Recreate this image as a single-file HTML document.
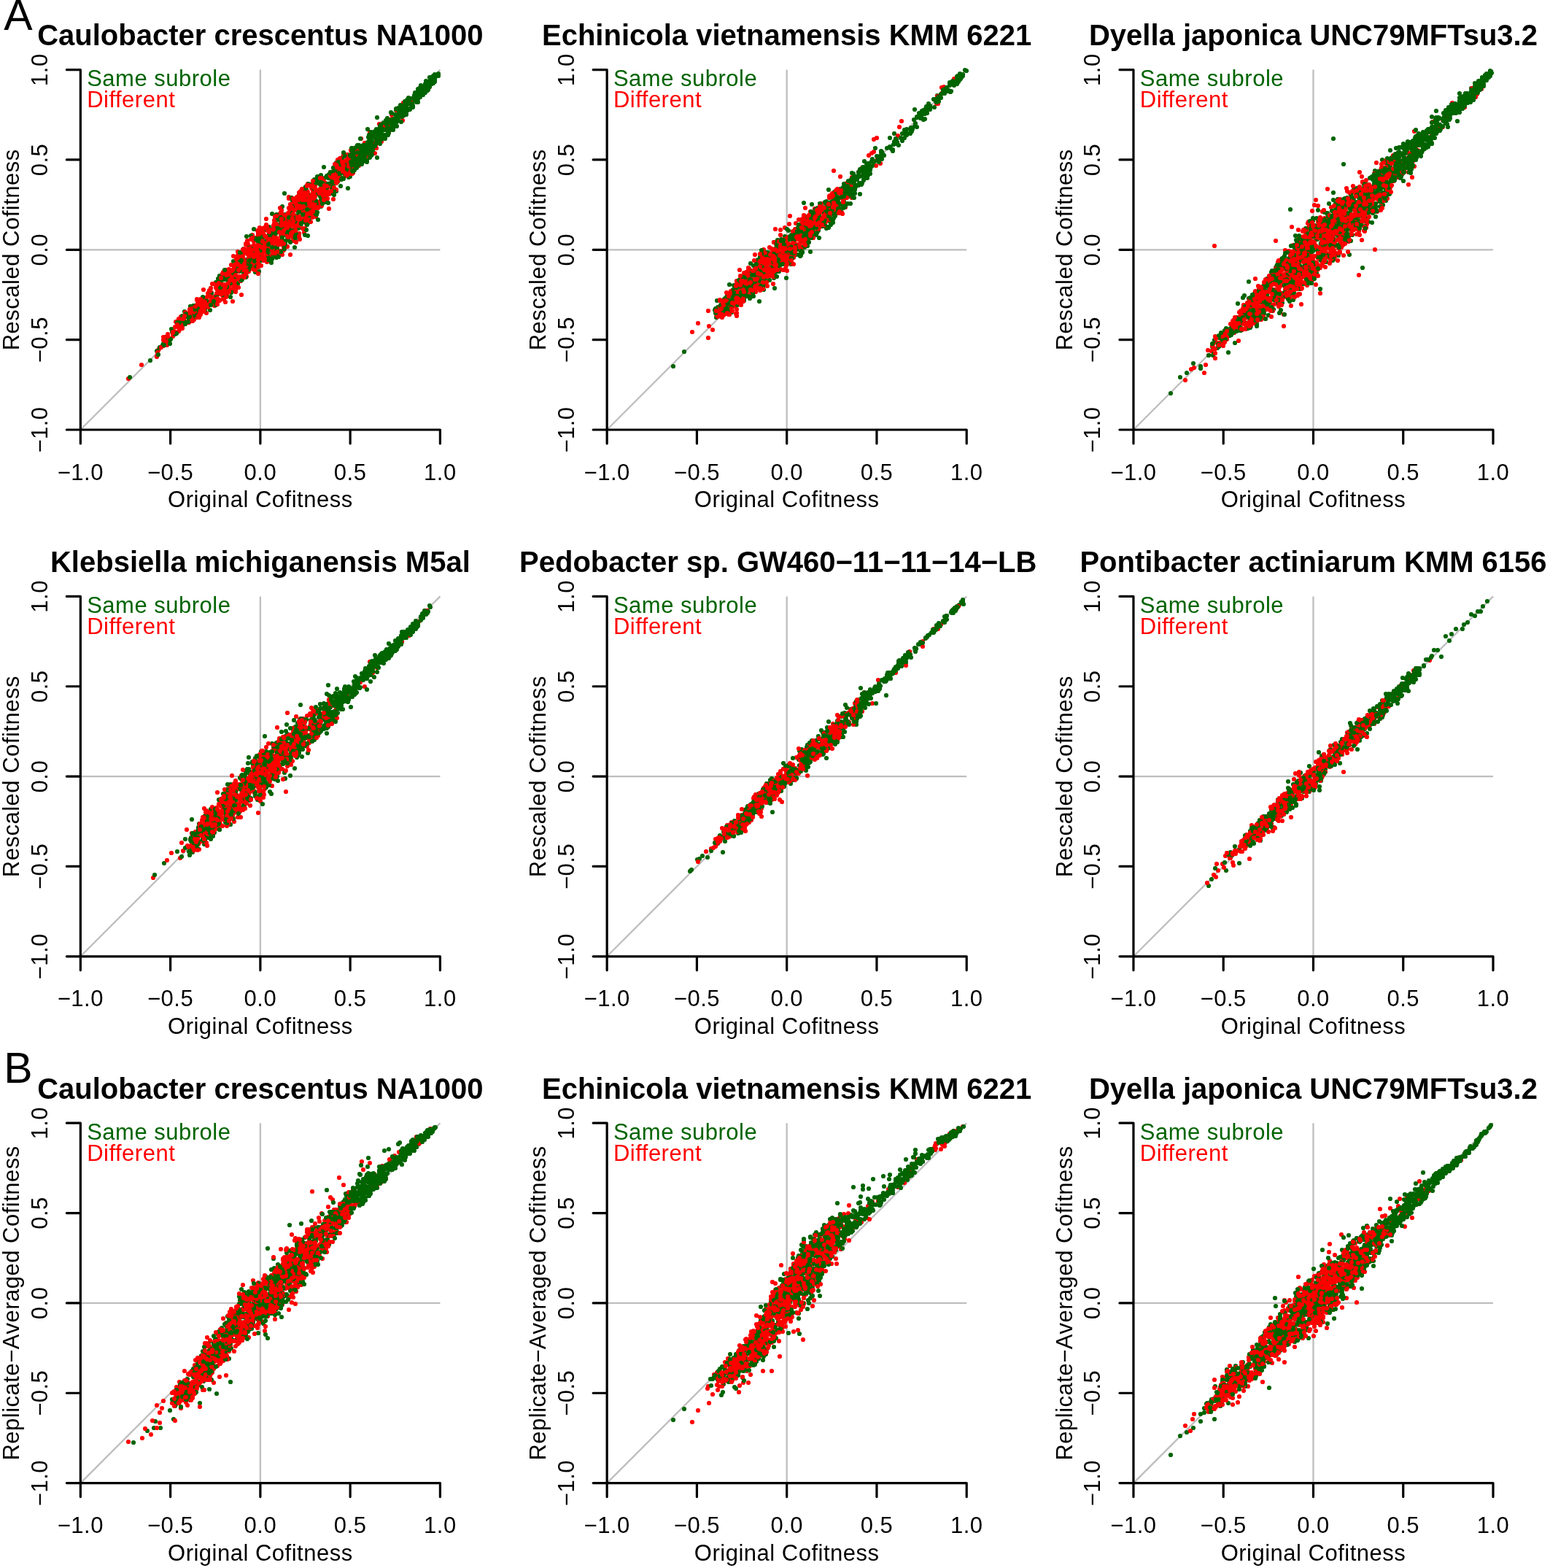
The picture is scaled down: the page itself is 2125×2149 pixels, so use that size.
<!DOCTYPE html><html><head><meta charset="utf-8"><style>html,body{margin:0;padding:0;background:#fff;}svg{display:block;}</style></head><body>
<svg xmlns="http://www.w3.org/2000/svg" width="2125" height="2149" viewBox="0 0 2125 2149" font-family="'Liberation Sans', Arial, Helvetica, sans-serif" font-size="31.0" letter-spacing="0.5">
<rect width="2125" height="2149" fill="#fff"/>
<path d="M356.88 589.00V95.60M110.35 342.30H603.41M110.35 589.00L603.41 95.60" stroke="#bebebe" stroke-width="2.3" fill="none"/>
<g stroke-width="6.2" stroke-linecap="round" fill="none">
<path d="M379 345h0m35 -62h0m-95 116h0m-55 33h0m177 -176h0m39 -39h0m-85 103h0m-73 70h0m-69 37h0m101 -63h0m57 -76h0m184 -182h0m-273 263h0m-18 12h0m-7 31h0m226 -232h0m-185 180h0m-29 40h0m57 -61h0m114 -121h0m-105 120h0m-82 78h0m118 -139h0m62 -46h0m-113 95h0m-47 59h0m92 -55h0m-108 57h0m130 -95h0m23 -48h0m-200 203h0m271 -253h0m-77 55h0m-107 110h0m-76 61h0m81 -53h0m111 -123h0m-14 33h0m-44 51h0m-72 53h0m142 -144h0m8 3h0m-54 25h0m168 -142h0m-235 228h0m-128 120h0m233 -211h0m-51 48h0m34 -34h0m-39 27h0m-113 114h0m177 -194h0m-200 198h0m86 -91h0m113 -86h0m-107 81h0m44 -48h0m47 -10h0m-66 32h0m58 -14h0m-114 83h0m50 -44h0m-4 28h0m18 -85h0m-35 75h0m0 32h0m64 -95h0m-77 68h0m68 -78h0m-31 73h0m197 -207h0m-311 302h0m-41 37h0m88 -73h0m112 -132h0m17 -10h0m37 -14h0m-81 70h0m49 -46h0m9 -2h0m-203 173h0m178 -183h0m-77 93h0m13 -19h0m-56 50h0m112 -108h0m-29 67h0m-91 45h0m156 -134h0m32 -42h0m-81 100h0m-64 49h0m67 -51h0m51 -56h0m-175 176h0m187 -200h0m65 -55h0m-24 15h0m-138 121h0m27 16h0m-69 50h0m130 -128h0m-62 42h0m36 -16h0m-84 49h0m-83 106h0m298 -285h0m-203 203h0m123 -125h0m73 -72h0m-236 201h0m94 -75h0m-52 70h0m57 -53h0m-125 108h0m127 -138h0m-103 130h0m25 -44h0m69 -85h0m-47 33h0m64 -42h0m-15 55h0m-30 -8h0m-58 43h0m-68 96h0m146 -166h0m-19 29h0m2 27h0m-16 24h0m-76 35h0m47 -13h0m216 -228h0m-281 274h0m146 -166h0m82 -68h0m-193 191h0m143 -139h0m-41 86h0m-149 107h0m114 -86h0m80 -109h0m-133 126h0m-7 -5h0m-2 12h0m-76 78h0m27 -32h0m185 -178h0m-72 86h0m90 -96h0m-73 86h0m-30 13h0m159 -147h0m-240 233h0" stroke="#006400"/>
<path d="M403 287h0m-100 112h0m197 -180h0m-32 5h0m-124 114h0m-14 24h0m45 -18h0m-103 83h0m141 -143h0m36 -22h0m-190 173h0m143 -156h0m15 -5h0m70 -71h0m36 -27h0m-141 157h0m-70 51h0m120 -122h0m-71 82h0m-18 6h0m-52 39h0m165 -151h0m-145 140h0m31 -28h0m121 -119h0m-213 214h0m156 -137h0m7 -31h0m-24 66h0m-47 19h0m65 -56h0m-21 23h0m62 -53h0m-26 27h0m-70 39h0m-32 9h0m26 -29h0m71 -40h0m87 -71h0m-221 218h0m84 -79h0m17 -5h0m60 -93h0m-19 16h0m-116 108h0m-18 37h0m49 -76h0m92 -82h0m-3 -2h0m-11 60h0m39 -72h0m-149 161h0m138 -140h0m-151 144h0m-16 -9h0m33 -7h0m84 -120h0m-47 87h0m7 -24h0m59 -47h0m19 -2h0m117 -135h0m-113 118h0m0 -25h0m-32 77h0m63 -99h0m-111 120h0m-5 1h0m-19 36h0m4 -34h0m61 -29h0m-94 91h0m37 -53h0m-2 -3h0m15 -2h0m21 -29h0m136 -122h0m-57 60h0m-194 171h0m61 -63h0m109 -98h0m-186 174h0m107 -103h0m33 -13h0m-142 121h0m132 -114h0m-131 117h0m-7 10h0m89 -108h0m33 -25h0m-141 153h0m50 -59h0m167 -137h0m-66 50h0m-55 37h0m275 -250h0m-160 133h0m-77 102h0m29 -5h0m59 -72h0m1 5h0m-36 3h0m-96 129h0m243 -255h0m-135 160h0m-93 39h0m24 -21h0m53 -40h0m-142 142h0m163 -187h0m-91 106h0m-114 122h0m126 -140h0m10 -24h0m-39 76h0m9 8h0m62 -103h0m-31 39h0m138 -133h0m-44 57h0m-73 62h0m-20 0h0m137 -95h0m-264 235h0m102 -95h0m87 -52h0m14 -28h0m-94 81h0m215 -203h0m-313 289h0m74 -71h0m-88 83h0m228 -213h0m-136 110h0m37 12h0m15 -24h0m96 -124h0m58 -33h0m-158 106h0m-91 111h0m87 -54h0m25 -56h0m55 -23h0m-20 2h0m-124 131h0m43 -67h0m-76 92h0m190 -185h0m-134 144h0m196 -200h0m-76 58h0m-130 127h0m102 -93h0m-22 53h0m46 -79h0m95 -89h0m45 -51h0m-321 313h0m6 -3h0m89 -105h0m-30 63h0m77 -66h0m7 -13h0m-54 51h0m34 -17h0m23 -33h0m-55 31h0m-18 3h0m71 -66h0m-42 77h0m167 -178h0m-108 116h0m-103 119h0m162 -207h0m-2 32h0m-28 18h0m-55 16h0m94 -66h0m-63 52h0m-175 181h0m104 -127h0m79 -46h0m-70 67h0m45 -69h0m43 -28h0m-47 96h0m-64 28h0m160 -163h0m-153 161h0m145 -145h0m-96 136h0m-70 15h0m3 -18h0m-102 127h0m125 -138h0m-124 131h0m144 -132h0m12 -46h0m-15 28h0m-34 45h0m245 -235h0m-337 328h0m40 -52h0m77 -64h0m213 -215h0m-186 216h0m31 -43h0m-143 118h0m49 -61h0m106 -99h0m35 -30h0m-178 183h0m-6 5h0m55 -33h0m134 -151h0m-169 172h0m-16 -2h0m184 -172h0m-43 72h0m-132 110h0m55 -43h0m-45 35h0m105 -72h0m-36 12h0m-93 80h0m84 -74h0m-29 -12h0m83 -27h0m-193 159h0m182 -197h0m107 -66h0m-244 213h0m137 -106h0m-45 31h0m2 -30h0m38 -38h0m143 -119h0m-135 130h0m17 -31h0m-85 97h0m121 -114h0m-124 127h0m53 -45h0m-11 -19h0" stroke="#ff0000"/>
<path d="M458 242h0m-108 100h0m-70 69h0m316 -303h0m-227 203h0m68 -63h0m37 -8h0m-200 192h0m-30 8h0m327 -307h0m-159 131h0m-76 111h0m128 -137h0m-141 129h0m82 -61h0m-73 62h0m-12 21h0m131 -150h0m-51 60h0m55 -51h0m-105 106h0m188 -190h0m-195 204h0m118 -145h0m-154 183h0m16 -26h0m154 -122h0m-140 122h0m78 -88h0m-126 103h0m25 -23h0m116 -111h0m-94 95h0m51 -73h0m-33 48h0m40 -6h0m123 -145h0m-164 183h0m36 -46h0m18 -42h0m31 6h0m-99 92h0m-97 84h0m225 -213h0m-88 109h0m53 -84h0m-144 137h0m115 -129h0m-6 24h0m3 -30h0m22 13h0m-114 111h0m154 -148h0m-1 15h0m-25 15h0m-27 36h0m37 -36h0m20 -55h0m-18 39h0m109 -116h0m-181 199h0m142 -152h0m-137 109h0m9 -4h0m-133 135h0m4 -12h0m149 -100h0m-44 28h0m-42 39h0m208 -204h0m-86 68h0m31 -24h0m-59 50h0m-28 64h0m52 -97h0m-6 22h0m41 -54h0m-11 30h0m-45 66h0m-114 100h0m144 -143h0m-87 66h0m-104 103h0m85 -69h0m96 -111h0m-40 36h0m38 -37h0m44 -30h0m-40 50h0m-74 70h0m103 -112h0m-193 178h0m162 -139h0m-12 23h0m22 -41h0m-128 129h0m236 -230h0m-225 221h0m-63 52h0m99 -102h0m83 -86h0m-45 53h0m-82 78h0m48 -53h0m-138 141h0m137 -114h0m110 -138h0m60 -52h0m-219 207h0m41 -44h0m199 -178h0m-123 144h0m-82 71h0m50 -41h0m53 -75h0m-195 190h0m169 -148h0m-137 105h0m35 -8h0m83 -84h0m59 -54h0m38 -55h0m-117 126h0m58 -47h0m-236 216h0m109 -104h0m12 -37h0m-19 38h0m114 -131h0m-33 83h0m-1 -42h0m68 -39h0m-140 115h0m25 -16h0m203 -196h0m-91 82h0m-37 31h0m38 -5h0m-19 -14h0m-132 166h0m-58 35h0m179 -161h0m-89 57h0m37 -18h0m63 -77h0m22 -6h0m-52 47h0m-54 31h0m-97 104h0m306 -294h0m-242 234h0m148 -130h0m-111 88h0m-53 67h0m61 -71h0m100 -93h0m-270 274h0m188 -189h0m-60 37h0m-2 41h0m99 -131h0m42 -39h0m-164 180h0m45 -46h0m14 6h0m-77 60h0m65 -65h0m47 -62h0m32 5h0m23 -46h0m-33 8h0m-111 123h0m78 -70h0m2 6h0m-116 95h0m130 -112h0m-64 28h0m240 -209h0m-107 104h0" stroke="#006400"/>
<path d="M413 277h0m-123 131h0m99 -88h0m143 -144h0m-129 151h0m1 -12h0m58 -86h0m-29 68h0m-187 145h0m269 -252h0m-110 119h0m-11 11h0m16 0h0m79 -111h0m-120 105h0m-99 117h0m89 -118h0m89 -51h0m-67 56h0m18 -28h0m145 -139h0m-138 171h0m-20 0h0m43 -61h0m-163 177h0m5 -22h0m126 -129h0m-25 53h0m41 -57h0m-19 55h0m-81 62h0m152 -154h0m-175 155h0m66 -58h0m-28 10h0m117 -103h0m-134 154h0m110 -120h0m38 -59h0m-11 41h0m-147 146h0m-71 46h0m198 -174h0m57 -78h0m-231 238h0m114 -106h0m-48 53h0m42 -56h0m-7 -15h0m-107 123h0m141 -140h0m-7 27h0m-56 15h0m77 -38h0m-88 89h0m53 -60h0m-114 105h0m104 -77h0m54 -100h0m-86 108h0m174 -176h0m-70 56h0m-131 147h0m120 -133h0m-21 26h0m0 0h0m97 -102h0m-171 182h0m147 -143h0m12 -16h0m-5 9h0m-21 26h0m-9 12h0m-133 116h0m86 -46h0m-133 94h0m27 -9h0m-16 12h0m121 -119h0m-128 116h0m183 -186h0m-120 109h0m-87 87h0m277 -265h0m-148 170h0m-16 18h0m59 -67h0m-33 59h0m-81 24h0m103 -66h0m-132 110h0m-7 14h0m119 -119h0m29 -22h0m-91 73h0m-73 65h0m111 -103h0m-12 21h0m184 -183h0m-217 211h0m181 -167h0m-64 70h0m-89 87h0m-42 46h0m55 -91h0m-65 75h0m123 -112h0m-145 141h0m104 -97h0m-101 99h0m95 -92h0m113 -125h0m-32 33h0m-46 82h0m-109 91h0m138 -129h0m-102 86h0m103 -109h0m-155 151h0m118 -129h0m151 -131h0m-266 268h0m62 -92h0m41 -23h0m-7 25h0m23 -43h0m47 -2h0m-88 59h0m32 -38h0m-16 0h0m-21 34h0m11 -14h0m-105 113h0m199 -203h0m-130 112h0m-10 49h0m18 -26h0m44 -81h0m79 -50h0m-189 190h0m245 -261h0m-136 115h0m-5 41h0m96 -114h0m-97 108h0m34 -44h0m183 -170h0m-205 195h0m67 -71h0m-58 93h0m-54 30h0m-6 -6h0m-38 56h0m160 -152h0m-108 114h0m83 -117h0m50 -36h0m-204 198h0m15 -14h0m162 -166h0m-56 56h0m24 -31h0m-6 21h0m-41 37h0m-64 64h0m124 -110h0m-28 -5h0m14 42h0m-10 -12h0m-86 93h0m3 -5h0m-32 9h0m34 -11h0m45 -41h0m-116 89h0m257 -245h0m-16 25h0m-139 126h0m29 -24h0m29 -28h0m-125 130h0m147 -147h0m-179 165h0m196 -209h0m-142 158h0m159 -141h0m-223 196h0m143 -111h0m114 -111h0m-169 144h0m-94 86h0m123 -113h0m-72 65h0m0 0h0m168 -159h0m-129 116h0m-111 122h0m314 -322h0m-307 312h0m98 -85h0m0 -6h0m-120 119h0m19 -25h0m36 -30h0m102 -117h0m51 -38h0m-105 107h0m-48 25h0m158 -114h0m-5 -29h0m-199 206h0m107 -70h0m18 -42h0m139 -139h0m47 -47h0m-168 140h0m-8 32h0m59 -46h0m70 -94h0m-44 64h0m-268 247h0m97 -84h0m112 -125h0m-28 25h0m121 -114h0m-124 124h0m58 -46h0m-64 37h0m95 -68h0m-49 55h0m-43 41h0m50 -44h0m-111 90h0m87 -78h0m-59 49h0m31 -32h0m-16 2h0m55 -15h0m6 -32h0m-124 106h0m124 -110h0m-179 188h0m214 -224h0" stroke="#ff0000"/>
<path d="M477 230h0m-11 3h0m102 -102h0m-133 116h0m11 24h0m-41 8h0m2 7h0m-3 18h0m50 -66h0m23 1h0m-107 75h0m10 26h0m-58 37h0m220 -213h0m-152 136h0m6 14h0m65 -76h0m-55 63h0m87 -76h0m36 -39h0m-96 64h0m-152 175h0m77 -107h0m24 34h0m24 -67h0m63 -69h0m-119 151h0m42 -37h0m-5 -1h0m149 -155h0m-282 270h0m86 -74h0m-39 8h0m90 -44h0m205 -224h0m-190 204h0m18 -24h0m-78 59h0m98 -120h0m-53 65h0m-13 26h0m-107 109h0m147 -153h0m21 -17h0m-43 59h0m-162 147h0m184 -206h0m33 7h0m103 -117h0m-144 135h0m175 -169h0m-182 202h0m26 -41h0m27 -33h0m-91 89h0m58 -31h0m-57 57h0m151 -163h0m-290 267h0m41 -28h0m139 -138h0m11 -38h0m-102 130h0m27 -25h0m-36 20h0m160 -159h0m37 -26h0m-89 115h0m-97 62h0m87 -49h0m-9 -1h0m25 -33h0m-4 -29h0m-109 140h0m90 -71h0m186 -217h0m-197 195h0m-37 17h0m1 27h0m83 -77h0m-81 67h0m19 16h0m-60 16h0m26 -20h0m-6 -1h0m72 -37h0m-45 7h0m-2 9h0m173 -163h0m-172 182h0m10 -8h0m73 -83h0m-130 131h0m250 -255h0m-231 210h0m-97 118h0m193 -197h0m-3 -17h0m-7 42h0m3 -38h0m-81 68h0m121 -89h0m-224 216h0m142 -139h0m47 -28h0m24 -27h0m-152 130h0m92 -85h0m-28 29h0m-40 27h0m-43 65h0m33 -19h0m77 -110h0m4 15h0m-58 63h0m69 -56h0m175 -199h0m-272 263h0m109 -103h0m123 -110h0m-287 266h0m255 -234h0m-58 54h0m-110 109h0m-6 22h0m23 -60h0m79 -33h0m-114 83h0m112 -115h0m-26 67h0m-73 33h0m-92 99h0m180 -176h0m60 -40h0m-265 239h0m130 -128h0m153 -144h0m-183 176h0m111 -111h0m-116 127h0m88 -85h0m8 8h0m52 -83h0m-145 130h0m118 -125h0m-125 145h0m87 -90h0m-75 84h0m122 -145h0m-42 76h0m-3 -19h0m48 -31h0m-220 207h0m347 -335h0m-289 270h0m83 -97h0m40 28h0m104 -125h0m-123 131h0m16 -42h0m-100 83h0m147 -119h0m15 -39h0" stroke="#006400"/>
<path d="M431 257h0m-7 26h0m-141 128h0m87 -95h0m-81 98h0m173 -190h0m-80 84h0m51 -24h0m-96 51h0m77 -66h0m4 30h0m26 -25h0m-46 16h0m6 6h0m-16 19h0m35 -34h0m-38 51h0m148 -150h0m-163 160h0m210 -221h0m-188 184h0m-26 5h0m43 -40h0m-149 154h0m83 -82h0m11 11h0m49 -76h0m-72 74h0m-87 89h0m97 -86h0m231 -221h0m-186 159h0m34 -7h0m12 -27h0m19 6h0m-77 77h0m16 -37h0m11 -11h0m-77 62h0m35 -25h0m-46 58h0m154 -156h0m-220 216h0m235 -237h0m14 2h0m-67 35h0m-75 74h0m53 -51h0m7 -12h0m4 39h0m-118 113h0m9 -19h0m178 -180h0m-137 158h0m149 -155h0m38 -58h0m-168 159h0m43 -45h0m-182 190h0m64 -42h0m208 -205h0m-286 269h0m99 -105h0m150 -147h0m-69 54h0m174 -156h0m-248 255h0m4 -2h0m12 -11h0m195 -196h0m-157 131h0m16 -10h0m29 -7h0m-133 129h0m293 -298h0m-259 271h0m210 -226h0m-150 129h0m87 -63h0m-228 210h0m206 -174h0m-207 181h0m253 -243h0m-222 214h0m3 -3h0m187 -175h0m132 -127h0m-240 228h0m41 -31h0m-4 -13h0m-27 25h0m-139 143h0m141 -132h0m127 -134h0m-204 213h0m217 -204h0m-184 171h0m55 -78h0m-41 56h0m-48 60h0m196 -180h0m-41 20h0m-85 88h0m83 -67h0m-12 -11h0m-86 76h0m75 -61h0m-7 26h0m-216 191h0m139 -130h0m85 -101h0m-154 170h0m82 -80h0m60 -82h0m-24 18h0m-12 20h0m93 -67h0m-180 169h0m129 -114h0m62 -62h0m-91 94h0m23 -48h0m22 3h0m-126 105h0m107 -86h0m23 -40h0m-29 33h0m-128 118h0m120 -121h0m29 -45h0m-120 149h0m44 -57h0m-48 45h0m166 -174h0m-161 182h0m102 -129h0m74 -48h0m-222 207h0m11 6h0m2 -8h0m89 -76h0m-1 -33h0m-144 165h0m75 -71h0m86 -101h0m-8 15h0m51 -59h0m-51 61h0m9 -17h0m-63 68h0m108 -88h0m66 -82h0m-179 161h0m112 -116h0m-56 79h0m31 -33h0m44 -22h0m-104 97h0m-36 26h0m183 -164h0m-81 72h0m36 -33h0m-18 -21h0m64 -45h0m-60 60h0m-64 43h0m-1 30h0m-60 46h0m34 -34h0m154 -142h0m-242 239h0m227 -215h0m-123 125h0m-129 114h0m56 -49h0m71 -75h0m-45 47h0m-28 26h0m46 -59h0m24 -22h0m53 -38h0m155 -164h0m-121 135h0m83 -77h0m-129 117h0m-38 14h0m26 -4h0m-98 89h0m-32 32h0m64 -51h0m192 -182h0m-49 39h0m-78 64h0m106 -80h0m-89 61h0m-25 52h0m-41 43h0m120 -149h0m-97 124h0m75 -106h0m36 -25h0m-144 137h0m-25 26h0m66 -48h0m86 -92h0m-27 31h0m-143 135h0m174 -164h0m33 -32h0m-215 192h0m-18 14h0m240 -215h0m-100 73h0m-126 147h0m43 -51h0m25 3h0m-98 76h0m137 -146h0m-35 41h0m66 -71h0m-18 3h0m36 -23h0m-8 11h0m-10 24h0m-8 -6h0m3 7h0m-15 -13h0m64 -16h0m66 -100h0m-180 171h0m86 -72h0m-57 67h0m-119 109h0m82 -86h0m-82 85h0m129 -96h0m105 -147h0m-244 259h0m122 -134h0m46 -45h0m-32 20h0m-56 80h0m154 -132h0m-30 21h0m-29 -9h0m-4 8h0m7 31h0m-45 32h0m119 -120h0m-164 149h0m63 -60h0m34 -44h0m-134 157h0" stroke="#ff0000"/>
<path d="M409 280h0m-18 38h0m80 -109h0m-53 54h0m-18 61h0m19 -44h0m2 7h0m-40 26h0m5 0h0m29 -35h0m-47 57h0m-151 151h0m66 -74h0m34 -11h0m273 -295h0m-134 130h0m-114 121h0m99 -83h0m-121 96h0m113 -95h0m-18 19h0m110 -123h0m-109 133h0m23 -35h0m-84 70h0m109 -117h0m-84 94h0m-110 116h0m147 -129h0m59 -72h0m-186 171h0m7 4h0m72 -86h0m41 -30h0m-95 92h0m168 -153h0m-155 140h0m127 -120h0m-99 109h0m83 -109h0m17 6h0m-139 127h0m-59 59h0m97 -114h0m-112 115h0m135 -123h0m-153 154h0m148 -118h0m33 -34h0m65 -76h0m-163 125h0m134 -119h0m-84 80h0m78 -30h0m92 -128h0m-157 158h0m-16 9h0m-66 78h0m4 -5h0m32 -42h0m133 -110h0m-109 97h0m31 -12h0m44 -51h0m91 -105h0m24 -26h0m-233 218h0m112 -60h0m-11 -22h0m101 -104h0m-160 118h0m99 -71h0m21 3h0m-137 111h0m142 -143h0m-54 65h0m-17 18h0m55 -67h0m144 -127h0m-54 52h0m-72 85h0m-204 183h0m40 -40h0m-38 44h0m128 -135h0m12 15h0m44 -52h0m-82 96h0m-108 73h0m-12 6h0m292 -272h0m-149 165h0m59 -64h0m11 -22h0m-26 42h0m-57 27h0m-6 -12h0m-50 76h0m49 -57h0m106 -104h0m-6 15h0m-176 170h0m27 -48h0m39 10h0m20 -56h0m54 -47h0m-57 45h0m-15 28h0m87 -71h0m-44 51h0m21 -12h0m-131 94h0m76 -49h0m3 -38h0m112 -98h0m-261 268h0m114 -128h0m118 -105h0m-207 197h0m-6 5h0m198 -162h0m-65 25h0m107 -104h0m-220 233h0m197 -208h0m-96 115h0m77 -87h0m-129 124h0m-143 141h0m352 -346h0m-208 209h0m68 -43h0m-18 -17h0m-5 34h0m-10 -11h0m23 -45h0m-29 30h0m69 -26h0m-124 116h0m91 -93h0m-35 40h0m15 -22h0m53 -28h0m38 -48h0m-212 175h0m150 -144h0" stroke="#006400"/>
<path d="M305 390h0m248 -249h0m-253 247h0m15 -4h0m90 -68h0m-98 94h0m101 -110h0m0 -2h0m-96 78h0m64 -29h0m12 -27h0m122 -133h0m-36 33h0m-118 100h0m-60 74h0m90 -63h0m20 -57h0m-103 127h0m65 -73h0m-33 36h0m64 -44h0m-39 35h0m140 -159h0m-46 66h0m-156 155h0m162 -177h0m-50 84h0m-92 47h0m98 -105h0m35 0h0m-116 78h0m60 -19h0m6 -26h0m166 -162h0m-131 147h0m-90 42h0m158 -116h0m-43 16h0m47 -16h0m-92 73h0m-163 150h0m149 -125h0m-91 68h0m247 -226h0m-214 193h0m78 -42h0m2 -27h0m103 -105h0m-117 113h0m-165 166h0m92 -103h0m-40 57h0m132 -112h0m45 -52h0m-57 26h0m-16 42h0m18 -4h0m-99 83h0m15 -5h0m98 -120h0m-54 36h0m148 -107h0m-50 28h0m-71 63h0m-132 149h0m34 -39h0m67 -76h0m14 2h0m-54 46h0m-13 23h0m126 -130h0m-30 9h0m-6 21h0m-58 81h0m19 -34h0m-17 5h0m45 -30h0m-38 5h0m94 -39h0m-159 117h0m92 -83h0m40 -35h0m-9 -18h0m-50 74h0m99 -93h0m25 -24h0m-57 54h0m-135 116h0m54 -63h0m119 -78h0m-52 39h0m-78 71h0m40 -45h0m-107 108h0m61 -71h0m58 -33h0m129 -123h0m-127 133h0m-11 15h0m-30 5h0m103 -110h0m-182 196h0m-18 0h0m153 -112h0m-143 120h0m73 -90h0m-15 24h0m-56 65h0m152 -139h0m-149 130h0m233 -236h0m-95 87h0m43 -17h0m-150 145h0m-40 18h0m-43 42h0m117 -116h0m-16 33h0m133 -135h0m-40 30h0m59 -50h0m56 -46h0m-174 153h0m26 -31h0m63 -28h0m-156 117h0m176 -167h0m-162 178h0m-23 7h0m128 -124h0m-89 94h0m10 -35h0m41 5h0m-99 63h0m78 -74h0m-75 86h0m143 -128h0m-146 132h0m126 -120h0m42 -38h0m-39 20h0m174 -166h0m-138 140h0m-46 50h0m126 -131h0m-195 180h0m132 -121h0m-71 69h0m-68 71h0m190 -192h0m-117 107h0m-81 112h0m-22 -8h0m65 -54h0m33 -40h0m-135 132h0m130 -102h0m63 -61h0m119 -135h0m-151 161h0m-13 24h0m-30 -6h0m109 -90h0m-151 142h0m80 -85h0m18 -9h0m-15 21h0m-96 74h0m-25 24h0m-8 19h0m69 -75h0m91 -80h0m-78 96h0m76 -96h0m-74 49h0m-64 103h0m-51 39h0m130 -122h0m21 -10h0m-81 51h0m15 -28h0m109 -82h0m-220 203h0m261 -230h0m-146 98h0m5 -2h0m36 17h0m76 -102h0m13 -21h0m-115 134h0m-2 -15h0m-38 59h0m126 -156h0m-38 49h0m-104 116h0m56 -89h0m172 -148h0m-203 190h0m6 17h0m25 -18h0m85 -117h0m-90 98h0m34 -24h0m-78 57h0m165 -150h0m14 1h0m-96 81h0m90 -90h0m-124 133h0m-45 43h0m117 -114h0m-16 -6h0m-167 172h0m202 -191h0m-133 147h0m143 -158h0m-181 188h0m88 -89h0m-74 64h0m52 -72h0m35 -25h0m114 -99h0" stroke="#ff0000"/>
<path d="M498 199h0m9 17h0m94 -112h0m-83 78h0m-25 19h0m7 2h0m61 -64h0m-56 49h0m-11 28h0m52 -68h0m28 -21h0m22 -25h0m-109 125h0m48 -59h0m33 -34h0m-57 68h0m-26 2h0m30 -23h0m-9 21h0m26 -34h0m-37 50h0m87 -100h0m-13 9h0m-22 30h0m-24 34h0m-32 31h0m5 0h0m-11 -7h0m88 -75h0m-73 59h0m9 -18h0m-4 29h0m68 -77h0m8 -9h0m-75 61h0m83 -74h0m-69 85h0m56 -65h0m8 -20h0m-4 15h0m-85 74h0m-12 34h0m20 -27h0m63 -72h0m-60 58h0m1 -7h0m-3 -9h0m43 -25h0m8 -13h0m-55 68h0m51 -57h0m-34 36h0m-19 20h0m9 -21h0m70 -56h0m7 -4h0m-40 34h0m-30 41h0m60 -76h0m-24 28h0m-29 22h0m67 -55h0m-60 66h0m16 -12h0m6 -6h0m26 -47h0m-1 2h0m-87 96h0m49 -46h0m-23 17h0m80 -75h0m-55 61h0m-33 20h0m48 -37h0m-22 27h0m33 -50h0m-23 22h0m-52 52h0m19 -23h0m-17 14h0m-12 13h0m81 -75h0m-27 38h0m-18 20h0m78 -92h0m-13 22h0m-28 25h0m-5 5h0m-15 26h0m-29 13h0m51 -52h0m-73 69h0m4 21h0m58 -74h0m53 -54h0m-75 84h0m1 -5h0m-40 23h0m83 -60h0m-82 88h0m61 -85h0m29 -16h0m-5 1h0m0 -6h0m-23 31h0m-56 40h0m67 -49h0m-54 49h0m88 -88h0m-29 23h0m-5 21h0m-48 32h0m-28 26h0m19 0h0m12 -29h0m7 -2h0m18 -28h0m-26 45h0m43 -50h0m-5 3h0m-17 14h0m48 -37h0m-83 85h0m56 -65h0m-27 18h0m-7 26h0m-5 -7h0m13 -2h0m-28 27h0m59 -63h0m-48 54h0m13 -27h0m-22 43h0m59 -77h0m22 -15h0m-62 61h0m-15 12h0m-20 10h0m52 -34h0m-13 3h0m45 -41h0m-38 24h0m52 -42h0m-33 39h0m-14 -5h0m36 -21h0m-3 4h0m17 -13h0m-74 61h0m-5 6h0m26 -15h0m-33 33h0m20 -32h0m-34 56h0m56 -63h0m-3 3h0m-48 53h0m99 -116h0m-81 74h0m-7 21h0m43 -47h0m8 -10h0m-24 17h0m54 -41h0m-2 -2h0m-86 81h0m75 -76h0m3 1h0m-80 87h0m-10 9h0m65 -73h0m39 -39h0m-95 106h0m-6 1h0m8 -10h0m64 -72h0m26 -12h0m-4 0h0m-52 65h0m40 -56h0m-3 8h0m-57 59h0m-12 24h0m44 -62h0m31 -33h0m-25 32h0m-38 44h0m53 -64h0m-67 48h0m32 -2h0m25 -35h0m-3 -3h0m45 -42h0m-5 4h0m-71 67h0m-14 41h0m51 -65h0m38 -43h0m-97 106h0m2 2h0m20 -41h0m38 -38h0m-39 36h0m71 -60h0m-11 11h0m15 -20h0m-34 39h0m-69 82h0m71 -90h0m-71 63h0m69 -53h0m-60 71h0m-15 6h0m62 -59h0m5 -8h0m-8 9h0m-38 54h0m-5 -9h0m3 -1h0m20 -33h0m62 -61h0m-75 84h0m41 -58h0m-67 59h0m102 -86h0m-94 82h0m8 22h0m24 -33h0m15 -24h0m21 -23h0m24 -21h0m8 -11h0m-59 57h0m-25 40h0m6 -22h0m-3 11h0m8 21h0m-7 -4h0m77 -92h0m-39 32h0m-63 64h0m104 -110h0m-71 89h0m-22 18h0m3 6h0m21 -29h0m-28 27h0m6 -16h0m85 -74h0m13 -15h0m-6 -1h0m-79 90h0m-5 3h0m31 -32h0m46 -57h0m-75 75h0m3 16h0m10 -33h0m30 -13h0m22 -38h0m-5 9h0m-22 34h0m-12 12h0m56 -66h0m-65 66h0m-14 9h0m-3 1h0m82 -78h0m-101 121h0m67 -78h0m-34 19h0m15 -4h0m21 -24h0m32 -32h0m-1 8h0m-57 61h0m42 -49h0m-29 29h0m10 -12h0m46 -47h0m-62 75h0m-58 46h0m110 -112h0m-85 89h0m37 -50h0m-38 54h0m87 -88h0m-54 50h0m-11 13h0m-29 31h0m16 -29h0m-24 48h0m49 -50h0m-12 7h0m36 -37h0m-18 17h0m17 -15h0m-5 7h0m-4 -6h0m-64 71h0m49 -55h0m-17 30h0m39 -63h0m-68 82h0m81 -80h0m-14 4h0m-8 14h0m-21 17h0m1 13h0m31 -49h0m-5 5h0m22 -13h0m-62 34h0m63 -33h0m-36 34h0m-34 32h0" stroke="#006400"/>
</g>
<path d="M110.35 589.00H603.41M110.35 589.00V95.60M110.35 589.00v19.0M110.35 589.00h-19.0M233.62 589.00v19.0M110.35 465.65h-19.0M356.88 589.00v19.0M110.35 342.30h-19.0M480.14 589.00v19.0M110.35 218.95h-19.0M603.41 589.00v19.0M110.35 95.60h-19.0" stroke="#000" stroke-width="3.2" stroke-linecap="round" fill="none"/>
<text x="110.35" y="657.50" text-anchor="middle">−1.0</text>
<text x="233.62" y="657.50" text-anchor="middle">−0.5</text>
<text x="356.88" y="657.50" text-anchor="middle">0.0</text>
<text x="480.14" y="657.50" text-anchor="middle">0.5</text>
<text x="603.41" y="657.50" text-anchor="middle">1.0</text>
<text transform="translate(64.85 589.00) rotate(-90)" text-anchor="middle">−1.0</text>
<text transform="translate(64.85 465.65) rotate(-90)" text-anchor="middle">−0.5</text>
<text transform="translate(64.85 342.30) rotate(-90)" text-anchor="middle">0.0</text>
<text transform="translate(64.85 218.95) rotate(-90)" text-anchor="middle">0.5</text>
<text transform="translate(64.85 95.60) rotate(-90)" text-anchor="middle">1.0</text>
<text x="356.88" y="695.00" text-anchor="middle">Original Cofitness</text>
<text transform="translate(26.35 342.30) rotate(-90)" text-anchor="middle">Rescaled Cofitness</text>
<text x="356.88" y="62.30" text-anchor="middle" font-weight="bold" font-size="40.0" letter-spacing="0">Caulobacter crescentus NA1000</text>
<text x="119.15" y="118.20" fill="#006400">Same subrole</text>
<text x="119.15" y="147.40" fill="#ff0000">Different</text>
<path d="M1078.68 589.00V95.60M832.15 342.30H1325.21M832.15 589.00L1325.21 95.60" stroke="#bebebe" stroke-width="2.3" fill="none"/>
<g stroke-width="6.2" stroke-linecap="round" fill="none">
<path d="M1060 352h0m45 -38h0m70 -60h0m-147 138h0m12 -11h0m107 -120h0m-60 64h0m-45 42h0m70 -76h0m97 -83h0m-143 164h0m-22 -24h0m-38 43h0m124 -93h0m9 -4h0m-67 54h0m-71 78h0m161 -147h0m-19 1h0m-138 132h0m133 -143h0m-64 76h0m-11 19h0m52 -61h0m-85 71h0m103 -98h0m3 36h0m-23 10h0m16 -21h0m-127 113h0m13 -12h0m95 -92h0m-56 58h0m85 -64h0m-97 81h0m3 -25h0m267 -255h0m-175 177h0m165 -169h0m-299 299h0m15 -1h0m23 -47h0m20 17h0m-3 -40h0m70 -57h0m3 -6h0m-6 9h0m-40 66h0m-103 82h0m62 -61h0m57 -44h0m22 -20h0m-104 88h0m60 -53h0m77 -81h0m-75 52h0m82 -67h0m-61 29h0m-60 84h0m42 0h0m-35 -14h0m236 -217h0m-171 168h0m-7 14h0m55 -51h0m-139 144h0m133 -149h0m-36 31h0m15 -9h0m56 -50h0m-202 205h0m74 -66h0m54 -70h0m-35 37h0m-14 26h0m68 -101h0m-89 114h0m235 -237h0m-175 175h0m37 -33h0m-94 83h0m10 -16h0m-72 72h0m33 -12h0m-38 6h0m85 -40h0m43 -49h0m-19 4h0m-31 37h0m-56 33h0m82 -46h0m61 -79h0m-155 157h0m233 -235h0m-234 217h0m105 -60h0m3 -5h0m-91 50h0m113 -80h0m-46 8h0m37 -30h0m-65 97h0m8 -24h0m77 -54h0m-112 84h0m23 -41h0m-64 69h0m165 -129h0m-23 -7h0m-75 92h0m-55 33h0m69 -82h0m33 10h0m45 -41h0m-64 46h0m42 -38h0m-32 13h0m16 8h0m42 -42h0m-45 29h0m-33 62h0m80 -109h0m-31 44h0m-93 74h0m-17 21h0m57 -65h0m-58 84h0m3 -26h0m19 -16h0m98 -93h0m-40 32h0m-61 79h0m135 -128h0m-137 134h0m2 -10h0m127 -122h0m9 -7h0m-14 23h0m-111 70h0m-13 48h0" stroke="#006400"/>
<path d="M1066 356h0m-31 19h0m24 -22h0m63 -51h0m21 -34h0m-35 63h0m61 -82h0m-159 140h0m-23 22h0m146 -121h0m-21 35h0m-77 44h0m65 -55h0m-29 35h0m24 -25h0m-18 25h0m-19 -1h0m-34 30h0m1 -3h0m52 -32h0m45 -52h0m-73 63h0m12 -22h0m49 -22h0m7 -14h0m-72 76h0m-1 -1h0m79 -72h0m-74 48h0m89 -62h0m30 -42h0m-149 148h0m-20 28h0m110 -101h0m31 -16h0m-70 13h0m-60 118h0m-18 -1h0m111 -126h0m-39 39h0m-54 40h0m-7 40h0m156 -165h0m-87 102h0m-70 57h0m18 -33h0m70 -72h0m23 -1h0m11 -3h0m-27 9h0m44 -39h0m-104 79h0m-40 49h0m24 -32h0m34 -8h0m109 -106h0m-110 107h0m49 -34h0m-73 52h0m99 -77h0m-29 1h0m-86 59h0m-43 93h0m103 -106h0m46 -61h0m78 -105h0m-159 177h0m31 -46h0m-23 29h0m27 -4h0m58 -69h0m-90 100h0m4 -5h0m41 -56h0m-46 70h0m42 -91h0m-87 105h0m124 -100h0m-69 64h0m72 -60h0m-125 99h0m82 -68h0m228 -228h0m-359 347h0m166 -152h0m-5 10h0m-90 81h0m2 -10h0m30 8h0m7 -31h0m-24 37h0m112 -106h0m-116 85h0m49 -49h0m-29 31h0m88 -72h0m-49 54h0m-46 15h0m69 -31h0m-61 22h0m8 -2h0m56 -46h0m-98 109h0m113 -100h0m46 -72h0m-157 150h0m106 -107h0m-90 103h0m15 -22h0m-43 52h0m103 -89h0m43 -32h0m-54 23h0m-76 68h0m-1 7h0m-1 -12h0m-21 42h0m71 -63h0m21 -32h0m9 -19h0m192 -180h0m-167 182h0m55 -77h0m-121 146h0m18 -5h0m49 -73h0m-134 125h0m95 -97h0m-10 26h0m-97 79h0m33 -49h0m250 -230h0m-238 216h0m31 -27h0m65 -38h0m2 -21h0m-57 58h0m7 5h0m26 -7h0m25 -47h0m-169 152h0m165 -151h0m-41 45h0m26 -34h0m59 -52h0m-50 41h0m-46 68h0m-63 39h0m-23 35h0m116 -108h0m67 -70h0m-71 60h0m-88 103h0m33 -43h0m-17 26h0m22 -33h0" stroke="#ff0000"/>
<path d="M1042 368h0m89 -61h0m-77 68h0m59 -71h0m31 -41h0m-53 86h0m47 -58h0m-59 70h0m19 -54h0m-57 63h0m121 -101h0m-16 8h0m-59 61h0m-21 -8h0m23 2h0m14 -36h0m-122 127h0m95 -67h0m68 -62h0m-13 9h0m29 -48h0m-3 3h0m-99 99h0m17 -24h0m-53 70h0m77 -64h0m-36 4h0m-1 32h0m-13 -3h0m49 -31h0m174 -192h0m-231 223h0m-45 44h0m94 -69h0m-15 -12h0m-71 71h0m78 -70h0m-60 42h0m16 -16h0m39 -23h0m68 -75h0m-32 16h0m8 18h0m-48 37h0m91 -66h0m-111 100h0m-37 32h0m84 -70h0m3 8h0m47 -54h0m8 -18h0m-99 80h0m-47 67h0m107 -111h0m-79 86h0m-13 17h0m12 -50h0m8 41h0m13 -46h0m-66 78h0m152 -144h0m-101 87h0m-8 -2h0m28 -9h0m6 -33h0m88 -75h0m-151 154h0m298 -296h0m-234 228h0m-39 34h0m-39 36h0m100 -97h0m-22 43h0m86 -92h0m-141 132h0m87 -83h0m-44 58h0m-73 57h0m21 -25h0m32 -16h0m116 -101h0m-88 70h0m45 -47h0m-73 48h0m68 -36h0m-28 8h0m-41 65h0m9 -30h0m40 -27h0m-19 13h0m32 -37h0m-54 54h0m-34 18h0m17 2h0m48 -40h0m-37 67h0m79 -122h0m10 -5h0m-52 52h0m15 0h0m16 -6h0m13 -46h0m-69 61h0m-46 63h0m152 -128h0m-79 67h0m28 -34h0m-2 -11h0m-29 40h0m-31 37h0m76 -71h0m34 -36h0m-144 127h0m75 -57h0m-63 51h0m21 -38h0m-56 61h0m237 -235h0m-219 227h0m112 -88h0m-90 39h0m-7 27h0m130 -127h0m-153 155h0m116 -112h0m-67 69h0m23 -24h0m-55 41h0m24 2h0m28 -30h0m20 -17h0m-14 -8h0" stroke="#006400"/>
<path d="M1012 386h0m31 -22h0m47 -16h0m-19 -1h0m25 -13h0m-49 8h0m33 -17h0m57 -29h0m-91 71h0m15 12h0m42 -50h0m-10 6h0m-5 18h0m-4 -5h0m-41 15h0m7 -3h0m-51 71h0m112 -141h0m-53 63h0m47 -31h0m45 -60h0m-139 126h0m-9 11h0m6 7h0m104 -100h0m-97 101h0m-44 19h0m131 -120h0m1 12h0m-74 60h0m125 -118h0m-67 68h0m59 -54h0m-126 115h0m-23 21h0m64 -52h0m-6 18h0m41 -49h0m14 -22h0m-95 104h0m62 -39h0m25 -69h0m-11 5h0m12 20h0m-93 60h0m56 -38h0m-57 82h0m6 -31h0m-25 36h0m74 -100h0m-87 117h0m176 -181h0m-49 14h0m43 -3h0m-89 89h0m-71 41h0m107 -88h0m38 -38h0m-30 44h0m-87 68h0m46 -51h0m-38 48h0m-26 8h0m39 -3h0m68 -91h0m-94 115h0m132 -136h0m-26 30h0m-58 58h0m2 3h0m-5 -25h0m-50 46h0m112 -114h0m29 -25h0m-23 51h0m38 -61h0m-17 23h0m-25 25h0m-79 96h0m254 -276h0m-91 99h0m-196 202h0m25 -24h0m82 -87h0m-40 26h0m-90 95h0m38 -45h0m47 -15h0m238 -254h0m-192 188h0m-45 65h0m125 -159h0m-84 104h0m-63 45h0m95 -67h0m-40 18h0m-41 44h0m0 -3h0m99 -80h0m-41 25h0m-19 7h0m-29 28h0m-53 51h0m56 -28h0m40 -36h0m83 -110h0m-190 212h0m22 -41h0m-14 23h0m116 -98h0m-93 57h0m97 -76h0m-105 106h0m58 -58h0m-43 63h0m-46 35h0m95 -130h0m17 14h0m31 -81h0m93 -68h0m-80 107h0m-160 157h0m25 -28h0m14 -53h0m-49 78h0" stroke="#ff0000"/>
<path d="M1091 328h0m-85 77h0m14 -28h0m31 -31h0m191 -165h0m-176 181h0m28 -25h0m48 -36h0m-90 46h0m81 -67h0m-89 63h0m36 -6h0m-10 26h0m-5 1h0m91 -81h0m-145 135h0m8 -10h0m-1 -29h0m-5 6h0m38 -14h0m71 -79h0m-199 210h0m122 -140h0m-45 28h0m59 -15h0m72 -79h0m-76 88h0m-13 -32h0m87 -51h0m-68 77h0m47 -79h0m44 -40h0m30 -8h0m-185 165h0m115 -101h0m-34 47h0m28 -43h0m-110 108h0m-4 -2h0m58 -54h0m15 -37h0m13 47h0m46 -96h0m-3 0h0m24 -18h0m27 -7h0m-106 69h0m29 -21h0m-4 29h0m-38 9h0m63 -26h0m-36 41h0m-85 52h0m113 -81h0m-16 -5h0m8 18h0m33 -55h0m-31 30h0m11 -25h0m-52 72h0m101 -109h0m-153 158h0m130 -139h0m-86 69h0m-9 8h0m108 -65h0m-70 65h0m29 -44h0m27 -6h0m-64 36h0m18 -21h0m145 -136h0m-174 163h0m83 -80h0m-67 65h0m-35 38h0m20 -29h0m-65 83h0m74 -72h0m26 -39h0m-34 23h0m36 -29h0m-34 66h0m31 -22h0m-29 3h0m41 -36h0m14 -38h0m18 26h0m-99 54h0m50 -21h0m57 -67h0m-76 77h0m-93 81h0m70 -54h0m-54 50h0m20 -19h0m32 -24h0m41 -66h0m40 -24h0m-19 14h0m-59 67h0m74 -63h0m-105 90h0m84 -95h0m-74 79h0m97 -77h0m-62 53h0m182 -177h0m-85 80h0m-91 91h0m62 -55h0m13 -30h0m-19 41h0m-1 -3h0m-50 47h0m-93 67h0m63 -73h0m69 -56h0m-92 106h0m48 -58h0m37 -25h0m-106 106h0m287 -292h0m-209 219h0m-4 8h0m39 -62h0m-20 26h0m-19 48h0m86 -110h0m-83 75h0m-70 69h0m144 -123h0m-70 66h0m-87 63h0m9 -10h0m183 -171h0m-157 176h0m4 -30h0m24 -8h0m51 -20h0m-45 22h0m34 -66h0m7 36h0m-45 58h0m-19 -36h0m37 -22h0m53 -45h0m-58 58h0m-53 30h0m56 -37h0m-67 63h0m17 -22h0m-14 6h0m18 -1h0" stroke="#006400"/>
<path d="M1021 395h0m-3 -7h0m26 -29h0m32 -47h0m47 -17h0m-23 20h0m25 -30h0m-47 67h0m-5 -16h0m-64 72h0m-14 2h0m101 -74h0m-43 16h0m47 -23h0m13 -10h0m-88 68h0m50 -50h0m-33 61h0m-30 -9h0m39 -31h0m-40 32h0m128 -107h0m-152 138h0m166 -155h0m139 -139h0m-185 196h0m-36 24h0m10 -8h0m45 -38h0m-7 -14h0m-59 64h0m-48 41h0m35 -35h0m37 4h0m46 -66h0m31 -43h0m-127 105h0m-16 37h0m59 -64h0m-105 117h0m59 -73h0m53 -47h0m37 -12h0m-75 72h0m81 -89h0m-14 10h0m-65 54h0m38 -23h0m8 -1h0m-23 -7h0m-63 69h0m124 -107h0m-62 44h0m-68 65h0m74 -70h0m-61 82h0m103 -104h0m-36 -3h0m202 -165h0m-148 157h0m-96 65h0m90 -67h0m-10 0h0m-90 104h0m108 -133h0m-21 32h0m-70 80h0m-6 11h0m57 -50h0m-88 88h0m45 -74h0m48 -24h0m-58 36h0m-22 6h0m-4 17h0m-25 22h0m135 -127h0m-78 102h0m-32 26h0m74 -85h0m-26 19h0m41 -50h0m-48 92h0m-33 -19h0m109 -73h0m-147 134h0m31 -43h0m-30 45h0m102 -111h0m-34 25h0m-36 48h0m38 -34h0m171 -175h0m-198 185h0m109 -78h0m49 -80h0m-171 161h0m84 -64h0m11 16h0m-103 63h0m-12 42h0m12 -31h0m133 -113h0m-57 41h0m-98 103h0m143 -147h0m-94 95h0m23 -16h0m6 -32h0m69 -62h0m-57 80h0m57 -48h0m-94 65h0m33 -37h0m30 -8h0m-58 49h0m11 1h0m-9 -3h0m79 -60h0m-31 15h0m20 -18h0m-57 41h0m-45 43h0m91 -74h0m-70 74h0m23 -19h0m-37 25h0m79 -100h0m38 -28h0m-125 111h0m11 0h0m-6 16h0m55 -66h0m33 -25h0m-89 106h0m79 -81h0m-90 86h0m82 -98h0m47 -33h0m-12 1h0m-101 105h0m135 -105h0m-143 109h0m33 -34h0m-19 39h0m1 -25h0m104 -93h0m-132 143h0m46 -76h0m236 -215h0m-144 133h0m-150 152h0m49 -41h0m26 -6h0m-2 -2h0m-47 30h0m106 -86h0m-30 11h0m-38 53h0m21 -18h0m102 -123h0" stroke="#ff0000"/>
<path d="M1035 386h0m109 -113h0m-27 39h0m-42 42h0m236 -239h0m-237 230h0m83 -76h0m-136 135h0m91 -85h0m-19 0h0m56 -29h0m-28 11h0m-87 76h0m25 -18h0m100 -77h0m-71 65h0m10 -3h0m-47 35h0m-1 -27h0m86 -62h0m-34 34h0m-4 -7h0m-22 30h0m-82 75h0m2 0h0m19 -8h0m52 -52h0m-29 17h0m121 -117h0m-45 54h0m-120 94h0m147 -123h0m8 -1h0m-64 37h0m54 -15h0m15 -38h0m-31 26h0m-106 97h0m186 -173h0m-153 134h0m61 -42h0m-63 54h0m-28 27h0m-82 89h0m153 -143h0m-56 54h0m-19 22h0m-12 -1h0m-16 6h0m154 -127h0m-30 5h0m-5 29h0m-74 66h0m72 -84h0m-109 98h0m29 -12h0m138 -147h0m-5 36h0m-45 38h0m-1 4h0m17 -19h0m-97 94h0m65 -86h0m15 -16h0m-37 36h0m5 6h0m54 -51h0m-119 96h0m7 1h0m73 -38h0m25 -30h0m-36 18h0m-13 -7h0m12 -6h0m62 -57h0m-62 61h0m-40 49h0m-13 -6h0m89 -59h0m30 -36h0m102 -99h0m-183 170h0m-25 45h0m-21 4h0m207 -204h0m-76 67h0m-4 18h0m-132 123h0m87 -71h0m-37 21h0m66 -65h0m-104 99h0m59 -55h0m-2 -5h0m64 -63h0m-96 118h0m58 -89h0m-33 24h0m-5 15h0m83 -77h0m-96 96h0m49 -25h0m46 -66h0m-58 54h0m-25 51h0m79 -82h0m9 -15h0m-74 82h0m220 -233h0m-144 134h0m-147 153h0m119 -119h0m2 0h0m-33 38h0m-71 86h0m-27 -5h0m125 -124h0m-13 10h0m-36 73h0m-59 15h0m107 -72h0m-51 47h0m39 -39h0m-106 82h0m16 16h0m80 -95h0m-106 87h0m121 -75h0m-16 -8h0m-79 65h0m-26 29h0m35 -50h0m-43 53h0m169 -157h0m-1 -3h0m-57 66h0m30 -10h0m1 -15h0m-50 58h0m-77 52h0m130 -106h0m3 -28h0m-115 122h0m19 -17h0m8 -26h0m39 -34h0m19 -17h0m-81 77h0m58 -55h0m59 -49h0m109 -112h0m-110 131h0m-103 56h0m99 -49h0m-30 1h0" stroke="#006400"/>
<path d="M1126 288h0m-134 130h0m28 -18h0m39 -27h0m68 -65h0m-74 53h0m-18 32h0m7 2h0m-32 19h0m11 -28h0m-26 26h0m125 -124h0m-21 24h0m102 -85h0m-149 152h0m0 -24h0m29 -21h0m-71 74h0m145 -115h0m136 -173h0m-253 262h0m169 -158h0m-157 154h0m20 -38h0m32 -40h0m-28 55h0m-32 3h0m19 -2h0m41 -23h0m-47 42h0m56 -71h0m-95 109h0m97 -95h0m-98 73h0m103 -94h0m25 -19h0m-70 77h0m22 -27h0m9 8h0m-14 4h0m-51 35h0m38 -7h0m-51 2h0m-34 43h0m81 -68h0m-10 -3h0m4 2h0m70 -75h0m174 -162h0m-233 257h0m70 -105h0m-144 167h0m12 -41h0m-15 16h0m78 -50h0m154 -177h0m-159 166h0m62 -60h0m32 -9h0m-145 104h0m77 -75h0m-74 67h0m29 4h0m51 -65h0m-19 27h0m-50 50h0m-8 14h0m77 -90h0m-29 43h0m47 -61h0m-75 80h0m61 -59h0m14 -27h0m-70 77h0m57 -40h0m-105 96h0m36 -40h0m19 -4h0m56 -73h0m-108 93h0m133 -108h0m-30 25h0m174 -167h0m-201 215h0m-37 -2h0m-1 24h0m-8 -5h0m17 4h0m86 -110h0m-113 119h0m40 -37h0m-52 63h0m-24 -1h0m39 -41h0m4 24h0m75 -72h0m91 -134h0m-220 237h0m72 -57h0m5 9h0m-40 19h0m134 -136h0m-74 94h0m-21 -14h0m13 10h0m-7 12h0m56 -55h0m-41 53h0m11 -16h0m60 -53h0m-105 61h0m7 19h0m-48 43h0m28 -17h0m106 -106h0m-46 33h0m60 -83h0m-116 126h0m-47 55h0m161 -159h0m-95 92h0m28 -15h0m-21 18h0m59 -66h0m-65 56h0m-34 39h0m28 -25h0m73 -58h0m-46 36h0m25 -11h0m28 -45h0m-87 74h0m97 -89h0m-47 54h0m-82 85h0m49 -58h0m-61 55h0m110 -111h0m-5 33h0m-61 48h0m108 -86h0m-14 -19h0m-121 147h0m91 -115h0m20 -3h0m-53 70h0m-19 -9h0m0 -22h0m35 0h0m66 -62h0m-56 28h0m-65 78h0m66 -77h0m-104 123h0m45 -81h0m61 -19h0m-15 33h0m-75 53h0m50 -101h0" stroke="#ff0000"/>
<path d="M1317 108h0m-150 151h0m99 -108h0m2 5h0m49 -53h0m-138 129h0m12 -8h0m-19 18h0m93 -88h0m-3 8h0m54 -53h0m-94 95h0m64 -66h0m27 -34h0m-115 118h0m106 -97h0m-80 82h0m-19 14h0m-16 23h0m-12 -4h0m80 -66h0m-49 42h0m-38 22h0m22 -6h0m-2 8h0m110 -115h0m-25 25h0m41 -46h0m-30 29h0m-117 111h0m132 -120h0m-126 118h0m68 -58h0m-52 45h0m-5 1h0m96 -94h0m-111 135h0m125 -149h0m-101 99h0m89 -81h0m-9 5h0m-104 113h0m14 -16h0m-11 1h0m15 -17h0m-13 17h0m99 -95h0m-81 80h0m49 -43h0m67 -72h0m-17 10h0m-122 126h0m22 -11h0m93 -105h0m26 -27h0m-58 44h0m-65 78h0m134 -132h0m-68 73h0m44 -44h0m-122 111h0m-4 20h0m11 -10h0m82 -82h0m4 -18h0m-90 106h0m-9 -6h0m7 -4h0m124 -126h0m-8 10h0m-34 29h0m32 -27h0m-115 126h0m113 -120h0m-36 39h0m21 -26h0m42 -44h0m-117 100h0m28 -13h0m-8 -1h0m53 -47h0m-25 40h0m-11 11h0m-52 28h0m8 12h0m119 -123h0m-124 124h0m110 -114h0m-114 114h0m64 -52h0m9 -8h0m57 -70h0m6 -2h0m-60 53h0m44 -42h0m-8 10h0m-33 36h0m-89 86h0m106 -109h0m-14 20h0m-41 42h0m86 -87h0m14 -14h0m-18 18h0m12 -11h0m0 1h0m-66 59h0m-68 73h0m57 -58h0m1 -2h0m-34 41h0m-43 48h0m42 -57h0m-3 13h0m3 -15h0m-41 39h0m63 -51h0m57 -56h0m-104 90h0m3 0h0m30 -26h0m-29 33h0m62 -61h0m-77 83h0m148 -154h0m-4 -3h0m-132 146h0m80 -95h0m-24 37h0m58 -65h0m-12 11h0m-54 64h0m36 -36h0m-58 48h0m84 -83h0m-10 9h0m-112 128h0m-3 5h0m30 -49h0m-3 -3h0m32 -21h0m58 -63h0m-120 145h0m115 -132h0m-57 58h0m62 -69h0m-103 100h0m29 -23h0m90 -96h0m-106 110h0m-27 39h0m3 -13h0m69 -70h0m-36 33h0m1 -2h0m102 -99h0m-42 48h0m-64 51h0m65 -59h0m-79 69h0m95 -85h0m24 -26h0m-36 42h0m-103 82h0m135 -111h0m-123 125h0m70 -71h0m0 0h0m-77 62h0m-1 17h0m145 -154h0m-60 55h0m-38 42h0m-40 64h0m70 -86h0m63 -65h0m-4 2h0m-126 124h0m132 -136h0m-146 162h0m61 -74h0m-39 44h0m-23 24h0m90 -101h0m-90 90h0m75 -65h0m-7 4h0m-39 31h0m-18 31h0m117 -123h0m-120 118h0m73 -69h0m-67 76h0m80 -93h0m7 -10h0m2 2h0m-50 49h0m20 -23h0m-46 51h0m106 -104h0m14 -13h0" stroke="#006400"/>
</g>
<path d="M832.15 589.00H1325.21M832.15 589.00V95.60M832.15 589.00v19.0M832.15 589.00h-19.0M955.41 589.00v19.0M832.15 465.65h-19.0M1078.68 589.00v19.0M832.15 342.30h-19.0M1201.94 589.00v19.0M832.15 218.95h-19.0M1325.21 589.00v19.0M832.15 95.60h-19.0" stroke="#000" stroke-width="3.2" stroke-linecap="round" fill="none"/>
<text x="832.15" y="657.50" text-anchor="middle">−1.0</text>
<text x="955.41" y="657.50" text-anchor="middle">−0.5</text>
<text x="1078.68" y="657.50" text-anchor="middle">0.0</text>
<text x="1201.94" y="657.50" text-anchor="middle">0.5</text>
<text x="1325.21" y="657.50" text-anchor="middle">1.0</text>
<text transform="translate(786.65 589.00) rotate(-90)" text-anchor="middle">−1.0</text>
<text transform="translate(786.65 465.65) rotate(-90)" text-anchor="middle">−0.5</text>
<text transform="translate(786.65 342.30) rotate(-90)" text-anchor="middle">0.0</text>
<text transform="translate(786.65 218.95) rotate(-90)" text-anchor="middle">0.5</text>
<text transform="translate(786.65 95.60) rotate(-90)" text-anchor="middle">1.0</text>
<text x="1078.68" y="695.00" text-anchor="middle">Original Cofitness</text>
<text transform="translate(748.15 342.30) rotate(-90)" text-anchor="middle">Rescaled Cofitness</text>
<text x="1078.68" y="62.30" text-anchor="middle" font-weight="bold" font-size="40.0" letter-spacing="0">Echinicola vietnamensis KMM 6221</text>
<text x="840.95" y="118.20" fill="#006400">Same subrole</text>
<text x="840.95" y="147.40" fill="#ff0000">Different</text>
<path d="M1800.48 589.00V95.60M1553.95 342.30H2047.01M1553.95 589.00L2047.01 95.60" stroke="#bebebe" stroke-width="2.3" fill="none"/>
<g stroke-width="6.2" stroke-linecap="round" fill="none">
<path d="M1778 349h0m68 -20h0m179 -203h0m-309 295h0m193 -178h0m-140 44h0m136 -21h0m-58 5h0m153 -125h0m-119 137h0m-62 57h0m211 -223h0m-227 207h0m68 -55h0m-151 133h0m70 -42h0m-13 -31h0m-72 91h0m134 -113h0m-23 42h0m-24 -19h0m-3 8h0m-15 24h0m22 -41h0m-17 23h0m67 -44h0m-181 169h0m124 -106h0m-54 52h0m44 -74h0m82 -41h0m-86 53h0m236 -216h0m-200 177h0m-74 95h0m59 -40h0m-41 49h0m79 -95h0m61 -76h0m-143 169h0m109 -109h0m-140 106h0m90 -76h0m55 -60h0m-133 153h0m40 -33h0m-79 50h0m124 -134h0m-38 74h0m-30 -2h0m23 -36h0m-51 72h0m39 -70h0m-24 49h0m213 -206h0m-55 25h0m9 15h0m-199 194h0m105 -72h0m16 -54h0m6 14h0m-140 139h0m203 -212h0m44 -45h0m-86 112h0m-98 118h0m268 -304h0m-290 306h0m119 -142h0m-54 52h0m-55 41h0m19 -5h0m49 -19h0m17 -1h0m31 -50h0m45 -72h0m-183 200h0m180 -183h0m-57 63h0m23 -17h0m-29 7h0m-11 53h0m26 -41h0m-129 113h0m182 -191h0m-29 37h0m-194 177h0m209 -194h0m-70 71h0m9 7h0m-87 51h0m123 -108h0m42 -37h0m-89 111h0m-108 56h0m65 -24h0m10 -10h0m106 -142h0m-7 10h0m-105 139h0m19 -39h0m-92 102h0m121 -149h0m-83 76h0m205 -191h0m-168 165h0m42 -22h0m196 -199h0m-222 191h0m-7 48h0m5 -30h0m86 -54h0m-55 72h0m-98 58h0m131 -133h0m-198 210h0m52 -56h0m196 -198h0m-32 23h0m-207 207h0m65 -60h0m124 -112h0m-123 93h0m37 -45h0m-4 49h0m31 -16h0m-66 14h0m170 -180h0m-135 197h0m86 -97h0m-22 -21h0m32 -25h0m-145 141h0m51 -38h0m19 -40h0m42 15h0m-51 -3h0m111 -57h0m-84 39h0m57 -51h0m-183 217h0m182 -196h0m13 -24h0m-47 23h0m113 -103h0m-127 141h0m32 -39h0m-98 92h0m145 -147h0m-80 72h0m33 -2h0m14 -10h0m34 -68h0m-48 100h0m25 -69h0m-129 133h0m101 -66h0m63 -104h0m-122 173h0m9 -29h0m-12 -32h0m-78 114h0m38 -67h0m272 -238h0m-243 224h0m232 -219h0m-283 292h0m173 -153h0m-71 26h0m-50 80h0m9 -36h0m108 -68h0m-22 5h0m22 -39h0m-81 76h0m-6 -3h0m71 -18h0m-95 36h0m209 -197h0m-264 251h0m118 -122h0m-109 126h0m35 -26h0m-22 1h0m-7 41h0m110 -117h0m19 -39h0m7 6h0m-4 -5h0m-192 197h0m173 -172h0m14 -18h0m-110 113h0m-4 50h0m12 -35h0m-42 33h0m134 -123h0m-49 63h0m73 -101h0m62 -81h0m-254 267h0m7 1h0m152 -144h0m-138 119h0m144 -127h0m-71 87h0m-13 -14h0m121 -128h0m-146 178h0m263 -290h0m-264 263h0m29 -11h0m59 -107h0m71 -40h0m-22 17h0m-37 51h0m36 -21h0m-65 59h0m-151 121h0m163 -276h0m-80 188h0m151 -106h0m-178 145h0m100 -97h0m38 -10h0m22 -68h0m-158 205h0m146 -175h0m-26 9h0m51 -30h0m-21 31h0m30 -32h0m-53 30h0m49 -40h0m-194 197h0m203 -198h0m-54 67h0m-50 59h0m-80 49h0m88 -93h0" stroke="#006400"/>
<path d="M1870 273h0m78 -79h0m-17 5h0m-70 92h0m-26 -9h0m-85 84h0m191 -167h0m-178 164h0m-58 55h0m189 -142h0m-82 45h0m-117 122h0m199 -165h0m-170 124h0m89 -94h0m99 -68h0m-112 143h0m87 -118h0m-71 34h0m-45 80h0m-28 -2h0m53 -71h0m78 -44h0m-80 42h0m-41 112h0m11 -29h0m152 -177h0m-119 128h0m47 -49h0m-82 99h0m18 -39h0m-78 77h0m184 -154h0m-87 82h0m-80 70h0m73 -51h0m33 -56h0m-64 89h0m-10 -15h0m2 -34h0m33 19h0m-37 -9h0m181 -169h0m-113 147h0m-60 10h0m-59 80h0m215 -193h0m-70 31h0m54 -27h0m-54 56h0m43 -62h0m-60 114h0m26 -56h0m-154 169h0m170 -177h0m-89 80h0m46 -37h0m-50 44h0m-10 31h0m1 -31h0m50 -67h0m-11 41h0m37 -36h0m-88 53h0m138 -97h0m10 -41h0m-106 92h0m-87 123h0m-10 -1h0m79 -61h0m18 -45h0m-42 48h0m50 4h0m21 -52h0m-24 -2h0m-62 64h0m86 -116h0m-52 84h0m39 -40h0m-28 4h0m-50 72h0m169 -165h0m75 -75h0m-282 279h0m113 -128h0m-22 52h0m48 -65h0m10 -13h0m92 -68h0m-92 63h0m-121 133h0m-61 61h0m110 -79h0m161 -198h0m-182 158h0m180 -130h0m-7 4h0m-213 185h0m224 -175h0m-160 153h0m45 -89h0m-1 22h0m-49 48h0m-44 53h0m108 -140h0m-124 156h0m176 -207h0m-129 139h0m26 -49h0m140 -104h0m-95 78h0m-154 164h0m356 -345h0m-257 246h0m32 -44h0m-77 114h0m-15 -18h0m58 -75h0m-54 93h0m14 -43h0m54 -42h0m4 2h0m-4 -8h0m16 -34h0m129 -60h0m-33 20h0m-119 64h0m-78 112h0m159 -164h0m-112 120h0m11 -41h0m15 -20h0m99 -90h0m-143 167h0m68 -53h0m-99 74h0m242 -241h0m-96 78h0m126 -104h0m-268 261h0m35 -50h0m97 -49h0m133 -158h0m-103 94h0m-106 135h0m136 -167h0m-70 101h0m55 -65h0m-116 88h0m90 -80h0m36 -20h0m-117 140h0m-4 -49h0m81 -44h0m-91 73h0m13 11h0m10 7h0m2 -63h0m117 -121h0m-119 126h0m101 -90h0m-139 154h0m22 -25h0m53 -37h0m-32 24h0m101 -99h0m-19 23h0m-62 59h0m-40 2h0m-35 42h0m-41 50h0m128 -147h0m-38 24h0m-42 88h0m125 -149h0m-32 83h0m-49 -12h0m-3 -1h0m54 23h0m-119 90h0m168 -162h0m-42 8h0m-42 -4h0m15 23h0m-16 61h0m13 -23h0m1 4h0m-130 111h0m82 -105h0m99 -48h0m-106 57h0m71 -44h0m34 -46h0m-13 52h0m-6 0h0m9 -59h0m-88 129h0m82 -99h0m-111 119h0m-9 -9h0m94 -153h0m75 26h0m-72 12h0m-3 33h0m39 -30h0m-38 53h0m-62 16h0m-63 77h0m7 6h0m38 -54h0m-7 9h0m65 -47h0m34 -82h0m-20 12h0m18 30h0m-113 93h0m67 -70h0m118 -82h0m27 -59h0m-87 89h0m-73 98h0m36 -65h0m-11 29h0m-79 59h0m141 -125h0m-64 26h0m-102 134h0m132 -128h0m28 -45h0m-37 48h0m-95 121h0m131 -129h0m-103 83h0m109 -99h0m-94 99h0m33 -35h0m89 -74h0m6 -53h0m-74 95h0m-56 101h0m93 -124h0m-37 30h0m-15 24h0m-69 73h0m-19 4h0m54 -94h0m172 -164h0m-147 207h0" stroke="#ff0000"/>
<path d="M1767 400h0m80 -70h0m-50 -13h0m172 -156h0m-264 282h0m-12 10h0m213 -228h0m-31 55h0m30 -25h0m56 -67h0m-122 132h0m-88 54h0m17 -3h0m259 -260h0m-151 150h0m-26 68h0m188 -220h0m-296 287h0m146 -130h0m-103 123h0m78 -118h0m-68 39h0m-77 118h0m47 -35h0m140 -132h0m-67 57h0m31 -35h0m-36 38h0m-127 113h0m197 -203h0m-98 143h0m98 -149h0m-4 25h0m-173 181h0m-5 -28h0m78 -59h0m63 -81h0m-113 114h0m53 -14h0m4 -35h0m97 -103h0m-112 155h0m82 -76h0m-75 3h0m-66 90h0m23 -9h0m117 -96h0m-196 181h0m140 -156h0m-57 68h0m131 -145h0m-117 171h0m91 -141h0m-104 87h0m77 -23h0m-45 9h0m58 6h0m53 -88h0m-105 47h0m55 -38h0m-103 95h0m-29 64h0m-3 -12h0m306 -296h0m-161 136h0m-89 93h0m-62 69h0m53 -56h0m205 -196h0m-218 217h0m46 -68h0m-101 134h0m151 -128h0m50 -80h0m-55 56h0m41 -43h0m-14 -2h0m22 4h0m-92 46h0m11 23h0m-88 118h0m-61 31h0m140 -135h0m97 -87h0m-101 81h0m49 -26h0m-132 107h0m111 -71h0m8 -71h0m-51 59h0m-33 55h0m48 -32h0m106 -112h0m-2 -1h0m-4 1h0m-229 234h0m186 -177h0m-97 115h0m27 -49h0m55 -67h0m74 -96h0m-20 42h0m-84 64h0m82 -33h0m-111 85h0m-94 89h0m319 -316h0m-91 106h0m-236 213h0m101 -67h0m77 -92h0m29 -15h0m12 -22h0m-206 183h0m109 -130h0m30 -23h0m-145 173h0m127 -134h0m-115 109h0m158 -121h0m-21 36h0m12 -56h0m-81 86h0m-24 -2h0m45 -45h0m-24 73h0m60 -66h0m-110 94h0m104 -133h0m-11 42h0m33 -24h0m-75 65h0m141 -123h0m-121 77h0m116 -76h0m-75 49h0m-79 87h0m139 -156h0m-53 47h0m-29 31h0m-97 108h0m146 -149h0m-76 44h0m-43 72h0m95 -131h0m-92 152h0m55 -74h0m93 -85h0m-209 206h0m98 -103h0m138 -119h0m-196 174h0m58 -25h0m-96 67h0m179 -182h0m45 -19h0m-151 129h0m51 -25h0m27 -86h0m-127 176h0m190 -174h0m-59 34h0m-71 121h0m35 -62h0m60 -86h0m-157 168h0m91 -93h0m-33 44h0m3 -33h0m136 -136h0m-102 134h0m5 3h0m31 -59h0m15 -10h0m-35 48h0m-114 86h0m167 -126h0m-77 32h0m-22 36h0m42 -53h0m37 -1h0m-38 -24h0m94 -52h0m118 -126h0m-148 172h0m59 -73h0m-53 79h0m-113 67h0m104 -89h0m-110 132h0m-28 18h0m4 -3h0m-7 -2h0m138 -138h0m-57 28h0m174 -152h0m-192 213h0m109 -125h0m-130 106h0m108 -93h0m126 -119h0m-99 75h0m-48 86h0m-2 27h0m46 -56h0m2 1h0m-56 35h0m-143 143h0m73 -106h0m28 35h0m-50 33h0m80 -97h0m-14 41h0m21 -36h0m84 -85h0m-180 185h0m113 -163h0m-61 117h0m-52 -4h0m159 -141h0m-213 219h0m50 -19h0" stroke="#006400"/>
<path d="M1845 284h0m58 -54h0m-65 102h0m-78 47h0m265 -250h0m-271 288h0m80 -137h0m-27 40h0m4 3h0m-72 99h0m89 -118h0m-93 133h0m77 -112h0m93 -86h0m-30 39h0m-35 29h0m-112 121h0m174 -185h0m-33 26h0m-62 100h0m-3 -32h0m54 -53h0m-48 30h0m86 -44h0m-205 172h0m111 -102h0m92 -110h0m-117 135h0m18 -16h0m-15 -15h0m29 5h0m-65 42h0m73 -74h0m-47 112h0m108 -144h0m67 -76h0m-47 44h0m-135 142h0m9 -32h0m231 -205h0m-259 254h0m160 -180h0m-39 88h0m-33 -2h0m-78 86h0m44 -51h0m25 -2h0m-37 35h0m-115 94h0m217 -206h0m-155 123h0m16 3h0m106 -126h0m-84 130h0m23 -82h0m-11 73h0m69 -113h0m-14 47h0m-47 16h0m-70 91h0m85 -75h0m-16 20h0m-34 32h0m87 -113h0m-73 56h0m94 -24h0m-106 43h0m114 -82h0m-133 133h0m128 -174h0m-88 163h0m65 -71h0m-49 28h0m-14 -21h0m-48 71h0m104 -94h0m-56 28h0m52 -38h0m-102 108h0m38 -28h0m-29 21h0m86 -80h0m74 -82h0m-60 53h0m-78 43h0m132 -118h0m-43 53h0m44 -35h0m5 -14h0m-115 144h0m69 -111h0m40 -26h0m-145 140h0m-86 96h0m161 -131h0m31 -57h0m-91 98h0m114 -99h0m-65 77h0m26 -21h0m-39 17h0m30 -58h0m8 9h0m-145 130h0m26 -2h0m26 -9h0m34 -38h0m-49 11h0m-24 28h0m14 -16h0m148 -161h0m-88 153h0m193 -227h0m-265 275h0m127 -136h0m-67 86h0m-76 50h0m113 -89h0m111 -126h0m-114 139h0m4 -10h0m59 -85h0m-96 80h0m-5 10h0m0 -13h0m33 -35h0m-24 41h0m44 -17h0m-50 39h0m134 -134h0m-155 123h0m91 -74h0m-116 99h0m297 -278h0m-101 95h0m-104 129h0m-122 106h0m89 -99h0m117 -87h0m126 -132h0m-87 82h0m-163 161h0m30 -51h0m-37 77h0m-81 51h0m33 -43h0m46 -39h0m7 7h0m93 -95h0m-20 31h0m-63 15h0m-101 131h0m30 -45h0m38 -5h0m31 -27h0m-51 41h0m150 -153h0m24 1h0m-146 139h0m51 -96h0m194 -171h0m-129 127h0m-62 96h0m77 -131h0m-119 172h0m129 -165h0m-58 82h0m-206 181h0m235 -202h0m8 -16h0m-111 118h0m-68 29h0m126 -137h0m-78 104h0m111 -87h0m-100 45h0m-131 161h0m136 -144h0m4 5h0m8 -46h0m-58 84h0m48 -63h0m16 34h0m157 -181h0m-130 159h0m-31 -3h0m48 -61h0m92 -68h0m-52 80h0m5 -68h0m29 -6h0m-175 179h0m-48 50h0m167 -177h0m-101 93h0m68 -40h0m112 -122h0m-142 131h0m65 -55h0m-17 24h0m-37 54h0m67 -83h0m-165 150h0m58 -76h0m70 -36h0m8 15h0m39 -57h0m-84 98h0m84 -109h0m-31 58h0m-114 82h0m119 -137h0m-6 7h0m83 -65h0m-141 112h0m-75 92h0m121 -80h0m-19 20h0m95 -99h0m36 -75h0m-150 158h0m4 22h0m-31 41h0m-15 -6h0m119 -127h0m-86 59h0m-93 118h0m29 -38h0m19 -31h0m-11 49h0m111 -109h0m12 -41h0m-142 144h0m33 -16h0m87 -69h0m-143 123h0m50 -50h0m140 -137h0m15 -29h0m-104 114h0m151 -155h0m55 -57h0m-132 154h0m-57 55h0m-40 32h0m35 -13h0m-39 -23h0m56 -2h0m-78 34h0m54 -31h0m59 -55h0m-7 27h0m-18 14h0m-34 0h0m-41 36h0m76 -51h0m-52 57h0m88 -118h0m-144 167h0m34 -58h0m-75 85h0m295 -303h0m-158 211h0m31 -105h0m34 -16h0m-110 131h0m52 -58h0m70 -61h0m5 21h0m-101 89h0m124 -131h0m-122 90h0m34 9h0m-186 157h0m191 -198h0m46 -42h0m-90 61h0m90 -18h0m-156 124h0m90 -80h0m-10 2h0m-29 46h0m-52 17h0m134 -139h0m39 -3h0m-12 -12h0m22 -11h0m-29 18h0m-48 64h0m51 -47h0" stroke="#ff0000"/>
<path d="M1761 401h0m3 -33h0m22 1h0m92 -99h0m-73 53h0m92 -53h0m-86 63h0m-16 3h0m-82 77h0m2 5h0m-13 20h0m198 -190h0m-19 34h0m25 -40h0m-5 2h0m-119 133h0m18 -63h0m233 -204h0m-236 225h0m3 26h0m-68 67h0m-61 44h0m161 -157h0m108 -101h0m-212 200h0m-33 22h0m183 -148h0m30 -40h0m-26 44h0m-56 4h0m-117 129h0m98 -137h0m-96 162h0m174 -186h0m10 13h0m122 -152h0m-189 203h0m-52 53h0m93 -82h0m61 -99h0m75 -61h0m-133 114h0m-170 190h0m-3 -6h0m212 -193h0m-112 97h0m87 -93h0m-18 119h0m-143 60h0m50 -66h0m40 -39h0m21 -8h0m6 -37h0m-73 109h0m44 -38h0m-93 58h0m91 -52h0m48 -55h0m-183 167h0m191 -197h0m-76 104h0m51 -100h0m-140 162h0m129 -127h0m-88 118h0m-6 -42h0m105 -159h0m-72 171h0m47 -81h0m-97 114h0m13 -19h0m133 -102h0m-81 29h0m31 -16h0m24 -20h0m-56 56h0m-49 31h0m61 -18h0m-45 -7h0m157 -147h0m-173 221h0m138 -180h0m5 -13h0m0 36h0m-145 111h0m164 -148h0m-78 65h0m74 -51h0m-123 109h0m74 -70h0m-32 53h0m-18 -3h0m-8 -18h0m113 -105h0m-105 128h0m96 -97h0m-183 166h0m131 -93h0m-18 -33h0m51 -42h0m-91 130h0m101 -77h0m-200 145h0m218 -219h0m-91 74h0m103 -74h0m-240 243h0m62 -67h0m25 -48h0m24 -12h0m-23 16h0m95 -41h0m-62 6h0m105 -79h0m-11 2h0m-120 110h0m-49 43h0m117 -101h0m68 -48h0m-31 1h0m-93 76h0m66 -12h0m-37 32h0m74 -81h0m17 -15h0m-108 61h0m-44 65h0m139 -148h0m-17 48h0m-57 22h0m-85 107h0m52 -22h0m2 -46h0m-92 116h0m-12 7h0m314 -315h0m-262 284h0m84 -78h0m52 -61h0m25 -47h0m-1 -1h0m-126 99h0m109 -37h0m7 -27h0m-62 56h0m5 -44h0m-86 97h0m127 -132h0m-20 18h0m-50 107h0m73 -103h0m17 -36h0m-117 100h0m-3 47h0m82 -121h0m-66 69h0m-96 113h0m141 -145h0m-120 124h0m43 -33h0m-12 19h0m122 -134h0m-49 61h0m99 -111h0m-135 115h0m-76 91h0m73 -28h0m51 -113h0m-56 82h0m-51 4h0m90 -55h0m-76 70h0m152 -138h0m-47 66h0m-41 -16h0m234 -189h0m-113 120h0m-52 68h0m36 -78h0m-7 55h0m-144 82h0m57 -60h0m-121 154h0m229 -227h0m-172 167h0m4 -24h0m103 -68h0m-44 31h0m20 -52h0m204 -169h0m-160 180h0m-39 -3h0m20 -22h0m15 -20h0m-188 205h0m237 -245h0m-134 118h0m167 -137h0m-141 163h0m-25 7h0m98 -97h0m26 -38h0m-55 90h0m-6 -13h0m25 2h0m-176 140h0m87 -114h0m81 -68h0m-126 157h0m123 -112h0m23 -45h0m21 -36h0m-292 304h0m164 -156h0m-26 27h0m133 -128h0m-23 21h0m33 -20h0m-62 53h0m-85 87h0m18 -18h0m80 -127h0m39 14h0m-162 143h0m147 -170h0m-43 84h0m-61 28h0m-24 50h0m25 -73h0m-1 16h0m4 10h0m98 -112h0m18 4h0m17 -29h0m-50 84h0m-140 81h0m121 -101h0m57 -24h0m23 -50h0m-108 80h0m-57 102h0m272 -283h0m-296 280h0m188 -159h0m-167 129h0m26 -4h0m36 -67h0m43 12h0m8 -25h0m-126 141h0m36 -83h0m1 -4h0m-27 50h0m-8 -6h0m-108 121h0m259 -262h0m-115 146h0m106 -135h0" stroke="#006400"/>
<path d="M1867 303h0m27 -58h0m-60 75h0m-39 35h0m-35 27h0m113 -70h0m-49 44h0m-24 -46h0m-35 57h0m36 -15h0m-7 -27h0m-75 107h0m51 -83h0m-27 85h0m62 -74h0m14 -49h0m-163 169h0m120 -101h0m151 -149h0m-270 257h0m42 -44h0m89 -71h0m99 -149h0m-85 136h0m68 -43h0m-143 97h0m60 -98h0m-15 81h0m159 -171h0m-210 157h0m190 -161h0m-37 33h0m-72 60h0m69 -19h0m-79 96h0m52 -63h0m-154 118h0m129 -144h0m-74 79h0m-69 80h0m37 -51h0m129 -60h0m-102 28h0m-3 31h0m53 -61h0m-57 62h0m64 -46h0m87 -126h0m25 -16h0m-83 105h0m29 -72h0m18 14h0m-37 20h0m-38 57h0m-103 97h0m117 -135h0m69 -48h0m-217 217h0m132 -95h0m75 -71h0m-148 122h0m-61 41h0m196 -178h0m-151 154h0m73 -97h0m135 -112h0m-63 59h0m1 17h0m-129 88h0m173 -182h0m-137 166h0m-58 44h0m179 -165h0m-5 -6h0m-197 196h0m171 -129h0m-1 -24h0m-56 52h0m80 -110h0m-1 11h0m-91 106h0m116 -89h0m-25 -11h0m-59 99h0m-78 37h0m130 -138h0m-144 178h0m90 -140h0m79 -28h0m-82 54h0m-15 -20h0m30 55h0m-78 57h0m18 -38h0m38 -10h0m-8 -21h0m-96 100h0m125 -119h0m-77 79h0m36 -47h0m36 -37h0m-25 55h0m7 -59h0m72 -4h0m-205 174h0m109 -110h0m21 -46h0m-18 39h0m-71 58h0m77 -51h0m58 -61h0m-6 -26h0m-3 35h0m-78 74h0m42 -77h0m-98 102h0m26 -36h0m50 15h0m-109 54h0m179 -144h0m40 25h0m-46 -62h0m-27 67h0m-88 92h0m93 -94h0m-10 33h0m21 -32h0m-59 4h0m-22 59h0m42 -84h0m-113 136h0m243 -240h0m-227 235h0m166 -142h0m-18 -26h0m39 -8h0m-147 140h0m17 -43h0m35 19h0m-70 40h0m73 -77h0m-49 63h0m30 -22h0m-57 31h0m5 8h0m175 -172h0m-93 101h0m34 -32h0m-107 91h0m28 -33h0m-2 14h0m21 -60h0m-36 76h0m31 -42h0m252 -251h0m-270 199h0m87 -30h0m-4 4h0m-2 30h0m-109 89h0m172 -135h0m-96 90h0m-81 66h0m97 -95h0m4 3h0m36 -73h0m-30 16h0m58 -17h0m-128 142h0m127 -140h0m-147 128h0m46 -18h0m102 -108h0m-125 88h0m116 -114h0m-211 225h0m86 -64h0m121 -117h0m142 -161h0m-97 82h0m-6 23h0m-1 -16h0m-67 64h0m38 -39h0m-125 143h0m71 -83h0m2 17h0m-102 75h0m240 -222h0m-202 174h0m106 -28h0m-88 11h0m39 -35h0m-99 118h0m146 -152h0m-113 105h0m46 -57h0m30 1h0m-35 53h0m26 -51h0m20 5h0m112 -142h0m-7 21h0m-181 196h0m28 -84h0m0 67h0m36 -66h0m22 6h0m-89 122h0m30 -60h0m-36 20h0m152 -150h0m-229 216h0m212 -201h0m-95 76h0m-14 -33h0m-23 76h0m161 -176h0m-10 30h0m-15 30h0m24 -32h0m-10 20h0m-100 41h0m42 -7h0m-127 142h0m121 -146h0m-122 124h0m-10 18h0m191 -175h0m76 -86h0m-168 228h0m58 -115h0m22 -49h0m-52 51h0m-8 63h0m161 -211h0m-201 234h0m74 -139h0m-107 168h0m104 -141h0m-45 52h0m72 -72h0m-110 145h0m56 -108h0m-14 49h0m16 -48h0m90 -61h0m-172 196h0m65 -64h0m-69 47h0" stroke="#ff0000"/>
<path d="M1774 368h0m-31 19h0m108 -79h0m-80 79h0m5 -13h0m60 -64h0m-62 91h0m90 -140h0m94 -84h0m-68 59h0m-35 46h0m19 -6h0m7 -2h0m-128 107h0m126 -93h0m-59 23h0m11 -32h0m212 -175h0m-173 181h0m-199 175h0m40 -26h0m152 -143h0m34 -27h0m-69 41h0m-19 -3h0m-98 124h0m27 -9h0m44 -44h0m-24 -18h0m134 -81h0m-40 -7h0m-14 36h0m71 -62h0m-20 20h0m-53 14h0m-46 51h0m38 26h0m-88 39h0m46 -52h0m-6 -2h0m126 -109h0m-68 68h0m-22 -5h0m78 -26h0m97 -117h0m-145 157h0m133 -150h0m-116 131h0m-53 37h0m136 -114h0m-93 61h0m-59 117h0m-120 69h0m175 -164h0m58 -71h0m-79 117h0m23 -43h0m55 -77h0m-74 64h0m20 2h0m-148 158h0m182 -185h0m-18 7h0m-98 127h0m135 -150h0m-82 110h0m-109 98h0m83 -76h0m105 -123h0m-101 74h0m116 -87h0m-26 30h0m120 -130h0m-293 288h0m218 -225h0m-146 150h0m24 -43h0m-64 93h0m11 -9h0m25 -49h0m-10 53h0m20 -64h0m-50 77h0m88 -115h0m-64 44h0m-92 130h0m260 -264h0m-130 99h0m-40 59h0m110 -81h0m-44 56h0m-95 57h0m90 -101h0m33 -11h0m-200 190h0m231 -212h0m-142 111h0m141 -94h0m-1 -36h0m-143 131h0m263 -234h0m-298 303h0m54 -48h0m102 -125h0m-148 172h0m176 -203h0m-11 3h0m-88 106h0m-26 17h0m65 -78h0m-78 100h0m83 -74h0m157 -167h0m-363 355h0m249 -208h0m-165 145h0m130 -127h0m172 -181h0m-161 170h0m-45 32h0m37 -43h0m21 -13h0m12 24h0m-79 71h0m-35 33h0m-23 -17h0m-56 86h0m6 -33h0m49 -34h0m159 -156h0m-126 80h0m130 -103h0m-65 97h0m-84 44h0m73 -77h0m-111 147h0m57 -39h0m108 -161h0m-146 188h0m6 -41h0m99 -58h0m-50 49h0m-113 81h0m125 -58h0m-28 -32h0m92 -88h0m-122 93h0m25 -3h0m84 -99h0m-14 48h0m-46 65h0m-58 43h0m126 -138h0m33 -52h0m-171 195h0m151 -167h0m-225 226h0m40 -71h0m67 -27h0m82 -108h0m-114 144h0m-22 -2h0m107 -89h0m69 -48h0m-16 -9h0m37 -60h0m-115 103h0m-78 88h0m190 -151h0m38 -41h0m-143 122h0m15 11h0m-16 39h0m74 -75h0m29 -63h0m-193 180h0m127 -135h0m-106 99h0m-23 11h0m44 -21h0m66 -82h0m-35 35h0m92 -70h0m-70 50h0m19 -15h0m61 -17h0m-128 78h0m144 -91h0m-111 60h0m38 -36h0m18 32h0m-15 -17h0m-76 100h0m146 -160h0m-59 47h0m-65 83h0m-55 50h0m163 -169h0m-152 165h0m2 -14h0m71 -99h0m85 -65h0m-94 87h0m124 -112h0m-213 203h0m91 -64h0m38 -58h0m-71 78h0m44 -72h0m25 -12h0m-34 68h0m-3 -64h0m32 10h0m-138 143h0m14 -21h0m82 -104h0m-140 171h0m130 -131h0m42 -65h0m-99 128h0m97 -125h0m21 9h0m0 -36h0m-142 172h0m-49 51h0m54 -56h0m26 -49h0m272 -248h0m-207 231h0m3 5h0m6 -89h0m-136 186h0m190 -202h0m-28 6h0m-26 53h0m196 -196h0m-325 329h0m56 -38h0m19 -54h0m155 -115h0m-59 46h0m-50 35h0m83 -83h0m9 -27h0m-138 139h0m286 -266h0m-291 283h0m143 -144h0m-61 55h0m22 -30h0m-34 76h0m-55 73h0m44 -65h0m88 -117h0m-261 268h0m139 -101h0m76 -104h0m-95 105h0m118 -139h0m-153 154h0m-42 46h0m293 -275h0m-179 137h0m-30 69h0m102 -123h0m-75 43h0m90 -39h0m7 -26h0m-120 126h0m64 -105h0m18 5h0m-69 113h0m31 -63h0m-75 92h0m146 -149h0m-70 32h0m41 -6h0m-101 118h0m93 -82h0m13 -64h0" stroke="#006400"/>
<path d="M1812 343h0m-77 40h0m25 -21h0m-89 111h0m242 -249h0m-76 102h0m-27 -24h0m50 -7h0m-71 51h0m-65 71h0m40 -12h0m76 -103h0m-98 106h0m159 -167h0m-60 49h0m-175 188h0m60 -84h0m144 -96h0m-114 83h0m77 -64h0m12 -14h0m63 -49h0m-135 104h0m64 -63h0m21 -4h0m-56 85h0m-28 -4h0m-50 66h0m146 -167h0m-126 132h0m106 -139h0m-76 133h0m16 -39h0m37 -51h0m26 -13h0m-22 2h0m-24 -14h0m57 -26h0m-141 159h0m73 -83h0m-83 83h0m123 -125h0m69 -52h0m-114 120h0m-2 -35h0m40 20h0m11 -45h0m-161 171h0m97 -88h0m-15 4h0m64 -55h0m-54 -19h0m161 -101h0m-72 51h0m59 -30h0m-102 135h0m-1 -58h0m-47 92h0m79 -55h0m91 -139h0m-99 73h0m31 13h0m-72 60h0m50 -71h0m-105 101h0m85 -100h0m-79 129h0m147 -157h0m-5 13h0m-102 67h0m39 -32h0m48 -27h0m-226 236h0m62 -70h0m-48 -104h0m194 -68h0m-94 97h0m82 -104h0m-121 165h0m72 -94h0m-78 77h0m55 -54h0m12 -32h0m-6 52h0m-2 -22h0m160 -126h0m-137 104h0m-86 106h0m7 -34h0m162 -148h0m-85 112h0m8 -61h0m29 6h0m-94 78h0m101 -81h0m-42 -29h0m-44 89h0m27 25h0m59 -95h0m-55 49h0m-3 -32h0m34 9h0m-111 97h0m110 -83h0m60 -83h0m13 -12h0m-4 24h0m-93 91h0m136 -124h0m-114 96h0m-2 12h0m-9 -21h0m64 -43h0m-7 -3h0m63 -60h0m-198 191h0m122 -131h0m66 -55h0m-92 120h0m-171 158h0m174 -160h0m-29 23h0m118 -128h0m-45 42h0m-77 99h0m10 -39h0m68 -82h0m-19 56h0m-16 35h0m109 -159h0m-253 248h0m72 -41h0m133 -128h0m-193 178h0m36 -19h0m159 -170h0m-108 85h0m-39 57h0m11 -12h0m-9 -4h0m-64 58h0m124 -151h0m-16 43h0m109 -107h0m-60 48h0m-147 157h0m78 -65h0m117 -117h0m-127 111h0m72 -66h0m-86 81h0m26 -5h0m84 -81h0m-53 46h0m-8 -59h0m-72 130h0m46 -8h0m-32 -7h0m27 -26h0m96 -102h0m-80 55h0m26 25h0m38 -20h0m-31 2h0m97 -101h0m-112 125h0m-84 83h0m67 -64h0m70 -45h0m-147 109h0m56 -38h0m44 -31h0m17 -44h0m50 -56h0m-96 156h0m146 -208h0m-93 118h0m-97 57h0m37 -21h0m-48 38h0m181 -170h0m-197 216h0m101 -131h0m-147 148h0m181 -186h0m-83 123h0m-61 22h0m95 -101h0m-71 87h0m146 -107h0m-33 34h0m22 41h0m-38 -67h0m-22 6h0m12 41h0m-82 30h0m126 -105h0m-153 144h0m22 -23h0m13 -7h0m262 -250h0m-213 179h0m130 -89h0m-70 72h0m-132 109h0m152 -125h0m-40 27h0m7 -5h0m-37 53h0m18 -52h0m-22 65h0m-17 4h0m-5 -5h0m-63 40h0m123 -144h0m-41 61h0m-29 28h0m25 -32h0m20 -31h0m-83 119h0m-20 18h0m104 -140h0m-8 53h0m-112 89h0m137 -137h0m-67 73h0m55 -45h0m24 -42h0m-61 92h0m104 -92h0m-155 124h0m56 -44h0m52 -79h0m2 55h0m-25 19h0m-34 -28h0m135 -98h0m-40 42h0m135 -133h0m-80 72h0m-73 77h0m-114 116h0m136 -115h0m-183 151h0m64 -37h0m63 -92h0m36 -31h0m-126 121h0m56 -22h0m-54 17h0m-32 22h0m2 -1h0m20 -17h0m40 -13h0m83 -137h0m-63 95h0m33 5h0m-2 -49h0m-13 0h0m73 -48h0m-38 24h0m61 -40h0m-124 148h0m67 -78h0m-43 7h0m-55 104h0m36 -90h0m30 -27h0m-106 142h0m141 -149h0m-116 105h0m137 -112h0m3 -2h0m-31 -18h0m87 -38h0m-41 37h0m-52 17h0m-45 47h0m-98 106h0m148 -97h0m-104 55h0m105 -114h0m-107 106h0m-47 60h0m219 -210h0m-60 33h0m-175 207h0m200 -218h0m-41 85h0m-26 -46h0m16 18h0m45 -16h0m-9 -9h0m14 -40h0m39 -17h0m-124 105h0m130 -133h0m-81 136h0" stroke="#ff0000"/>
<path d="M2002 139h0m-78 58h0m1 7h0m80 -55h0m-8 -2h0m-64 53h0m-8 0h0m2 -2h0m109 -92h0m-107 118h0m20 -29h0m70 -63h0m-84 100h0m77 -104h0m-98 106h0m61 -57h0m-13 14h0m-43 40h0m12 -8h0m-15 13h0m11 -30h0m-14 37h0m32 -48h0m2 -4h0m-19 28h0m13 -14h0m80 -75h0m-28 17h0m43 -44h0m-48 59h0m-6 -8h0m-40 58h0m78 -75h0m-4 3h0m-24 15h0m25 -20h0m-67 71h0m-23 -5h0m1 20h0m62 -67h0m-76 70h0m58 -63h0m-51 81h0m-2 -22h0m51 -54h0m-42 55h0m35 -47h0m-36 36h0m1 20h0m4 -15h0m63 -64h0m-30 36h0m-42 42h0m98 -96h0m-71 74h0m1 -22h0m41 -36h0m38 -27h0m-100 103h0m48 -52h0m23 -34h0m-83 76h0m38 -23h0m-22 27h0m91 -99h0m-37 31h0m-54 64h0m30 -29h0m24 -29h0m-72 75h0m31 -24h0m-22 28h0m45 -55h0m-52 51h0m114 -119h0m-91 106h0m-6 -19h0m-20 24h0m46 -29h0m74 -90h0m-66 78h0m-24 9h0m-9 26h0m-16 12h0m18 -29h0m-26 44h0m12 3h0m110 -142h0m-49 68h0m40 -55h0m3 0h0m-38 28h0m19 -19h0m-70 79h0m-15 18h0m17 -47h0m99 -77h0m-127 135h0m56 -53h0m-10 -6h0m28 -13h0m-24 15h0m-18 29h0m-16 -3h0m17 -8h0m19 -9h0m-10 -4h0m-10 14h0m-32 13h0m28 0h0m-17 3h0m0 5h0m8 17h0m64 -81h0m37 -46h0m-42 39h0m-22 4h0m34 -8h0m-58 64h0m8 -25h0m59 -42h0m-55 58h0m-45 48h0m42 -49h0m5 0h0m66 -79h0m-41 33h0m25 -12h0m-1 4h0m18 -25h0m-4 -1h0m-33 38h0m11 -6h0m-88 95h0m3 -17h0m94 -96h0m3 0h0m-68 75h0m68 -78h0m13 -2h0m-79 83h0m5 -7h0m11 -23h0m41 -47h0m-73 61h0m31 -13h0m73 -63h0m-101 113h0m60 -86h0m-67 63h0m8 20h0m-17 -5h0m14 -5h0m35 -44h0m42 -35h0m26 -24h0m-36 30h0m-60 65h0m63 -56h0m-52 55h0m14 -13h0m64 -78h0m-86 69h0m-5 33h0m65 -92h0m-17 42h0m27 -39h0m9 -7h0m13 -11h0m5 -12h0m-92 98h0m-22 0h0m0 37h0m-6 4h0m100 -109h0m-93 85h0m2 -8h0m96 -82h0m-103 76h0m55 -25h0m69 -79h0m-133 116h0m56 -25h0m44 -52h0m19 -26h0m-71 82h0m-46 35h0m113 -101h0m-68 61h0m37 -46h0m-32 33h0m18 -12h0m-7 8h0m-2 -8h0m-13 33h0m9 -21h0m70 -74h0m-27 38h0m-95 80h0m20 9h0m-2 9h0m74 -92h0m26 -33h0m4 -2h0m-96 77h0m78 -60h0m-106 104h0m95 -91h0m-7 7h0m-16 0h0m-33 57h0m-19 -9h0m35 -20h0m-29 36h0m11 -10h0m-14 26h0m74 -94h0m-27 24h0m-64 87h0m97 -110h0m-61 46h0m38 -32h0m-46 66h0m-16 -11h0m24 -12h0m26 -29h0m-26 17h0m57 -41h0m-55 63h0m83 -95h0m-78 62h0m6 0h0m-41 50h0m106 -112h0m-36 60h0m3 -28h0m-49 49h0m41 -37h0m-68 59h0m57 -58h0m-41 57h0m-1 -19h0m17 -8h0m-22 45h0m5 -16h0m14 -23h0m-31 44h0m-5 -29h0m61 -39h0m39 -33h0m-13 11h0m-23 28h0m-49 44h0m1 16h0m-7 -21h0m-7 2h0m49 -29h0m-51 27h0m114 -102h0m-104 98h0m11 -3h0m0 15h0m67 -69h0m12 -24h0m-55 37h0m40 -17h0m-61 50h0m46 -31h0m-51 31h0m106 -96h0m-46 51h0m-41 54h0m52 -64h0m-40 26h0m63 -54h0m-89 98h0m80 -89h0m-72 65h0m0 2h0m40 -38h0m11 -9h0m-79 88h0m3 -7h0m94 -91h0m-16 10h0m-2 -5h0m11 5h0m-16 11h0m-80 76h0m24 -15h0m-23 -2h0m57 -47h0m-57 51h0m26 -20h0m-7 32h0m38 -46h0m17 -33h0m31 -32h0m-39 51h0m23 -33h0m-59 81h0m56 -72h0m-30 21h0m-29 31h0m83 -79h0m-76 78h0m-27 6h0m-9 29h0m18 6h0m108 -128h0m-105 101h0m65 -63h0m44 -43h0m-76 70h0m18 -6h0m4 -21h0m-46 41h0m63 -45h0m-25 15h0m-35 35h0m40 -31h0m-47 40h0m-23 27h0m98 -86h0m-52 43h0m15 -16h0m-47 65h0m97 -108h0m-90 87h0m-8 -7h0m17 -6h0m-10 4h0m31 -21h0m43 -39h0m-100 75h0" stroke="#006400"/>
</g>
<path d="M1553.95 589.00H2047.01M1553.95 589.00V95.60M1553.95 589.00v19.0M1553.95 589.00h-19.0M1677.22 589.00v19.0M1553.95 465.65h-19.0M1800.48 589.00v19.0M1553.95 342.30h-19.0M1923.75 589.00v19.0M1553.95 218.95h-19.0M2047.01 589.00v19.0M1553.95 95.60h-19.0" stroke="#000" stroke-width="3.2" stroke-linecap="round" fill="none"/>
<text x="1553.95" y="657.50" text-anchor="middle">−1.0</text>
<text x="1677.22" y="657.50" text-anchor="middle">−0.5</text>
<text x="1800.48" y="657.50" text-anchor="middle">0.0</text>
<text x="1923.75" y="657.50" text-anchor="middle">0.5</text>
<text x="2047.01" y="657.50" text-anchor="middle">1.0</text>
<text transform="translate(1508.45 589.00) rotate(-90)" text-anchor="middle">−1.0</text>
<text transform="translate(1508.45 465.65) rotate(-90)" text-anchor="middle">−0.5</text>
<text transform="translate(1508.45 342.30) rotate(-90)" text-anchor="middle">0.0</text>
<text transform="translate(1508.45 218.95) rotate(-90)" text-anchor="middle">0.5</text>
<text transform="translate(1508.45 95.60) rotate(-90)" text-anchor="middle">1.0</text>
<text x="1800.48" y="695.00" text-anchor="middle">Original Cofitness</text>
<text transform="translate(1469.95 342.30) rotate(-90)" text-anchor="middle">Rescaled Cofitness</text>
<text x="1800.48" y="62.30" text-anchor="middle" font-weight="bold" font-size="40.0" letter-spacing="0">Dyella japonica UNC79MFTsu3.2</text>
<text x="1562.75" y="118.20" fill="#006400">Same subrole</text>
<text x="1562.75" y="147.40" fill="#ff0000">Different</text>
<path d="M356.88 1310.80V817.40M110.35 1064.10H603.41M110.35 1310.80L603.41 817.40" stroke="#bebebe" stroke-width="2.3" fill="none"/>
<g stroke-width="6.2" stroke-linecap="round" fill="none">
<path d="M410 1019h0m-47 42h0m-74 86h0m10 -27h0m8 -12h0m41 -30h0m98 -101h0m-63 78h0m-107 77h0m168 -133h0m-114 83h0m29 -34h0m46 -21h0m-39 6h0m68 -58h0m-1 15h0m-118 117h0m111 -114h0m64 -63h0m-230 242h0m164 -157h0m10 -6h0m-29 -13h0m-142 162h0m174 -166h0m-79 56h0m10 -2h0m-30 42h0m-32 20h0m126 -130h0m32 -21h0m-169 160h0m82 -51h0m39 -56h0m-17 29h0m-128 109h0m164 -171h0m-125 144h0m28 -26h0m-54 24h0m3 17h0m123 -147h0m19 17h0m-138 117h0m99 -94h0m87 -70h0m-34 27h0m-59 66h0m-2 -29h0m25 8h0m46 -62h0m-63 59h0m-100 91h0m161 -131h0m-12 -23h0m-41 69h0m-51 14h0m56 -49h0m5 -8h0m23 8h0m-65 47h0m39 -33h0m-104 89h0m126 -121h0m17 -17h0m-90 97h0m94 -73h0m-78 97h0m-80 31h0m38 -5h0m76 -86h0m-12 -8h0m1 10h0m85 -72h0m-189 182h0m0 -28h0m141 -115h0m-32 69h0m-155 104h0m335 -320h0m-148 132h0m14 0h0m65 -61h0m-64 64h0m9 6h0m-164 143h0m137 -138h0m-9 3h0m-117 141h0m-30 18h0m40 -73h0m143 -97h0m-161 141h0m-21 8h0m173 -155h0m-72 40h0m78 -43h0m-181 179h0m110 -122h0m14 -25h0m130 -113h0m-261 228h0m31 18h0m41 -37h0m105 -107h0m-61 62h0m69 -108h0m-56 82h0m-10 20h0m-34 6h0m52 -29h0m-119 88h0m116 -98h0m-80 78h0m89 -89h0m5 -23h0m-65 77h0m-34 26h0m80 -51h0m144 -140h0m-15 2h0m-148 158h0m-33 25h0m-29 32h0m53 -62h0m-97 110h0m102 -100h0m-47 50h0m125 -123h0m-115 86h0m79 -64h0m173 -170h0m-219 212h0m85 -76h0m-116 103h0m29 -72h0m-82 142h0m77 -79h0m87 -98h0m33 -29h0m-30 60h0m-168 152h0m92 -103h0m-23 31h0m90 -93h0m-155 139h0m101 -107h0m-97 91h0m94 -86h0m16 -5h0m-88 81h0m8 -14h0m142 -135h0m-139 143h0m73 -93h0m163 -132h0m-224 213h0m58 -20h0m-113 68h0m175 -159h0m-189 167h0m52 -55h0m13 -22h0m81 -61h0m-47 36h0m-55 69h0m102 -81h0m-55 50h0m-60 42h0m-22 8h0m171 -151h0m-12 -3h0m-65 63h0m-24 27h0m13 26h0m-90 52h0m167 -167h0m-55 79h0m73 -102h0m-106 126h0m29 -41h0m-104 107h0" stroke="#006400"/>
<path d="M428 1003h0m-16 -18h0m-19 57h0m-4 -7h0m-31 27h0m-93 86h0m252 -245h0m-206 229h0m51 -95h0m-115 139h0m46 -37h0m10 -34h0m71 -47h0m79 -89h0m-87 83h0m-98 104h0m56 -63h0m-50 44h0m59 -65h0m44 -43h0m24 4h0m-58 44h0m0 8h0m92 -86h0m-147 144h0m67 -100h0m-29 77h0m-15 -28h0m118 -112h0m-139 164h0m-80 59h0m114 -128h0m64 -51h0m60 -44h0m-22 20h0m-37 19h0m-16 58h0m-8 -33h0m39 -28h0m43 -40h0m-56 59h0m-42 7h0m14 15h0m50 -59h0m-178 171h0m116 -122h0m14 -5h0m60 -44h0m-62 83h0m-90 83h0m64 -63h0m-76 49h0m60 -24h0m66 -91h0m-26 2h0m-96 114h0m28 -19h0m95 -113h0m-32 55h0m46 -63h0m-94 102h0m72 -116h0m3 20h0m-48 84h0m66 -92h0m-79 103h0m27 -37h0m10 -23h0m-8 8h0m-6 2h0m-57 80h0m133 -134h0m-138 147h0m96 -132h0m74 -42h0m-38 14h0m35 -1h0m-10 -16h0m-143 150h0m-12 0h0m16 -16h0m-7 1h0m106 -85h0m-6 22h0m-33 -8h0m-77 98h0m41 -49h0m77 -88h0m-53 64h0m-71 71h0m74 -76h0m-68 68h0m61 -72h0m-53 86h0m8 -12h0m94 -123h0m-57 70h0m67 -63h0m-96 105h0m46 -7h0m39 -79h0m-83 56h0m-15 31h0m44 -32h0m-71 52h0m122 -103h0m-81 68h0m-19 23h0m271 -259h0m-199 182h0m71 -52h0m-36 35h0m-82 73h0m70 -95h0m-13 53h0m-25 -17h0m-37 45h0m9 9h0m56 -54h0m-14 8h0m-77 83h0m59 -57h0m43 -53h0m-99 93h0m8 -16h0m62 -71h0m36 -26h0m-124 148h0m99 -119h0m10 12h0m-47 25h0m56 -23h0m5 -43h0m-36 70h0m-7 -24h0m29 -28h0m34 -36h0m-73 64h0m-9 52h0m-50 16h0m91 -57h0m86 -87h0m-162 134h0m41 -30h0m85 -74h0m-46 15h0m-18 34h0m24 -4h0m-125 105h0m27 -26h0m36 -17h0m-7 -27h0m163 -130h0" stroke="#ff0000"/>
<path d="M362 1042h0m-59 75h0m70 -50h0m-63 29h0m4 24h0m136 -124h0m-180 160h0m28 -26h0m67 -65h0m-6 0h0m56 -52h0m23 -19h0m-104 102h0m33 -53h0m82 -61h0m1 3h0m101 -105h0m-243 229h0m-44 59h0m87 -96h0m-17 19h0m-73 74h0m228 -233h0m-181 173h0m34 -29h0m-24 31h0m89 -69h0m-25 9h0m-31 22h0m-54 39h0m149 -125h0m-17 4h0m-57 101h0m-80 58h0m89 -76h0m-43 23h0m116 -130h0m-123 144h0m88 -88h0m-70 39h0m45 -32h0m148 -136h0m-130 117h0m-129 112h0m88 -67h0m53 -36h0m-25 14h0m-83 45h0m-5 51h0m102 -139h0m-71 110h0m-4 -24h0m-67 90h0m278 -287h0m-152 162h0m-120 100h0m92 -62h0m-38 -8h0m88 -67h0m0 3h0m-26 24h0m-14 26h0m-2 14h0m-48 27h0m208 -210h0m-218 207h0m90 -84h0m-8 16h0m36 -28h0m-6 0h0m23 -19h0m-10 -6h0m-158 168h0m37 -64h0m95 -85h0m-49 60h0m77 -76h0m-153 147h0m242 -233h0m-256 247h0m147 -148h0m-63 45h0m-2 -2h0m79 -28h0m-117 70h0m71 -65h0m19 -19h0m-52 52h0m105 -84h0m-67 64h0m-85 76h0m125 -125h0m-93 98h0m196 -185h0m-112 108h0m-43 55h0m-34 1h0m-50 47h0m105 -61h0m-96 66h0m-31 35h0m94 -112h0m67 -52h0m4 7h0m-36 54h0m-47 28h0m-68 74h0m96 -125h0m81 -51h0m-107 121h0m33 -38h0m-8 18h0m-72 19h0m119 -86h0m-107 102h0m78 -58h0m-63 43h0m-33 11h0m109 -71h0m66 -92h0m-40 64h0m-6 -6h0m-15 5h0m-16 34h0m27 -49h0m-111 106h0m-13 38h0m59 -54h0m-24 19h0m110 -117h0m-124 104h0m213 -195h0m-227 246h0m-11 5h0m26 -57h0m47 -39h0m4 10h0m-125 110h0m156 -145h0m73 -72h0m-40 51h0m-153 148h0m82 -115h0m-18 57h0m25 -62h0m6 -11h0m81 -61h0m-130 127h0m-14 8h0m-13 18h0m-25 37h0m77 -91h0m-81 73h0m-75 86h0m175 -167h0" stroke="#006400"/>
<path d="M273 1155h0m111 -142h0m-69 78h0m-15 29h0m150 -134h0m-101 101h0m72 -64h0m-100 59h0m-38 29h0m65 -67h0m90 -41h0m-5 -25h0m-176 181h0m150 -156h0m-143 164h0m152 -151h0m-136 92h0m126 -126h0m-72 106h0m106 -99h0m-48 31h0m-48 52h0m10 -5h0m32 -43h0m-120 141h0m50 -78h0m67 -75h0m-86 97h0m34 -19h0m-18 33h0m4 -21h0m85 -98h0m-87 93h0m58 -51h0m11 -13h0m-15 0h0m-47 72h0m139 -133h0m-79 44h0m-68 96h0m180 -177h0m-117 119h0m15 -24h0m5 -23h0m64 -52h0m-89 75h0m-86 88h0m146 -128h0m-115 122h0m67 -74h0m27 -27h0m-46 39h0m9 -15h0m-47 41h0m-45 51h0m20 2h0m124 -122h0m-13 -3h0m-108 96h0m66 -38h0m-93 91h0m68 -78h0m116 -97h0m-85 63h0m-13 17h0m39 -35h0m-2 4h0m1 -3h0m-88 69h0m18 -6h0m5 -4h0m53 -38h0m-59 18h0m19 -10h0m2 18h0m-10 -3h0m60 -45h0m-99 89h0m118 -131h0m-122 135h0m91 -72h0m-8 10h0m-37 28h0m42 -51h0m46 -29h0m-102 86h0m-9 6h0m19 -6h0m-38 15h0m-29 26h0m120 -152h0m-23 54h0m-19 6h0m76 -27h0m4 -7h0m-125 90h0m9 11h0m159 -151h0m-164 155h0m101 -108h0m-98 77h0m184 -148h0m-164 164h0m36 -22h0m-13 27h0m-69 24h0m69 -47h0m-34 -2h0m-15 50h0m74 -68h0m-35 -11h0m26 1h0m-1 6h0m79 -92h0m-119 115h0m-69 83h0m-5 4h0m32 -35h0m-21 23h0m135 -128h0m-100 90h0m71 -50h0m-81 76h0m-26 27h0m46 -46h0m84 -96h0m-55 41h0m-22 48h0m-18 8h0m37 -30h0m-77 53h0m75 -62h0m63 -37h0m-20 3h0m43 -28h0m-113 91h0m16 -15h0m-29 -8h0m64 3h0m-8 -44h0m62 -60h0m-60 62h0m4 13h0m5 -23h0m20 -17h0m-41 47h0m26 -11h0m-5 0h0m-39 52h0m-58 35h0m61 -68h0m63 -19h0m-79 70h0m51 -64h0m-11 14h0m69 -77h0m-34 11h0m-26 35h0m-29 53h0m100 -102h0m-109 81h0m-34 51h0m96 -102h0m-48 69h0m27 -71h0m37 -18h0" stroke="#ff0000"/>
<path d="M431 986h0m-117 123h0m-52 39h0m188 -159h0m-20 13h0m-50 62h0m-87 62h0m-68 57h0m158 -162h0m8 22h0m-71 71h0m134 -138h0m-46 21h0m-91 105h0m69 -99h0m59 -9h0m87 -99h0m-170 177h0m-84 75h0m170 -149h0m-12 10h0m-90 38h0m67 -61h0m4 25h0m-61 80h0m-47 34h0m0 -13h0m-41 30h0m187 -186h0m-97 75h0m-3 15h0m208 -175h0m-206 204h0m-71 61h0m119 -134h0m26 13h0m-137 102h0m110 -63h0m-39 -15h0m-26 53h0m108 -102h0m-128 110h0m71 -60h0m-67 47h0m115 -83h0m-92 41h0m33 -22h0m-90 128h0m114 -163h0m40 -7h0m-21 52h0m-57 0h0m-9 43h0m7 -6h0m-26 -11h0m-36 39h0m-10 37h0m53 -62h0m-51 60h0m113 -105h0m-26 28h0m-1 -15h0m-110 100h0m136 -131h0m-81 81h0m-22 7h0m-43 70h0m199 -182h0m-117 71h0m-50 83h0m-7 9h0m-6 0h0m92 -117h0m-63 83h0m184 -178h0m-137 126h0m38 -24h0m-78 55h0m-23 15h0m81 -46h0m17 -18h0m-8 -21h0m69 -47h0m-155 133h0m47 -37h0m-62 73h0m82 -86h0m6 -8h0m29 -9h0m73 -90h0m-113 88h0m-38 64h0m102 -96h0m-19 15h0m-86 107h0m25 -76h0m113 -94h0m-76 103h0m42 -77h0m-83 73h0m-15 40h0m109 -109h0m-39 31h0m-20 43h0m22 -45h0m-71 78h0m-57 58h0m72 -97h0m173 -147h0m-107 120h0m-18 0h0m-8 6h0m-42 55h0m-52 33h0m-3 6h0m13 0h0m18 -22h0m27 -55h0m90 -46h0m-14 -8h0m-138 142h0m61 -74h0m19 17h0m18 -31h0m71 -80h0m-28 13h0m-54 55h0m-81 80h0m36 -24h0m223 -220h0m-154 165h0m26 -6h0m-104 49h0m15 24h0m80 -80h0m-91 82h0m94 -82h0m-46 16h0m-9 50h0m-65 52h0m235 -252h0m-180 185h0m22 -51h0m40 -8h0m-124 126h0m94 -128h0m-75 103h0m-24 17h0m175 -162h0m-94 110h0m-19 -30h0m-43 56h0m142 -131h0m-5 21h0m-165 159h0m111 -101h0m-68 47h0m6 13h0m70 -84h0m52 -34h0m-96 89h0m18 9h0m-25 -28h0m-72 93h0m182 -170h0m-105 49h0m21 -14h0m209 -170h0m-116 96h0m-110 136h0m-64 52h0m54 -42h0m22 -22h0m177 -184h0m-122 124h0m-126 124h0m217 -227h0m-192 199h0m70 -58h0m46 -53h0m-76 51h0m9 5h0m34 -21h0m-60 52h0m141 -138h0m-170 139h0m126 -95h0m-18 7h0m15 -10h0m-71 66h0m-91 83h0m87 -101h0m39 -28h0m-21 14h0m63 -37h0m0 5h0" stroke="#006400"/>
<path d="M352 1056h0m-38 55h0m15 1h0m44 -74h0m26 -25h0m-148 153h0m96 -84h0m164 -160h0m-96 83h0m-14 -7h0m-88 131h0m-42 36h0m38 -61h0m-8 22h0m69 -63h0m-19 5h0m-14 26h0m12 -36h0m74 -30h0m-102 86h0m6 -10h0m-60 41h0m137 -121h0m-28 27h0m-18 -12h0m-85 105h0m20 -33h0m32 -9h0m-4 -10h0m79 -83h0m-20 14h0m-64 65h0m134 -124h0m-25 14h0m-126 158h0m-8 -4h0m77 -97h0m27 11h0m-146 109h0m157 -121h0m-79 75h0m99 -95h0m-66 70h0m-17 -16h0m-54 74h0m42 -33h0m-9 3h0m103 -96h0m-15 -27h0m-17 53h0m-88 52h0m-37 46h0m153 -120h0m-29 5h0m-101 81h0m57 -62h0m79 -38h0m-64 32h0m81 -56h0m-70 72h0m-32 41h0m61 -64h0m-10 9h0m-61 47h0m-17 35h0m32 -70h0m-76 99h0m48 -52h0m42 -22h0m72 -105h0m-159 160h0m233 -225h0m-140 127h0m-18 9h0m-13 65h0m35 -59h0m-29 22h0m-53 68h0m79 -120h0m-112 118h0m180 -129h0m-132 108h0m29 -61h0m84 -62h0m-38 55h0m38 -26h0m-17 0h0m-25 -1h0m51 -12h0m-121 91h0m103 -91h0m-85 61h0m59 -11h0m-77 63h0m-5 -20h0m77 -63h0m-66 79h0m8 -41h0m-1 -14h0m229 -179h0m-252 247h0m73 -82h0m-9 -20h0m61 -30h0m-60 73h0m-4 -38h0m-51 89h0m20 -33h0m93 -101h0m8 0h0m-17 28h0m21 -19h0m-109 94h0m104 -97h0m-64 90h0m75 -81h0m-3 -15h0m-39 20h0m189 -172h0m-253 260h0m17 -38h0m-50 48h0m135 -117h0m-92 86h0m122 -92h0m-107 98h0m-47 0h0m62 -27h0m54 -39h0m-108 67h0m34 -23h0m-22 45h0m71 -57h0m-16 -14h0m168 -155h0m-209 187h0m14 -32h0m-90 110h0m9 -15h0m4 2h0m-7 26h0m118 -131h0m-66 57h0m-46 64h0m50 -72h0m78 -44h0m-77 65h0m0 4h0m4 -10h0m50 -41h0m-99 69h0m14 -3h0m112 -117h0m-10 19h0m-69 59h0m-27 36h0m111 -90h0m-130 121h0m-4 -2h0m127 -127h0m-46 24h0m-68 74h0m-34 48h0m72 -84h0m113 -107h0m-115 124h0m-54 52h0m92 -78h0m-49 38h0m70 -87h0m-79 107h0m89 -98h0m-86 60h0m90 -81h0m-10 27h0m-77 71h0m151 -147h0m-191 177h0m212 -191h0m-86 80h0m-25 15h0m-8 2h0" stroke="#ff0000"/>
<path d="M415 996h0m-114 141h0m51 -72h0m-46 35h0m139 -124h0m-42 30h0m-76 109h0m45 -75h0m-77 75h0m57 -79h0m219 -181h0m-188 181h0m26 -32h0m-38 32h0m103 -76h0m-63 62h0m-140 134h0m104 -99h0m-105 101h0m177 -185h0m-11 21h0m-59 65h0m-71 42h0m94 -87h0m52 -44h0m-40 -4h0m6 56h0m-47 19h0m36 -40h0m-7 17h0m-1 1h0m-1 0h0m-77 85h0m100 -85h0m-113 80h0m-13 10h0m50 -33h0m-45 20h0m-6 21h0m64 -62h0m-86 82h0m-5 6h0m33 -14h0m6 -41h0m117 -90h0m-43 33h0m33 -18h0m-70 66h0m22 -6h0m82 -108h0m-57 77h0m22 -36h0m43 -45h0m-142 122h0m25 6h0m98 -84h0m-96 92h0m10 -58h0m-18 23h0m31 -20h0m-13 14h0m-66 72h0m48 -65h0m111 -64h0m-82 75h0m69 -93h0m-67 95h0m89 -96h0m71 -79h0m-84 78h0m-66 51h0m-60 62h0m-49 50h0m46 -19h0m-22 15h0m157 -169h0m-96 87h0m98 -77h0m3 -40h0m-171 213h0m99 -97h0m94 -96h0m-111 81h0m52 -23h0m20 -48h0m-113 125h0m2 10h0m111 -101h0m-155 148h0m134 -141h0m3 -24h0m-62 79h0m-82 83h0m46 -32h0m102 -118h0m-66 73h0m10 -23h0m-27 15h0m70 -63h0m43 -27h0m-152 157h0m136 -123h0m-64 37h0m77 -64h0m-62 40h0m-121 145h0m188 -172h0m-121 83h0m-63 68h0m116 -106h0m-62 46h0m59 -60h0m-82 97h0m101 -85h0m63 -92h0m-174 198h0m114 -122h0m-50 33h0m102 -75h0m-139 135h0m31 -33h0m4 11h0m48 -93h0m50 -28h0m-105 105h0m81 -65h0m28 -22h0m-34 24h0m-57 57h0m99 -119h0m-140 161h0m-54 43h0m45 -26h0m28 -69h0m-55 75h0m110 -88h0m1 -34h0m-126 144h0m46 -48h0m100 -81h0m-136 110h0m60 -43h0m93 -106h0m-1 22h0m30 -50h0m-16 14h0m-108 94h0m44 -27h0m47 -25h0m-42 -3h0m-27 63h0m43 -47h0m-131 112h0m1 11h0m162 -177h0m-158 158h0m-14 20h0m45 -50h0m43 -16h0m38 -40h0m-139 127h0m186 -179h0m-30 26h0m-12 -28h0m-36 59h0m-88 97h0m54 -64h0m-69 65h0m92 -74h0m-5 -38h0m-29 37h0m25 8h0m-14 7h0m91 -69h0m-130 98h0m-30 43h0" stroke="#006400"/>
<path d="M426 980h0m-34 105h0m-100 45h0m52 -34h0m44 -28h0m-30 -26h0m76 -31h0m-150 119h0m123 -121h0m-4 11h0m-50 52h0m-36 26h0m23 -31h0m15 1h0m-33 6h0m34 -31h0m11 -6h0m-64 59h0m57 -67h0m95 -37h0m-134 82h0m-44 50h0m137 -137h0m-1 10h0m31 -20h0m-97 94h0m-67 79h0m18 -41h0m66 -48h0m14 4h0m-22 13h0m-39 44h0m38 -38h0m-35 -1h0m197 -168h0m-205 197h0m68 -76h0m-98 77h0m32 -5h0m65 -48h0m-28 0h0m3 19h0m96 -85h0m-136 105h0m-34 22h0m147 -151h0m-149 150h0m82 -60h0m34 -39h0m-136 139h0m155 -164h0m-97 87h0m37 -29h0m-68 75h0m-11 8h0m129 -104h0m-174 146h0m176 -143h0m-107 88h0m39 -35h0m-15 0h0m52 -32h0m45 -53h0m-112 87h0m16 18h0m-37 4h0m101 -90h0m-26 70h0m-94 57h0m11 -27h0m62 -40h0m135 -138h0m-92 96h0m-115 111h0m21 -37h0m285 -263h0m-258 242h0m86 -71h0m-101 90h0m115 -93h0m-102 105h0m-19 5h0m61 -35h0m73 -98h0m-114 95h0m104 -95h0m20 -9h0m-142 135h0m6 -9h0m31 -31h0m166 -142h0m-209 182h0m112 -89h0m-132 116h0m139 -161h0m1 3h0m-68 78h0m0 34h0m17 -50h0m11 -5h0m-66 50h0m142 -115h0m-38 29h0m-25 16h0m-30 23h0m-64 64h0m35 -24h0m-41 37h0m93 -75h0m-2 2h0m-45 64h0m7 -20h0m1 1h0m-33 31h0m133 -137h0m-86 99h0m35 -55h0m-35 36h0m-86 90h0m67 -96h0m53 -46h0m3 -12h0m40 -36h0m-63 83h0m18 -19h0m-115 115h0m15 5h0m78 -81h0m-10 -16h0m234 -225h0m-253 273h0m-68 52h0m26 -22h0m139 -165h0m-73 84h0m-65 63h0m18 -21h0m34 -37h0m35 -22h0m-31 1h0m31 2h0" stroke="#ff0000"/>
<path d="M508 925h0m25 -43h0m-68 84h0m55 -62h0m-9 13h0m-7 10h0m-30 34h0m35 -48h0m-19 23h0m76 -77h0m-47 56h0m36 -46h0m-9 17h0m-86 79h0m20 -22h0m67 -64h0m-71 82h0m94 -108h0m-50 47h0m-48 44h0m6 -1h0m15 0h0m16 -22h0m37 -38h0m-16 8h0m37 -30h0m19 -21h0m-105 104h0m30 -24h0m-5 -6h0m81 -76h0m-67 67h0m53 -52h0m-34 32h0m-48 45h0m55 -50h0m-60 72h0m34 -45h0m42 -40h0m-16 8h0m-17 29h0m-6 4h0m13 -13h0m18 -28h0m-21 35h0m-1 -9h0m-43 36h0m35 -23h0m-16 3h0m-24 40h0m-20 18h0m-2 0h0m70 -73h0m-64 68h0m54 -54h0m62 -66h0m-116 108h0m35 -5h0m-24 11h0m70 -76h0m-84 81h0m-2 -4h0m-3 23h0m120 -134h0m-70 74h0m-16 22h0m88 -105h0m-114 130h0m15 -15h0m-11 4h0m70 -64h0m-36 31h0m-36 49h0m2 -26h0m62 -56h0m-60 59h0m31 -26h0m-45 44h0m18 -26h0m61 -55h0m27 -30h0m-105 97h0m112 -97h0m-67 66h0m32 -30h0m-60 57h0m-22 12h0m94 -88h0m-37 55h0m-47 21h0m84 -66h0m-92 81h0m48 -46h0m25 -20h0m-64 62h0m47 -62h0m47 -34h0m-22 25h0m-6 2h0m-16 23h0m-1 -7h0m1 0h0m35 -33h0m-87 82h0m49 -46h0m-32 34h0m7 5h0m73 -85h0m17 -23h0m-69 65h0m25 -17h0m-70 74h0m-8 16h0m133 -147h0m-65 73h0m-22 11h0m-40 61h0m21 -27h0m76 -82h0m-98 97h0m104 -110h0m2 6h0m-82 88h0m44 -55h0m-28 29h0m-30 32h0m43 -43h0m21 -17h0m-68 77h0m19 -21h0m19 -35h0m67 -59h0m-16 15h0m-40 49h0m66 -83h0m-17 24h0m-48 51h0m-30 35h0m-31 6h0m87 -64h0m-67 70h0m41 -53h0m9 -3h0m-46 65h0m54 -79h0m-42 40h0m24 -27h0m56 -45h0m-50 43h0m31 -28h0m-84 78h0m4 -5h0m-11 25h0m45 -37h0m56 -68h0m-64 61h0m73 -72h0m-34 34h0m32 -29h0m-17 8h0m-73 77h0m15 -22h0m33 -28h0m-26 27h0m-27 39h0m104 -114h0m-85 84h0m11 -18h0m71 -68h0m-56 53h0m40 -31h0m9 -16h0m-42 42h0m-40 50h0m-25 19h0m83 -76h0m-37 34h0m57 -54h0m-103 99h0m52 -62h0m18 -9h0m12 -14h0m9 -14h0m23 -20h0m-101 111h0m60 -59h0m-3 2h0m-32 16h0m24 -12h0m-59 67h0m20 -22h0m-1 -15h0m55 -50h0m-57 69h0m-20 12h0m27 -32h0m31 -31h0m-45 46h0m9 -6h0m66 -68h0m-48 45h0m-36 38h0m11 2h0m56 -61h0m-25 21h0m46 -52h0m-99 117h0m45 -56h0m-3 4h0m53 -66h0m4 6h0m12 -11h0m-50 52h0m-52 42h0m64 -58h0m-3 12h0m-19 6h0m66 -59h0m4 -6h0m-114 119h0m34 -42h0m-39 48h0m112 -115h0m-106 103h0m98 -100h0m-79 92h0m17 -35h0m39 -27h0m43 -52h0m-36 37h0m4 -1h0m13 -10h0m-86 95h0m79 -94h0m-91 99h0m65 -68h0m-39 40h0m68 -76h0m-84 84h0m76 -72h0m-36 38h0m-29 26h0m68 -65h0m-81 80h0m-11 2h0m88 -85h0m-29 29h0m68 -70h0m-107 117h0m12 -18h0m52 -45h0m-62 62h0m79 -87h0m-40 40h0m-53 63h0m72 -78h0m-74 74h0m10 -14h0m-4 10h0m82 -86h0m-51 52h0m-45 69h0m77 -93h0m-3 4h0m-26 21h0m-5 9h0m27 -40h0m-1 10h0m11 -10h0m19 -27h0m-88 92h0" stroke="#006400"/>
</g>
<path d="M110.35 1310.80H603.41M110.35 1310.80V817.40M110.35 1310.80v19.0M110.35 1310.80h-19.0M233.62 1310.80v19.0M110.35 1187.45h-19.0M356.88 1310.80v19.0M110.35 1064.10h-19.0M480.14 1310.80v19.0M110.35 940.75h-19.0M603.41 1310.80v19.0M110.35 817.40h-19.0" stroke="#000" stroke-width="3.2" stroke-linecap="round" fill="none"/>
<text x="110.35" y="1379.30" text-anchor="middle">−1.0</text>
<text x="233.62" y="1379.30" text-anchor="middle">−0.5</text>
<text x="356.88" y="1379.30" text-anchor="middle">0.0</text>
<text x="480.14" y="1379.30" text-anchor="middle">0.5</text>
<text x="603.41" y="1379.30" text-anchor="middle">1.0</text>
<text transform="translate(64.85 1310.80) rotate(-90)" text-anchor="middle">−1.0</text>
<text transform="translate(64.85 1187.45) rotate(-90)" text-anchor="middle">−0.5</text>
<text transform="translate(64.85 1064.10) rotate(-90)" text-anchor="middle">0.0</text>
<text transform="translate(64.85 940.75) rotate(-90)" text-anchor="middle">0.5</text>
<text transform="translate(64.85 817.40) rotate(-90)" text-anchor="middle">1.0</text>
<text x="356.88" y="1416.80" text-anchor="middle">Original Cofitness</text>
<text transform="translate(26.35 1064.10) rotate(-90)" text-anchor="middle">Rescaled Cofitness</text>
<text x="356.88" y="784.10" text-anchor="middle" font-weight="bold" font-size="40.0" letter-spacing="0">Klebsiella michiganensis M5al</text>
<text x="119.15" y="840.00" fill="#006400">Same subrole</text>
<text x="119.15" y="869.20" fill="#ff0000">Different</text>
<path d="M1078.68 1310.80V817.40M832.15 1064.10H1325.21M832.15 1310.80L1325.21 817.40" stroke="#bebebe" stroke-width="2.3" fill="none"/>
<g stroke-width="6.2" stroke-linecap="round" fill="none">
<path d="M1174 993h0m-29 24h0m-67 52h0m51 -36h0m-183 161h0m63 -59h0m45 -61h0m87 -57h0m9 -13h0m-114 97h0m-5 19h0m33 -42h0m29 -21h0m-10 3h0m57 -43h0m-48 50h0m-71 61h0m30 -34h0m135 -129h0m-140 117h0m125 -93h0m-71 49h0m-26 8h0m246 -224h0m-215 229h0m-106 94h0m118 -112h0m-98 99h0m154 -169h0m-7 9h0m-67 58h0m-57 57h0m-54 62h0m150 -150h0m-86 92h0m6 -24h0m-71 82h0m58 -55h0m89 -67h0m-145 120h0m164 -158h0m-56 66h0m-89 78h0m65 -65h0m-2 1h0m80 -72h0m-72 67h0m69 -76h0m-111 121h0m76 -94h0m166 -152h0m-280 283h0m152 -153h0m-136 143h0m158 -161h0m-111 107h0m68 -78h0m-88 95h0m116 -117h0m-99 131h0m100 -132h0m-122 126h0m-7 -5h0m182 -168h0m-200 208h0m12 -22h0m83 -99h0m-49 66h0m-34 21h0m-6 16h0m116 -127h0m24 -18h0m-195 194h0m187 -191h0m-44 66h0m42 -43h0m-78 57h0m30 -19h0m-8 12h0m30 -46h0m-131 159h0m46 -61h0m-18 26h0m152 -150h0m-64 64h0m-80 68h0m288 -286h0m-187 187h0m-70 76h0m91 -80h0m-99 82h0m55 -63h0m44 -44h0m-48 67h0m-6 -13h0m-3 25h0m-13 4h0m-72 66h0m142 -142h0m-113 119h0m73 -91h0m54 -44h0m-53 52h0m-76 66h0" stroke="#006400"/>
<path d="M1136 1010h0m-161 153h0m197 -199h0m-63 81h0m-103 100h0m38 -54h0m63 -41h0m-2 -12h0m7 -1h0m-9 11h0m116 -126h0m-70 80h0m-39 21h0m-40 34h0m-55 63h0m114 -113h0m3 21h0m-83 50h0m128 -100h0m-14 -1h0m-18 35h0m-115 112h0m141 -148h0m-113 120h0m-30 8h0m33 -27h0m-14 10h0m119 -107h0m-63 70h0m-17 2h0m179 -173h0m-134 140h0m-68 62h0m17 -32h0m-10 30h0m-40 28h0m57 -51h0m-13 -2h0m6 13h0m-62 59h0m69 -57h0m61 -89h0m0 36h0m-115 78h0m47 -38h0m52 -38h0m-85 78h0m23 -27h0m36 -23h0m17 -23h0m47 -52h0m-92 87h0m218 -210h0m-206 205h0m-41 44h0m35 -32h0m64 -55h0m1 -22h0m11 5h0m-26 24h0m-14 22h0m-130 108h0m106 -112h0m-8 30h0m27 -26h0m-58 35h0m93 -70h0m-107 96h0m64 -56h0m11 -16h0m110 -106h0m-201 188h0m-31 25h0m96 -97h0m-111 122h0m75 -87h0m-34 55h0m-16 0h0m60 -61h0m-49 50h0m100 -76h0m-120 90h0m73 -71h0m108 -96h0m-100 87h0m-51 76h0m65 -67h0m-70 79h0m0 -12h0m125 -114h0m-93 75h0m-45 40h0m-2 7h0m177 -181h0m-67 85h0m20 -28h0m-51 41h0m68 -70h0m-52 66h0m94 -84h0m-188 163h0m89 -96h0m214 -196h0m-107 106h0m-119 125h0m71 -66h0" stroke="#ff0000"/>
<path d="M1113 1034h0m-14 21h0m-95 80h0m160 -145h0m-32 18h0m-70 67h0m-70 73h0m146 -131h0m-71 53h0m77 -55h0m20 -36h0m-133 127h0m30 -21h0m-49 42h0m134 -130h0m-18 20h0m-98 97h0m69 -87h0m74 -59h0m-67 67h0m133 -129h0m-63 53h0m-126 137h0m7 -4h0m61 -75h0m-67 64h0m-52 62h0m191 -194h0m66 -60h0m-142 130h0m-82 98h0m74 -81h0m55 -66h0m-11 32h0m14 -9h0m-115 101h0m-36 39h0m-19 20h0m179 -185h0m-83 91h0m50 -61h0m-81 89h0m173 -178h0m-225 218h0m0 -2h0m63 -52h0m-53 45h0m65 -60h0m-57 67h0m18 -22h0m1 -16h0m93 -62h0m-7 0h0m-83 69h0m108 -97h0m-2 -15h0m-84 91h0m-25 14h0m77 -65h0m-76 63h0m88 -46h0m-29 -1h0m-48 49h0m101 -90h0m-59 43h0m28 -39h0m-6 33h0m-145 132h0m318 -315h0m-270 273h0m30 -29h0m87 -94h0m19 -8h0m11 -14h0m-144 145h0m75 -78h0m-25 7h0m73 -50h0m-76 75h0m67 -70h0m-84 76h0m-64 62h0m5 1h0m130 -122h0m-68 43h0m80 -51h0m-103 76h0m69 -37h0m39 -49h0m-1 1h0m-11 -4h0m-51 46h0m27 1h0m-124 105h0m105 -102h0m69 -64h0m-154 142h0m170 -143h0m-19 21h0m-75 61h0m-51 32h0m27 -6h0m101 -101h0m-96 89h0m26 -46h0m-5 22h0m83 -83h0m15 -11h0m-87 89h0m149 -148h0" stroke="#006400"/>
<path d="M983 1156h0m167 -152h0m-89 84h0m105 -114h0m-47 49h0m-78 69h0m68 -70h0m-62 64h0m5 -5h0m55 -18h0m72 -98h0m-211 202h0m297 -281h0m-124 128h0m-90 72h0m112 -97h0m-44 30h0m-101 118h0m44 -53h0m-9 4h0m-11 13h0m14 -18h0m8 -7h0m-51 64h0m84 -83h0m53 -74h0m-17 46h0m-132 117h0m88 -91h0m-22 31h0m-7 -16h0m119 -92h0m-164 150h0m87 -88h0m33 -30h0m-113 100h0m18 -20h0m104 -82h0m37 -43h0m-200 194h0m116 -117h0m19 -14h0m29 -12h0m-15 -9h0m-10 14h0m-66 60h0m119 -101h0m-106 101h0m32 -39h0m28 -25h0m-85 87h0m106 -90h0m-40 27h0m-99 94h0m17 -22h0m17 0h0m14 -28h0m-10 -5h0m36 -12h0m7 1h0m21 -29h0m-109 101h0m118 -104h0m18 -23h0m-22 20h0m17 -7h0m-117 112h0m30 -47h0m28 -38h0m-42 50h0m53 -44h0m91 -90h0m104 -108h0m-299 288h0m122 -102h0m-77 69h0m94 -78h0m62 -64h0m-51 35h0m-120 130h0m160 -163h0m-119 97h0m12 -4h0m-41 54h0m119 -132h0m-139 135h0m114 -104h0m-5 15h0" stroke="#ff0000"/>
<path d="M1128 1034h0m6 -23h0m52 -51h0m83 -86h0m-244 252h0m193 -199h0m-208 201h0m16 -16h0m-11 29h0m4 -14h0m74 -70h0m66 -65h0m-5 15h0m-32 6h0m25 -21h0m-70 77h0m62 -56h0m-79 79h0m79 -81h0m-89 70h0m-47 47h0m169 -151h0m-224 215h0m152 -152h0m-53 42h0m34 -33h0m66 -36h0m-3 -13h0m-140 136h0m3 -2h0m153 -149h0m-7 21h0m-26 11h0m182 -182h0m-163 179h0m-90 55h0m80 -80h0m-134 156h0m19 -30h0m123 -118h0m-14 28h0m-97 74h0m16 -1h0m-16 13h0m54 -42h0m-71 72h0m101 -118h0m-121 110h0m33 -11h0m126 -131h0m-6 15h0m-93 91h0m75 -89h0m44 -23h0m-136 112h0m98 -89h0m17 -15h0m-58 36h0m-76 91h0m-14 26h0m113 -131h0m-96 110h0m54 -61h0m47 -40h0m50 -63h0m-51 61h0m25 -5h0m-112 87h0m-23 35h0m38 -57h0m-30 28h0m160 -153h0m-97 117h0m47 -53h0m-65 57h0m-48 53h0m226 -231h0m68 -69h0m-356 347h0m36 -38h0m126 -103h0m35 -32h0m-64 61h0m-62 55h0m71 -84h0m-13 17h0m62 -51h0m-123 108h0m129 -104h0m-2 3h0m-100 90h0m45 -51h0m14 -31h0m15 -5h0m-85 75h0m87 -58h0m-112 92h0m265 -255h0m-238 223h0m31 -18h0m33 -48h0m42 -22h0m17 -24h0m-111 99h0m14 -13h0m90 -87h0m-145 141h0m43 -17h0m124 -126h0m6 -5h0m-134 110h0m99 -75h0m-72 63h0m49 -64h0m33 -12h0m-80 67h0m59 -57h0m19 -15h0m15 -25h0m108 -99h0m-132 147h0m-127 115h0m104 -98h0" stroke="#006400"/>
<path d="M1001 1130h0m150 -135h0m19 -2h0m-61 35h0m-22 39h0m22 -40h0m-11 6h0m-56 69h0m32 -38h0m2 -1h0m-42 29h0m49 -28h0m91 -86h0m-129 120h0m43 -30h0m7 -8h0m-66 51h0m76 -65h0m-7 -10h0m48 -30h0m-37 30h0m-67 51h0m-11 23h0m80 -70h0m-8 -12h0m-31 71h0m-35 -3h0m76 -70h0m-12 19h0m37 -41h0m23 -13h0m-6 -10h0m15 5h0m-171 161h0m-10 2h0m159 -154h0m-88 95h0m-23 15h0m77 -79h0m61 -67h0m-92 111h0m-26 3h0m-53 66h0m32 -50h0m149 -140h0m-207 213h0m19 -14h0m125 -114h0m-90 86h0m-31 18h0m60 -52h0m-76 62h0m68 -54h0m33 -43h0m60 -53h0m-71 67h0m-39 46h0m31 -36h0m57 -50h0m123 -132h0m-99 114h0m-4 -11h0m-107 100h0m95 -80h0m-31 37h0m6 -18h0m-95 86h0m5 -12h0m64 -37h0m57 -70h0m-83 82h0m114 -113h0m-125 137h0m43 -55h0m-1 -1h0m-80 81h0m154 -154h0m-153 153h0m49 -49h0m-29 24h0m103 -102h0m-92 105h0" stroke="#ff0000"/>
<path d="M1153 992h0m-128 113h0m137 -113h0m-33 17h0m14 -15h0m-28 28h0m-55 50h0m51 -28h0m-152 133h0m171 -169h0m-72 75h0m2 -2h0m-90 94h0m187 -179h0m-75 70h0m71 -69h0m-34 39h0m-3 -9h0m11 -2h0m9 -10h0m-66 60h0m-90 80h0m126 -104h0m-65 56h0m114 -129h0m-66 77h0m12 -18h0m-84 92h0m54 -45h0m100 -95h0m-61 56h0m-7 -13h0m42 -20h0m-109 81h0m103 -81h0m41 -37h0m94 -105h0m-246 234h0m35 -16h0m1 -7h0m4 -16h0m107 -86h0m-61 57h0m-7 6h0m-9 15h0m-41 14h0m59 -51h0m-81 92h0m93 -89h0m-28 19h0m21 -6h0m-67 58h0m69 -74h0m-16 20h0m-78 72h0m122 -120h0m-150 151h0m158 -177h0m-162 167h0m43 -24h0m101 -93h0m-88 72h0m68 -58h0m-111 100h0m207 -208h0m-215 212h0m144 -123h0m-63 55h0m-32 24h0m60 -63h0m-3 8h0m68 -58h0m-31 34h0m-142 124h0m-9 6h0m51 -36h0m117 -116h0m-99 82h0m93 -61h0m12 -26h0m-62 62h0m52 -43h0m-72 53h0m-11 22h0m146 -153h0m-112 105h0m10 -15h0m2 19h0m-70 40h0m54 -34h0m-25 29h0m22 -24h0m32 -43h0m-85 79h0m33 -14h0m-33 23h0m7 -2h0m115 -116h0m-68 59h0m-17 20h0m-53 58h0m205 -206h0m-71 72h0m-6 5h0m-18 38h0m11 -18h0m-87 80h0m57 -67h0m21 7h0m-83 59h0m-75 66h0m90 -95h0m38 -21h0m-56 44h0m17 1h0m38 -38h0m63 -62h0" stroke="#006400"/>
<path d="M1045 1085h0m22 -17h0m60 -48h0m-26 34h0m-21 14h0m61 -42h0m-83 47h0m92 -62h0m-122 93h0m117 -105h0m-89 84h0m-21 10h0m251 -231h0m-199 206h0m51 -71h0m-120 133h0m96 -110h0m-16 28h0m-54 71h0m139 -151h0m-39 41h0m-104 103h0m130 -132h0m-120 96h0m50 -41h0m23 -23h0m-40 34h0m-90 97h0m69 -57h0m56 -66h0m0 2h0m33 -19h0m-102 96h0m3 -19h0m91 -78h0m-99 99h0m246 -245h0m-45 39h0m-130 138h0m-75 63h0m274 -265h0m-190 204h0m-59 31h0m85 -64h0m-34 18h0m11 -5h0m-30 38h0m-78 69h0m124 -127h0m-28 20h0m-87 101h0m-7 19h0m154 -171h0m-151 165h0m13 -26h0m30 -42h0m100 -86h0m-126 140h0m-18 0h0m136 -119h0m-152 137h0m112 -94h0m3 -17h0m-165 159h0m100 -104h0m147 -145h0m-60 79h0m9 -15h0m-110 100h0m101 -98h0m31 -23h0m-98 80h0m-8 41h0m-64 45h0m35 -45h0m104 -92h0m-157 149h0m108 -127h0m-56 79h0m53 -47h0m61 -64h0m-2 13h0m-152 131h0m88 -90h0m-78 79h0m53 -32h0m15 -28h0m-87 68h0m5 1h0m180 -170h0m-54 71h0m66 -76h0m-48 60h0m-85 68h0m19 -10h0m-6 -1h0m-17 22h0m82 -86h0m-110 117h0m43 -41h0m-9 -3h0m-70 61h0m256 -236h0m-249 227h0m140 -118h0m-132 112h0m67 -49h0m-8 2h0m-22 10h0m-26 21h0m127 -119h0m-155 156h0" stroke="#ff0000"/>
<path d="M1313 832h0m-134 136h0m38 -41h0m2 -3h0m-34 30h0m30 -1h0m33 -56h0m-17 17h0m-27 30h0m-9 6h0m48 -48h0m54 -53h0m-103 100h0m-13 14h0m117 -119h0m9 -4h0m-73 67h0m-13 16h0m66 -69h0m-45 53h0m-38 34h0m-13 15h0m116 -121h0m14 -7h0m-36 32h0m-106 109h0m38 -45h0m-37 57h0m92 -110h0m-92 102h0m109 -115h0m9 -9h0m-119 122h0m66 -77h0m-29 35h0m-16 15h0m33 -39h0m-9 16h0m-9 9h0m40 -37h0m-29 24h0m-1 2h0m-45 24h0m69 -42h0m-42 39h0m9 -9h0m-33 32h0m8 -9h0m96 -97h0m-72 73h0m6 -8h0m18 -15h0m56 -62h0m-64 71h0m-40 36h0m106 -108h0m-104 101h0m68 -63h0m-70 68h0m127 -125h0m-8 12h0m-97 95h0m23 -19h0m-42 44h0m13 -17h0m55 -60h0m-62 61h0m26 -21h0m30 -31h0m31 -35h0m-86 110h0m26 -48h0m42 -41h0m-60 57h0m9 -9h0m87 -83h0m-117 119h0m-6 -8h0m22 -4h0m35 -40h0m-46 45h0m111 -113h0m-105 104h0m84 -80h0m-51 43h0m-38 41h0m65 -64h0m-71 72h0m-2 -2h0m-1 -4h0m92 -82h0m32 -34h0m-131 134h0m101 -104h0m-14 18h0m-50 52h0m-30 33h0m5 -9h0m26 -28h0m-16 19h0m54 -60h0m41 -35h0m-57 55h0m43 -43h0m-76 72h0m100 -100h0m-21 23h0m-13 13h0m-50 57h0m-18 12h0m35 -40h0m58 -52h0m-16 16h0m-56 57h0m-17 17h0m24 -28h0m-35 38h0m97 -98h0m-9 5h0m-105 120h0m21 -35h0m-15 27h0m33 -41h0m-27 37h0m69 -82h0m-54 61h0m-28 37h0m1 1h0m68 -84h0m73 -73h0m-121 118h0m29 -29h0m-14 20h0m-35 33h0m139 -142h0m-102 100h0m-21 22h0m91 -91h0m-71 73h0m97 -96h0m-124 130h0m31 -41h0m-34 41h0m-1 -7h0m-6 11h0m3 0h0m44 -47h0m16 -22h0m-13 21h0m-35 27h0m20 -16h0m67 -65h0m-87 82h0m-11 11h0m60 -55h0m19 -21h0m-23 21h0" stroke="#006400"/>
</g>
<path d="M832.15 1310.80H1325.21M832.15 1310.80V817.40M832.15 1310.80v19.0M832.15 1310.80h-19.0M955.41 1310.80v19.0M832.15 1187.45h-19.0M1078.68 1310.80v19.0M832.15 1064.10h-19.0M1201.94 1310.80v19.0M832.15 940.75h-19.0M1325.21 1310.80v19.0M832.15 817.40h-19.0" stroke="#000" stroke-width="3.2" stroke-linecap="round" fill="none"/>
<text x="832.15" y="1379.30" text-anchor="middle">−1.0</text>
<text x="955.41" y="1379.30" text-anchor="middle">−0.5</text>
<text x="1078.68" y="1379.30" text-anchor="middle">0.0</text>
<text x="1201.94" y="1379.30" text-anchor="middle">0.5</text>
<text x="1325.21" y="1379.30" text-anchor="middle">1.0</text>
<text transform="translate(786.65 1310.80) rotate(-90)" text-anchor="middle">−1.0</text>
<text transform="translate(786.65 1187.45) rotate(-90)" text-anchor="middle">−0.5</text>
<text transform="translate(786.65 1064.10) rotate(-90)" text-anchor="middle">0.0</text>
<text transform="translate(786.65 940.75) rotate(-90)" text-anchor="middle">0.5</text>
<text transform="translate(786.65 817.40) rotate(-90)" text-anchor="middle">1.0</text>
<text x="1078.68" y="1416.80" text-anchor="middle">Original Cofitness</text>
<text transform="translate(748.15 1064.10) rotate(-90)" text-anchor="middle">Rescaled Cofitness</text>
<text x="1066.68" y="784.10" text-anchor="middle" font-weight="bold" font-size="40.0" letter-spacing="0">Pedobacter sp. GW460−11−11−14−LB</text>
<text x="840.95" y="840.00" fill="#006400">Same subrole</text>
<text x="840.95" y="869.20" fill="#ff0000">Different</text>
<path d="M1800.48 1310.80V817.40M1553.95 1064.10H2047.01M1553.95 1310.80L2047.01 817.40" stroke="#bebebe" stroke-width="2.3" fill="none"/>
<g stroke-width="6.2" stroke-linecap="round" fill="none">
<path d="M1838 1017h0m40 -30h0m-52 56h0m-15 27h0m-3 -39h0m-30 47h0m88 -68h0m-14 0h0m-133 129h0m175 -161h0m-99 95h0m-32 16h0m20 -18h0m-63 75h0m-13 3h0m104 -100h0m67 -60h0m-61 65h0m-10 -10h0m64 -55h0m-137 144h0m167 -166h0m-90 91h0m-123 114h0m45 -47h0m22 -16h0m130 -119h0m-117 118h0m71 -91h0m15 -1h0m42 -46h0m-32 30h0m23 -23h0m-38 26h0m25 2h0m-20 6h0m-22 21h0m37 -45h0m-101 95h0m34 -26h0m59 -29h0m31 -56h0m-40 23h0m13 0h0m-156 164h0m165 -171h0m-132 143h0m-4 -5h0m208 -207h0m-166 152h0m35 -36h0m-55 74h0m19 -15h0m-93 83h0m253 -248h0m-8 -1h0m-57 56h0m-93 106h0m-37 19h0m88 -75h0m-101 108h0m137 -146h0m-2 -8h0m-78 79h0m37 -16h0m83 -99h0m-123 124h0m-31 29h0m3 -8h0m173 -165h0m-147 160h0m46 -70h0m-102 117h0m-12 19h0m153 -170h0m-50 51h0m60 -48h0m-145 130h0m83 -82h0m-63 61h0m-13 24h0m-30 22h0m94 -77h0m5 15h0m-122 85h0m166 -170h0m12 0h0m26 -31h0m-46 46h0m-78 90h0m88 -98h0m-119 119h0m-22 15h0m-15 25h0m66 -63h0m-1 2h0m22 -25h0m-34 28h0m35 -21h0m96 -114h0m-159 180h0m75 -89h0m-74 89h0m27 -55h0m80 -57h0m-43 24h0m82 -64h0" stroke="#006400"/>
<path d="M1847 1032h0m-44 22h0m-94 90h0m153 -137h0m-52 63h0m-19 21h0m38 -45h0m-39 21h0m-87 93h0m174 -167h0m3 -9h0m24 -16h0m-190 173h0m44 -45h0m78 -69h0m-98 102h0m70 -87h0m20 -12h0m7 -7h0m-5 16h0m89 -95h0m-154 149h0m-15 19h0m-18 8h0m14 -16h0m188 -174h0m-60 80h0m-96 73h0m12 -2h0m-20 24h0m-13 9h0m35 -37h0m-78 78h0m146 -143h0m-99 88h0m75 -66h0m-92 80h0m43 -49h0m-75 92h0m-25 19h0m177 -183h0m-20 33h0m-30 22h0m-126 123h0m134 -128h0m-93 86h0m207 -202h0m-88 79h0m41 -37h0m-29 27h0m13 0h0m-101 87h0m-70 72h0m97 -73h0m-6 -8h0m19 -8h0m70 -75h0m-175 172h0m123 -127h0m-93 99h0m-13 -2h0m123 -112h0m-116 115h0m-29 17h0m66 -61h0m132 -119h0m-54 39h0m-170 172h0m205 -200h0m3 1h0m-96 90h0m-8 -3h0m-18 24h0m77 -62h0m-58 42h0m-6 -1h0m109 -83h0m-31 21h0m-68 71h0m-32 29h0m62 -59h0m-76 68h0m31 -36h0m92 -97h0m-39 62h0m-65 39h0m67 -45h0m9 -7h0m13 -34h0m-30 54h0m-3 -5h0m-64 57h0m113 -113h0m15 -7h0m-188 192h0m203 -216h0m-121 120h0m24 -17h0m-31 18h0m-69 79h0m37 -40h0m55 -53h0m172 -168h0m-157 147h0m-78 87h0m132 -135h0m-136 129h0m101 -104h0m36 -9h0" stroke="#ff0000"/>
<path d="M1863 1004h0m-46 48h0m60 -63h0m-42 39h0m-86 88h0m-17 13h0m-75 85h0m152 -136h0m9 -39h0m-48 50h0m30 -13h0m-36 14h0m118 -102h0m-146 145h0m14 -12h0m104 -114h0m-58 69h0m2 -5h0m-90 80h0m93 -94h0m77 -63h0m-81 62h0m11 -2h0m-103 103h0m125 -114h0m66 -80h0m-11 15h0m-44 38h0m19 -18h0m-108 113h0m27 -36h0m-19 21h0m-26 42h0m130 -123h0m34 -49h0m-174 179h0m94 -98h0m-24 27h0m77 -89h0m-71 90h0m70 -82h0m-107 115h0m119 -134h0m-25 25h0m-80 103h0m99 -116h0m-215 219h0m232 -234h0m-110 88h0m86 -62h0m-74 80h0m-88 68h0m38 -36h0m139 -137h0m-95 110h0m21 -33h0m-82 103h0m-3 -24h0m105 -97h0m-107 107h0m65 -67h0m73 -67h0m-16 22h0m6 -35h0m-56 76h0m18 -12h0m85 -79h0m-6 -8h0m-96 94h0m26 -24h0m-143 144h0m104 -98h0m112 -124h0m-181 199h0m61 -61h0m118 -119h0m-146 143h0m33 -38h0m111 -103h0m-131 135h0m18 -24h0m-47 52h0m149 -166h0m-21 37h0m-21 12h0m-106 111h0m145 -153h0m-104 90h0m40 -18h0m-81 62h0m118 -104h0m-169 178h0m71 -96h0m113 -104h0m-117 117h0m64 -74h0m-52 68h0m77 -72h0m0 -3h0m22 -22h0m5 8h0m-86 60h0m50 -38h0m-70 58h0m126 -111h0m-62 52h0m-129 124h0m123 -112h0" stroke="#006400"/>
<path d="M1770 1101h0m3 -10h0m-20 20h0m124 -124h0m-158 159h0m-19 14h0m81 -81h0m7 -5h0m5 8h0m-18 -5h0m-36 41h0m113 -107h0m-95 89h0m135 -115h0m-80 71h0m-31 2h0m24 10h0m66 -70h0m-68 80h0m-8 7h0m-48 49h0m-42 17h0m-3 5h0m162 -153h0m-122 126h0m129 -121h0m-9 -2h0m-141 139h0m75 -86h0m-35 29h0m71 -60h0m4 2h0m-53 44h0m-7 5h0m70 -70h0m-43 70h0m80 -87h0m-165 162h0m64 -61h0m18 -11h0m-24 -22h0m24 11h0m30 -34h0m-22 21h0m-52 54h0m144 -141h0m-12 11h0m-157 159h0m131 -128h0m-94 75h0m99 -101h0m10 8h0m-115 107h0m75 -72h0m-46 37h0m120 -119h0m-98 97h0m4 1h0m-6 22h0m-32 27h0m15 -13h0m-47 37h0m-77 74h0m193 -198h0m-48 39h0m5 16h0m-84 85h0m38 -67h0m-12 36h0m46 -58h0m0 5h0m15 -8h0m37 -32h0m78 -92h0m-136 135h0m-94 106h0m196 -205h0m-188 196h0m153 -152h0m57 -55h0m-120 108h0m41 -25h0m31 -38h0m-115 111h0m-51 50h0m129 -125h0m-83 69h0m69 -53h0m-163 158h0m81 -90h0m36 -22h0m-44 34h0m9 13h0m86 -93h0m-119 136h0m170 -185h0m-180 175h0" stroke="#ff0000"/>
<path d="M1858 999h0m20 -25h0m-139 156h0m13 -31h0m56 -41h0m-53 56h0m11 -43h0m-48 83h0m39 -36h0m-5 -11h0m99 -103h0m-50 79h0m216 -241h0m-246 252h0m77 -75h0m32 -40h0m-12 14h0m13 -1h0m-5 -4h0m-157 155h0m-33 31h0m58 -40h0m21 -37h0m103 -95h0m-97 86h0m-28 22h0m3 10h0m151 -148h0m-49 34h0m-111 127h0m20 -22h0m10 -30h0m175 -157h0m-134 143h0m7 -6h0m48 -53h0m18 -16h0m-86 90h0m22 -37h0m17 -23h0m-65 86h0m21 -33h0m-17 22h0m5 -6h0m80 -89h0m-49 65h0m51 -51h0m-98 84h0m23 -6h0m110 -111h0m-117 108h0m-50 34h0m31 -23h0m-9 5h0m99 -90h0m6 -15h0m-69 67h0m27 -19h0m-71 76h0m143 -149h0m-166 179h0m-2 0h0m77 -71h0m94 -117h0m-55 58h0m26 -13h0m-124 106h0m65 -63h0m37 -10h0m31 -38h0m-27 15h0m-28 18h0m86 -75h0m-172 158h0m216 -208h0m-148 162h0m57 -70h0m-69 75h0m-37 32h0m113 -101h0m-18 15h0m74 -85h0m-120 106h0m-71 84h0m28 -10h0m134 -142h0m-2 -6h0m-16 15h0m-7 8h0m17 0h0m16 -19h0m-122 127h0m111 -131h0m-131 130h0m88 -73h0m19 -30h0m-27 26h0m-97 104h0m16 -22h0m46 -33h0m-69 52h0m79 -77h0m-59 60h0m136 -141h0m21 -18h0m-57 60h0m-24 13h0m72 -47h0m-177 159h0" stroke="#006400"/>
<path d="M1910 954h0m-182 195h0m20 -14h0m171 -190h0m-158 166h0m66 -81h0m-47 51h0m-79 86h0m134 -128h0m25 -24h0m15 -34h0m50 -44h0m-122 133h0m42 -42h0m-74 63h0m66 -69h0m17 -14h0m-69 83h0m19 -22h0m-137 133h0m114 -117h0m-4 -6h0m104 -99h0m35 -23h0m19 -23h0m-122 130h0m42 -64h0m3 9h0m-180 180h0m174 -175h0m-68 54h0m38 -29h0m45 -37h0m-37 25h0m34 -18h0m-67 47h0m-6 30h0m28 -48h0m41 -37h0m-180 172h0m168 -153h0m-36 28h0m68 -59h0m-105 92h0m112 -102h0m-74 63h0m2 -2h0m-88 112h0m170 -175h0m-87 66h0m-46 65h0m20 -31h0m-91 89h0m160 -139h0m-123 93h0m123 -120h0m-4 3h0m-107 103h0m87 -65h0m-90 99h0m67 -88h0m-112 118h0m0 -4h0m82 -81h0m64 -51h0m-40 20h0m-25 28h0m72 -57h0m35 -41h0m30 -24h0m-165 143h0m103 -82h0m4 -5h0m-131 114h0m-7 1h0m19 -2h0m-19 12h0m123 -121h0m-32 28h0m-49 77h0m68 -86h0m-18 9h0m-95 98h0m-27 30h0m57 -47h0m74 -88h0m75 -61h0m-128 121h0m-9 18h0m56 -79h0m-18 18h0m-33 42h0m-69 86h0m230 -247h0m-168 186h0m78 -106h0m-71 92h0m170 -174h0m-187 171h0m103 -95h0m-22 9h0m-45 71h0m37 -51h0m77 -62h0m-92 83h0m-10 -1h0m-8 9h0m94 -81h0m-108 97h0" stroke="#ff0000"/>
<path d="M1860 991h0m24 -1h0m-97 88h0m105 -111h0m-24 31h0m24 -25h0m-176 176h0m78 -74h0m-24 9h0m79 -63h0m-71 51h0m-60 67h0m34 -27h0m137 -123h0m41 -56h0m-84 91h0m-51 46h0m28 -25h0m9 -9h0m6 -2h0m-86 75h0m-34 25h0m50 -48h0m55 -47h0m-81 91h0m-34 27h0m115 -107h0m7 -15h0m-44 34h0m-34 47h0m-25 20h0m160 -156h0m-120 123h0m106 -114h0m-63 74h0m128 -128h0m-66 52h0m-5 11h0m-110 112h0m-91 80h0m73 -58h0m38 -28h0m26 -36h0m43 -49h0m-36 42h0m-121 111h0m98 -93h0m43 -31h0m-66 65h0m41 -51h0m120 -125h0m-184 189h0m-1 -4h0m100 -109h0m-30 41h0m1 13h0m-44 15h0m-23 41h0m22 -43h0m87 -69h0m-83 87h0m-26 26h0m1 -6h0m70 -75h0m81 -66h0m-127 116h0m18 -22h0m63 -62h0m-123 131h0m-9 7h0m138 -143h0m27 -12h0m-107 103h0m40 -36h0m-73 59h0m62 -53h0m69 -74h0m-87 75h0m55 -53h0m-48 60h0m58 -72h0m-131 137h0m47 -29h0m13 -29h0m-61 55h0m154 -146h0m-175 194h0m157 -161h0m0 -25h0m-100 116h0m5 -2h0m28 -37h0m62 -66h0m-20 20h0m-70 65h0m-26 43h0m-11 13h0m67 -78h0m101 -86h0m-120 114h0m90 -88h0m-55 58h0m-123 102h0m151 -148h0m-2 10h0m35 -37h0m-152 139h0m91 -82h0m-65 65h0m148 -139h0m-130 136h0m-51 37h0m183 -187h0m-88 109h0m-64 41h0m73 -63h0" stroke="#006400"/>
<path d="M1870 1006h0m-55 43h0m-52 42h0m-81 78h0m78 -53h0m-41 32h0m-9 -3h0m119 -118h0m22 -11h0m-46 51h0m-49 45h0m58 -61h0m-40 27h0m-13 12h0m-31 40h0m15 9h0m7 -28h0m88 -80h0m-15 -1h0m108 -105h0m-175 186h0m4 -3h0m-30 36h0m69 -82h0m-6 7h0m-105 100h0m40 -41h0m32 -24h0m0 4h0m134 -148h0m-15 19h0m-101 109h0m120 -129h0m-78 76h0m-52 85h0m-49 20h0m111 -116h0m-58 55h0m75 -59h0m-7 38h0m-57 34h0m-45 32h0m18 -33h0m-5 26h0m1 -23h0m142 -125h0m-144 137h0m-25 45h0m171 -184h0m-94 77h0m-67 88h0m96 -97h0m-36 37h0m-46 31h0m92 -90h0m-62 50h0m19 13h0m-94 82h0m-16 13h0m185 -191h0m-28 29h0m22 -15h0m-161 154h0m86 -69h0m-43 44h0m32 -28h0m26 -41h0m9 -6h0m-27 26h0m-67 77h0m139 -165h0m-137 157h0m26 -46h0m108 -80h0m-37 15h0m-21 37h0m21 -40h0m-49 52h0m-106 103h0m115 -115h0m78 -58h0m-134 126h0m113 -119h0m-38 59h0m1 -2h0m30 -32h0m-178 167h0m206 -195h0m-70 70h0m121 -134h0m-130 141h0m44 -48h0" stroke="#ff0000"/>
<path d="M1982 872h0m-39 47h0m28 -28h0m-57 56h0m12 -9h0m5 -15h0m-20 36h0m15 -13h0m15 -15h0m-33 27h0m-6 7h0m20 -12h0m14 -22h0m-28 23h0m31 -25h0m-4 -1h0m-13 9h0m-22 14h0m36 -19h0m-35 42h0m138 -150h0m-9 14h0m-114 126h0m-16 9h0m1 -8h0m44 -40h0m-4 -6h0m-24 32h0m-7 4h0m-10 11h0m126 -128h0m-64 63h0m43 -39h0m-94 90h0m101 -99h0m-25 25h0m-53 56h0m-8 10h0m26 -32h0m-29 17h0m16 -5h0m-13 18h0m-22 9h0m21 -11h0m7 -4h0m7 -16h0m-10 8h0m-1 11h0m79 -83h0m-67 72h0m-34 31h0m46 -46h0m-6 3h0m30 -16h0m57 -69h0m-78 73h0m-26 36h0m14 -18h0m-38 33h0m-4 1h0m17 -15h0m9 -3h0m31 -34h0m-28 23h0m-31 46h0m32 -39h0m-25 25h0m40 -36h0m-20 17h0m-23 21h0m26 -28h0m3 2h0m-1 12h0m10 -24h0m0 -7h0m-29 40h0m5 -10h0m-4 3h0m11 -11h0m5 5h0m3 -18h0m-11 29h0m7 -17h0m10 -13h0m-25 27h0m109 -107h0m-103 107h0m-4 -4h0m51 -56h0m-51 70h0m-2 -11h0m33 -25h0m-29 33h0m-3 -9h0m82 -87h0m-86 99h0m-3 5h0m4 -19h0m52 -48h0m-53 54h0m80 -84h0m-58 57h0m-4 5h0m-6 13h0m-3 8h0m21 -33h0m-19 28h0" stroke="#006400"/>
</g>
<path d="M1553.95 1310.80H2047.01M1553.95 1310.80V817.40M1553.95 1310.80v19.0M1553.95 1310.80h-19.0M1677.22 1310.80v19.0M1553.95 1187.45h-19.0M1800.48 1310.80v19.0M1553.95 1064.10h-19.0M1923.75 1310.80v19.0M1553.95 940.75h-19.0M2047.01 1310.80v19.0M1553.95 817.40h-19.0" stroke="#000" stroke-width="3.2" stroke-linecap="round" fill="none"/>
<text x="1553.95" y="1379.30" text-anchor="middle">−1.0</text>
<text x="1677.22" y="1379.30" text-anchor="middle">−0.5</text>
<text x="1800.48" y="1379.30" text-anchor="middle">0.0</text>
<text x="1923.75" y="1379.30" text-anchor="middle">0.5</text>
<text x="2047.01" y="1379.30" text-anchor="middle">1.0</text>
<text transform="translate(1508.45 1310.80) rotate(-90)" text-anchor="middle">−1.0</text>
<text transform="translate(1508.45 1187.45) rotate(-90)" text-anchor="middle">−0.5</text>
<text transform="translate(1508.45 1064.10) rotate(-90)" text-anchor="middle">0.0</text>
<text transform="translate(1508.45 940.75) rotate(-90)" text-anchor="middle">0.5</text>
<text transform="translate(1508.45 817.40) rotate(-90)" text-anchor="middle">1.0</text>
<text x="1800.48" y="1416.80" text-anchor="middle">Original Cofitness</text>
<text transform="translate(1469.95 1064.10) rotate(-90)" text-anchor="middle">Rescaled Cofitness</text>
<text x="1800.48" y="784.10" text-anchor="middle" font-weight="bold" font-size="40.0" letter-spacing="0">Pontibacter actiniarum KMM 6156</text>
<text x="1562.75" y="840.00" fill="#006400">Same subrole</text>
<text x="1562.75" y="869.20" fill="#ff0000">Different</text>
<path d="M356.88 2032.60V1539.20M110.35 1785.90H603.41M110.35 2032.60L603.41 1539.20" stroke="#bebebe" stroke-width="2.3" fill="none"/>
<g stroke-width="6.2" stroke-linecap="round" fill="none">
<path d="M407 1750h0m-43 60h0m-126 135h0m142 -199h0m-197 231h0m172 -186h0m58 -52h0m23 -57h0m-69 102h0m-91 93h0m144 -173h0m32 -31h0m-99 130h0m22 -78h0m61 -42h0m-125 147h0m87 -64h0m-19 28h0m-70 61h0m126 -127h0m28 -57h0m2 9h0m-134 144h0m91 -111h0m73 -80h0m-90 80h0m-47 87h0m39 -121h0m-75 147h0m-17 13h0m63 -48h0m-27 18h0m-39 52h0m9 -37h0m64 -53h0m28 -58h0m77 -68h0m-32 47h0m-60 86h0m1 -30h0m-133 158h0m183 -215h0m-101 133h0m99 -105h0m-170 182h0m49 -82h0m56 -31h0m-63 38h0m-61 77h0m270 -289h0m-132 127h0m-91 101h0m76 -88h0m74 -41h0m-32 -36h0m-66 135h0m61 -94h0m-113 118h0m7 10h0m123 -132h0m-153 181h0m175 -209h0m-57 64h0m-26 38h0m6 -11h0m-119 131h0m-8 4h0m105 -128h0m-52 70h0m124 -159h0m35 -32h0m-145 150h0m21 -11h0m58 -49h0m-47 54h0m-27 -2h0m-31 82h0m119 -171h0m17 31h0m-12 12h0m-63 62h0m59 -76h0m-26 38h0m52 -101h0m24 7h0m-57 25h0m-36 48h0m26 9h0m-83 73h0m123 -171h0m-133 201h0m-54 53h0m13 -33h0m241 -249h0m-33 28h0m-199 223h0m87 -109h0m-38 48h0m20 -35h0m81 -76h0m-83 87h0m-27 27h0m10 -15h0m51 -28h0m58 -71h0m30 -18h0m22 -46h0m-210 219h0m77 -65h0m-11 -14h0m94 -80h0m-37 85h0m-66 4h0m35 -35h0m-54 89h0m55 -100h0m-44 60h0m81 -90h0m-18 19h0m-31 40h0m101 -78h0m-180 162h0m207 -225h0m-137 154h0m123 -135h0m-91 41h0m42 41h0m62 -105h0m-127 161h0m20 -59h0m-72 101h0m-4 21h0m47 -89h0m166 -163h0m-158 169h0m98 -104h0m-82 96h0m117 -122h0m-194 200h0m4 -15h0m48 -26h0m186 -210h0m-186 220h0m70 -71h0m14 -49h0m3 19h0m-107 102h0m151 -152h0m-122 142h0m62 -74h0m-131 179h0m64 -138h0m41 -38h0m16 -22h0m1 1h0m-147 175h0m122 -134h0m18 7h0m-98 87h0m29 -49h0m65 -25h0m20 -44h0m-152 161h0m99 -100h0m-20 -1h0m97 -93h0m-144 176h0m182 -229h0m-87 100h0m-40 28h0m-36 35h0m50 -33h0m29 -11h0m-57 44h0m76 -54h0m-130 117h0m181 -217h0m-251 295h0m340 -367h0m-186 200h0m-58 33h0m9 25h0m228 -251h0m-135 116h0m-30 73h0m0 -17h0m106 -107h0m-122 116h0m-69 100h0m108 -156h0m-66 81h0m122 -123h0m-82 98h0m56 -68h0m-54 51h0m197 -191h0m-227 221h0m36 -56h0m61 -6h0m-140 102h0m41 -53h0m-58 100h0m38 -49h0m6 -34h0m92 -78h0m-101 130h0m260 -283h0m-108 85h0m-200 228h0m65 -76h0m58 -63h0m197 -189h0m-129 139h0m-17 -10h0m-77 119h0m18 -68h0m71 -64h0m-76 69h0m19 23h0m-56 22h0m98 -90h0m-90 83h0m29 -6h0m-111 117h0m197 -206h0m-7 2h0m20 -15h0m-108 89h0" stroke="#006400"/>
<path d="M408 1763h0m-15 -3h0m-110 96h0m-40 61h0m224 -252h0m80 -86h0m-240 276h0m108 -108h0m-29 -9h0m-137 181h0m83 -89h0m53 -118h0m-107 174h0m10 -40h0m116 -124h0m-59 81h0m18 -36h0m111 -103h0m-37 28h0m-61 53h0m22 19h0m-10 -32h0m-110 152h0m109 -133h0m-136 154h0m87 -72h0m-6 -39h0m6 22h0m46 -38h0m32 -66h0m15 -15h0m92 -82h0m-194 208h0m57 -59h0m-86 89h0m89 -103h0m-46 28h0m-77 115h0m52 -63h0m-32 13h0m147 -155h0m-142 174h0m2 11h0m31 -58h0m-20 47h0m-20 -29h0m174 -169h0m-1 11h0m-12 -2h0m-123 156h0m13 -37h0m106 -93h0m-171 190h0m17 -32h0m22 -29h0m252 -249h0m-294 292h0m87 -113h0m-63 110h0m24 -36h0m-36 54h0m3 -19h0m131 -150h0m-168 197h0m123 -124h0m-37 -10h0m-45 101h0m0 -38h0m94 -89h0m14 -32h0m19 39h0m-65 21h0m-48 61h0m89 -106h0m64 -96h0m-110 167h0m-40 59h0m14 -40h0m-26 54h0m79 -103h0m-96 96h0m-22 31h0m111 -156h0m-34 49h0m-86 110h0m188 -191h0m-53 70h0m13 -13h0m-91 89h0m9 -49h0m98 -103h0m-129 147h0m-6 29h0m137 -153h0m-21 39h0m-38 34h0m-18 -25h0m103 -93h0m-145 183h0m108 -128h0m22 -32h0m-162 203h0m83 -128h0m31 -37h0m-36 73h0m-117 113h0m24 -33h0m344 -352h0m-220 232h0m-51 39h0m50 -58h0m-12 23h0m-39 26h0m159 -138h0m-78 120h0m-41 -21h0m-15 44h0m-3 -5h0m-74 67h0m60 -71h0m5 -1h0m158 -156h0m6 -2h0m-186 189h0m-28 40h0m100 -122h0m26 -1h0m42 -71h0m-84 105h0m47 -56h0m161 -170h0m-193 211h0m-53 24h0m88 -55h0m-115 101h0m67 -69h0m-3 -5h0m-1 6h0m-66 74h0m-11 -6h0m97 -53h0m-18 -16h0m83 -94h0m-178 228h0m53 -110h0m77 -62h0m-56 79h0m83 -119h0m23 14h0m31 -78h0m-51 90h0m17 -9h0m-1 -14h0m-129 133h0m78 -77h0m69 -89h0m37 -65h0m-141 181h0m-26 43h0m-88 84h0m53 -66h0m18 7h0m164 -211h0m-126 146h0m6 17h0m-71 76h0m53 -90h0m-24 47h0m45 -52h0m-104 127h0m67 -97h0m77 -48h0m-194 199h0m248 -301h0m-145 220h0m56 -88h0m-41 -2h0m155 -144h0m-39 52h0m15 -59h0m-154 206h0m126 -168h0m48 -30h0m-182 187h0m114 -86h0m-13 -19h0m-89 95h0m146 -152h0m-124 155h0m22 -55h0m-4 20h0m-98 132h0m117 -163h0m16 -12h0m13 0h0m72 -75h0m-212 239h0m35 -35h0m44 -69h0m-76 82h0m85 -119h0m-24 60h0m29 -82h0m-52 94h0m33 -23h0m136 -158h0m-54 87h0m-59 16h0m0 -3h0m29 -11h0m-39 76h0m-63 72h0m-18 -22h0m139 -137h0m-71 66h0m14 9h0m46 -94h0m-45 88h0m-18 15h0m142 -167h0m-40 27h0m16 -8h0m15 -24h0m43 -31h0m-176 206h0m34 -38h0m89 -79h0m-54 33h0m29 -45h0m-152 174h0m16 -27h0m193 -193h0m-88 78h0m-135 166h0m228 -268h0m-142 164h0m-101 103h0m205 -199h0m-131 142h0m182 -203h0m-218 231h0m26 -7h0m125 -141h0m-191 223h0m131 -165h0m8 -42h0m-26 37h0m14 27h0m38 -39h0m-168 157h0m213 -254h0m11 -10h0m37 -15h0m-102 90h0m32 -11h0m-149 164h0m182 -204h0m-113 96h0" stroke="#ff0000"/>
<path d="M374 1785h0m38 -66h0m-28 54h0m-36 -2h0m9 21h0m-20 14h0m-27 29h0m210 -231h0m-204 234h0m132 -161h0m-124 145h0m57 -40h0m49 -64h0m-45 75h0m105 -148h0m-127 111h0m-56 90h0m-14 -4h0m0 31h0m103 -145h0m28 -12h0m5 4h0m-59 74h0m19 -17h0m45 -86h0m-137 219h0m36 -123h0m33 -8h0m48 -58h0m-157 169h0m288 -303h0m-120 139h0m16 -40h0m-59 53h0m143 -129h0m-144 143h0m-100 127h0m36 -45h0m103 -119h0m-19 1h0m-104 131h0m111 -84h0m-114 109h0m67 -102h0m-8 35h0m83 -115h0m25 -8h0m-173 155h0m88 -90h0m-11 38h0m98 -97h0m-188 193h0m100 -90h0m68 -114h0m-49 98h0m-105 76h0m73 -75h0m36 -34h0m193 -192h0m-330 368h0m102 -147h0m45 -39h0m-91 115h0m50 -93h0m-30 74h0m39 -36h0m49 -65h0m-80 72h0m-23 13h0m213 -212h0m-248 303h0m68 -145h0m-118 162h0m102 -141h0m-71 100h0m143 -162h0m-121 161h0m18 -51h0m105 -71h0m-124 112h0m-13 -11h0m165 -154h0m-91 64h0m-66 109h0m4 -3h0m126 -175h0m-91 110h0m42 -5h0m-35 0h0m26 -4h0m29 -25h0m50 -64h0m-48 28h0m-1 46h0m-11 -24h0m-12 8h0m48 -38h0m5 13h0m-62 37h0m61 -25h0m-43 14h0m107 -114h0m-160 164h0m77 -90h0m-108 140h0m70 -65h0m-19 6h0m91 -76h0m-158 139h0m42 -12h0m-73 63h0m235 -266h0m-79 72h0m57 -51h0m-27 30h0m97 -98h0m-119 131h0m64 -94h0m-144 172h0m187 -194h0m-162 154h0m79 -56h0m-79 65h0m5 20h0m-22 12h0m-16 -12h0m13 -30h0m2 52h0m129 -157h0m-34 13h0m-14 44h0m-72 91h0m128 -160h0m-124 144h0m73 -111h0m-23 45h0m108 -124h0m-240 291h0m216 -248h0m-52 54h0m25 -53h0m-81 113h0m84 -113h0m-42 92h0m-122 102h0m84 -68h0m85 -116h0m-99 128h0m81 -89h0m25 -54h0m-15 17h0m-159 202h0m36 -93h0m186 -166h0m-100 111h0m-54 42h0m-113 136h0m220 -225h0m-40 15h0m-47 81h0m-20 38h0m-75 63h0m175 -203h0m110 -113h0m-243 256h0m96 -85h0m-70 95h0m88 -133h0m-79 77h0m170 -196h0m-214 262h0m70 -85h0m-53 41h0m121 -102h0m-71 64h0m55 -57h0m-59 37h0m-128 165h0m85 -65h0m50 -90h0m-30 16h0m59 -48h0m-109 138h0m138 -166h0m3 -12h0m-32 35h0m-175 215h0m8 -21h0m0 13h0m117 -115h0m37 -62h0m41 -51h0m-54 42h0m-91 118h0m39 -29h0m97 -130h0m-74 69h0m61 -28h0m-185 188h0m229 -263h0m-182 220h0m118 -154h0m13 -12h0m-89 69h0m57 -40h0m-77 115h0m16 -31h0m-59 89h0m16 -46h0m106 -101h0m-107 122h0m183 -204h0m-72 67h0m-19 24h0m34 -32h0m-72 93h0m-47 30h0m81 -104h0m49 1h0m-28 -13h0m-136 164h0m70 -85h0m-24 3h0m146 -129h0m32 -43h0m-197 200h0m9 21h0m105 -138h0m78 -86h0" stroke="#006400"/>
<path d="M338 1802h0m95 -109h0m-170 211h0m-22 11h0m49 -43h0m134 -180h0m-179 228h0m184 -189h0m-14 0h0m46 -41h0m-44 14h0m-148 200h0m200 -240h0m-207 255h0m138 -145h0m4 -74h0m-146 195h0m52 -65h0m-59 87h0m107 -107h0m112 -160h0m-59 101h0m-175 172h0m17 -31h0m3 22h0m9 -5h0m-5 -7h0m211 -278h0m-102 171h0m-34 18h0m-59 61h0m-29 30h0m178 -202h0m-113 115h0m124 -100h0m-76 55h0m4 27h0m-71 77h0m68 -92h0m-22 16h0m-34 49h0m-7 10h0m115 -158h0m-218 270h0m217 -254h0m-27 28h0m21 25h0m-94 46h0m-32 72h0m180 -200h0m-121 116h0m19 -35h0m-43 35h0m155 -135h0m-172 203h0m-28 31h0m3 -7h0m-49 24h0m203 -233h0m-11 35h0m-128 127h0m140 -139h0m-67 43h0m39 -61h0m56 10h0m-179 188h0m32 -42h0m129 -127h0m37 -74h0m98 -87h0m-192 197h0m-23 11h0m36 -3h0m123 -138h0m-103 96h0m-23 43h0m-78 54h0m-25 66h0m-32 32h0m214 -246h0m-87 102h0m48 -65h0m0 -10h0m-69 79h0m-101 104h0m12 4h0m-5 7h0m110 -122h0m43 -83h0m-85 139h0m-10 9h0m-20 -3h0m61 -44h0m-121 105h0m164 -159h0m37 -63h0m28 3h0m-202 223h0m124 -151h0m-20 52h0m169 -209h0m-152 135h0m-36 54h0m-18 34h0m16 -47h0m53 -32h0m-56 30h0m-94 139h0m-1 3h0m129 -118h0m-142 113h0m111 -125h0m-82 119h0m-10 -1h0m122 -135h0m8 -14h0m-50 56h0m-57 54h0m153 -146h0m126 -133h0m-201 212h0m134 -160h0m-199 209h0m106 -86h0m186 -200h0m-370 379h0m37 -32h0m98 -106h0m-49 38h0m90 -90h0m-84 105h0m94 -81h0m-63 1h0m-72 122h0m115 -112h0m-52 50h0m-45 39h0m144 -179h0m-79 100h0m34 -62h0m35 -16h0m-107 119h0m-58 58h0m164 -183h0m3 11h0m-178 184h0m77 -54h0m115 -152h0m48 -53h0m-236 242h0m178 -143h0m-59 24h0m-112 153h0m150 -215h0m22 -21h0m76 -66h0m-28 50h0m-79 95h0m102 -140h0m-158 180h0m96 -85h0m-27 25h0m127 -152h0m-109 122h0m-141 154h0m44 -68h0m0 -14h0m240 -220h0m-249 258h0m19 -43h0m35 18h0m31 -83h0m-34 84h0m-72 31h0m44 -57h0m117 -109h0m104 -85h0m-166 164h0m-92 99h0m129 -172h0m-88 120h0m171 -185h0m-268 295h0m9 13h0m165 -180h0m-69 35h0m78 -56h0m-55 78h0m-136 147h0m101 -151h0m80 -64h0m-32 23h0m-76 64h0m34 -2h0m61 -94h0m-44 86h0m-9 -26h0m-12 8h0m224 -207h0m-159 152h0m-159 184h0m148 -170h0m18 -8h0m-128 116h0m15 17h0m45 -69h0m-12 22h0m120 -144h0m-177 212h0m-67 71h0m218 -281h0m18 7h0m-159 162h0m85 -98h0m4 36h0m-16 -25h0m-116 156h0m144 -129h0m-57 -2h0m-16 28h0m20 -23h0m-86 131h0m39 -60h0m-53 64h0m55 -58h0m142 -175h0m-202 244h0m80 -112h0" stroke="#ff0000"/>
<path d="M338 1805h0m59 -45h0m-155 145h0m1 10h0m96 -101h0m76 -92h0m-102 100h0m-100 126h0m224 -258h0m-129 125h0m6 35h0m150 -180h0m-110 113h0m-40 53h0m-64 68h0m117 -138h0m-24 50h0m65 -113h0m-99 112h0m124 -106h0m73 -78h0m-159 177h0m240 -252h0m-270 271h0m111 -142h0m-132 165h0m146 -143h0m-60 93h0m72 -119h0m-118 101h0m-49 69h0m-28 60h0m192 -233h0m22 -7h0m95 -105h0m-211 246h0m110 -142h0m-63 64h0m-131 143h0m139 -157h0m-50 55h0m-78 94h0m-3 12h0m108 -143h0m-63 54h0m81 -87h0m-71 84h0m3 -14h0m41 -3h0m72 -79h0m-121 104h0m-32 61h0m160 -195h0m-31 50h0m-116 110h0m47 -31h0m19 -29h0m-98 95h0m-25 63h0m202 -254h0m-216 253h0m62 -98h0m20 3h0m211 -231h0m-270 288h0m50 -40h0m-34 36h0m119 -114h0m11 -37h0m6 10h0m-140 139h0m23 -34h0m-19 4h0m144 -149h0m-59 100h0m32 -53h0m47 -57h0m-108 106h0m-38 56h0m174 -194h0m-215 241h0m78 -125h0m48 16h0m-107 105h0m72 -86h0m-83 94h0m174 -184h0m-51 40h0m63 -87h0m-139 172h0m146 -180h0m-91 129h0m35 -66h0m72 -88h0m-198 238h0m66 -87h0m-26 107h0m25 -99h0m93 -77h0m45 -54h0m-130 111h0m120 -96h0m-115 111h0m-97 108h0m-21 20h0m260 -284h0m-119 109h0m-33 29h0m51 9h0m17 -48h0m-54 55h0m-95 123h0m47 -94h0m61 -47h0m-6 21h0m16 -50h0m-111 152h0m172 -229h0m-57 93h0m36 -29h0m-210 229h0m130 -187h0m107 -139h0m-94 178h0m186 -209h0m-128 143h0m-64 50h0m84 -71h0m-90 59h0m120 -91h0m-87 86h0m87 -107h0m-125 132h0m67 -63h0m73 -84h0m-10 23h0m-205 236h0m79 -128h0m165 -169h0m-114 168h0m10 -45h0m-48 76h0m63 -107h0m49 -47h0m-104 122h0m-91 116h0m122 -163h0m-62 31h0m-54 134h0m200 -255h0m-126 147h0m103 -126h0m-163 210h0m150 -181h0m-58 89h0m-112 77h0m106 -60h0m85 -119h0m-158 141h0m-37 60h0m164 -174h0m6 -28h0m-115 155h0m122 -130h0m-117 93h0m-57 77h0m-32 31h0m225 -247h0m2 0h0m-118 149h0m-10 -34h0m-44 55h0m242 -242h0m-245 290h0m109 -149h0m163 -151h0m-130 154h0m2 -10h0m-171 186h0m8 -41h0m258 -252h0m-138 120h0m-68 82h0m-64 96h0m11 -19h0m188 -203h0m-20 -2h0m-106 109h0m43 -47h0m18 -35h0m38 16h0m-138 120h0m18 -21h0m-37 48h0m42 -39h0m47 -76h0m110 -98h0m-147 128h0m124 -100h0m-164 174h0m46 -74h0m-33 64h0m150 -174h0m-34 17h0m-80 100h0m248 -249h0m-172 175h0m-21 28h0m-78 84h0m214 -224h0m-93 107h0m-90 76h0m-123 158h0m244 -286h0m-185 222h0" stroke="#006400"/>
<path d="M291 1876h0m15 -53h0m14 15h0m-81 69h0m142 -170h0m96 -100h0m-16 40h0m-17 29h0m23 -48h0m-122 144h0m-17 33h0m8 -57h0m-33 78h0m108 -115h0m-109 81h0m143 -133h0m32 -37h0m-136 167h0m54 -79h0m-49 71h0m27 -21h0m79 -105h0m-13 0h0m-87 84h0m-38 68h0m36 -60h0m69 -31h0m-46 9h0m-79 100h0m203 -226h0m-127 164h0m-92 79h0m156 -182h0m-133 178h0m141 -143h0m-49 15h0m-29 46h0m-47 15h0m106 -68h0m-70 69h0m5 -36h0m-24 29h0m-46 42h0m61 -20h0m180 -202h0m-195 179h0m45 -27h0m-87 96h0m-2 -2h0m-14 29h0m-14 11h0m75 -98h0m-91 119h0m32 -65h0m143 -148h0m-172 201h0m147 -161h0m6 0h0m-33 37h0m102 -134h0m32 -17h0m-180 210h0m108 -153h0m-18 40h0m-111 135h0m74 -99h0m-55 47h0m145 -125h0m-102 109h0m22 -64h0m93 -72h0m-158 134h0m71 -84h0m65 -19h0m-206 208h0m-36 24h0m109 -135h0m14 0h0m97 -74h0m-93 103h0m-30 43h0m151 -186h0m-108 131h0m123 -156h0m-163 146h0m33 2h0m-59 56h0m-13 19h0m115 -145h0m-58 31h0m53 -22h0m-8 39h0m39 -27h0m31 -50h0m-131 102h0m55 -55h0m-131 163h0m162 -198h0m-3 28h0m2 5h0m-73 40h0m-52 84h0m-19 31h0m219 -240h0m-159 139h0m45 -24h0m-90 85h0m10 2h0m174 -195h0m-44 84h0m-139 176h0m126 -143h0m128 -176h0m-101 121h0m-8 -35h0m-114 151h0m158 -166h0m-58 79h0m-131 121h0m-12 25h0m114 -111h0m-66 54h0m-34 15h0m21 2h0m49 -56h0m59 -22h0m-51 5h0m131 -140h0m-286 306h0m272 -300h0m-89 90h0m73 -66h0m-200 240h0m58 -86h0m64 -76h0m-35 37h0m-9 -23h0m-22 84h0m62 -103h0m2 -32h0m36 16h0m-53 61h0m3 -4h0m27 -46h0m-20 48h0m-94 69h0m-15 40h0m306 -337h0m-134 141h0m-151 194h0m13 -10h0m135 -262h0m-65 191h0m-33 -9h0m-51 50h0m-43 44h0m117 -136h0m74 -71h0m-169 181h0m128 -97h0m80 -136h0m-38 88h0m-91 46h0m-69 102h0m179 -181h0m-154 141h0m-1 16h0m-27 34h0m132 -147h0m-110 96h0m32 -41h0m-13 3h0m58 11h0m-36 13h0m53 -73h0m-5 22h0m-64 38h0m47 -51h0m148 -173h0m-136 159h0m-78 114h0m-24 26h0m89 -95h0m143 -182h0m-15 13h0m-103 147h0m-81 52h0m56 -35h0m92 -100h0m-69 52h0m-27 70h0m52 -88h0m17 -37h0m-98 132h0m81 -122h0m-103 146h0m102 -85h0m-17 -26h0m-7 11h0m-67 67h0m-61 81h0m129 -126h0m-86 85h0m56 -92h0m-7 42h0m169 -184h0m-84 84h0m-163 191h0m13 -18h0m-33 24h0m71 -94h0m136 -125h0m-64 50h0m33 -21h0m-94 103h0m-9 -8h0m118 -131h0m22 -11h0m-42 58h0m-66 59h0m-43 64h0m19 -47h0m35 -49h0m-48 74h0m48 -66h0m86 -61h0m-24 33h0m-84 84h0m-59 72h0m-29 35h0m183 -223h0m-58 68h0m54 -73h0m-90 100h0m106 -83h0m-32 6h0m-86 108h0m84 -71h0m-153 130h0m57 -68h0m-46 83h0m130 -170h0m18 -3h0m-80 64h0m-9 17h0m69 -53h0m19 -42h0m-100 103h0" stroke="#ff0000"/>
<path d="M408 1731h0m111 -111h0m-217 221h0m138 -117h0m-186 189h0m224 -265h0m-135 170h0m93 -122h0m-38 73h0m-30 17h0m12 -6h0m9 -15h0m68 -117h0m-89 103h0m43 -28h0m4 19h0m-60 64h0m-100 102h0m138 -156h0m152 -164h0m-181 199h0m-68 72h0m-27 15h0m203 -200h0m-37 20h0m-129 152h0m50 -57h0m-62 55h0m173 -178h0m-57 80h0m-56 25h0m114 -101h0m-199 238h0m-13 9h0m218 -273h0m-15 23h0m69 -67h0m-135 174h0m-29 55h0m69 -128h0m-5 24h0m-114 83h0m162 -160h0m-226 266h0m160 -211h0m-155 191h0m50 -53h0m-16 38h0m107 -129h0m-15 28h0m-64 48h0m147 -150h0m-140 150h0m-12 -13h0m34 -13h0m-35 19h0m65 -58h0m10 22h0m-54 1h0m-22 63h0m121 -147h0m-32 33h0m-126 141h0m84 -66h0m26 -45h0m198 -204h0m-195 230h0m-14 -49h0m-87 120h0m50 -70h0m-45 74h0m272 -291h0m-60 40h0m-79 105h0m-75 41h0m123 -107h0m-169 201h0m163 -177h0m1 -8h0m-209 242h0m104 -106h0m-104 98h0m279 -302h0m-154 153h0m-98 125h0m103 -134h0m-109 108h0m227 -225h0m-56 72h0m-103 103h0m26 -2h0m30 -47h0m50 -84h0m-107 147h0m40 -58h0m-85 67h0m4 5h0m63 -64h0m-76 102h0m77 -69h0m-77 56h0m108 -119h0m46 -20h0m-10 0h0m21 -45h0m-208 257h0m179 -226h0m42 -36h0m-3 11h0m-38 16h0m4 13h0m-85 64h0m33 -19h0m-33 48h0m-25 0h0m151 -155h0m-136 139h0m110 -114h0m13 14h0m-74 93h0m18 -39h0m67 -70h0m-238 266h0m137 -182h0m4 33h0m44 -76h0m-13 60h0m-18 -28h0m40 -7h0m18 -43h0m5 2h0m-160 157h0m-40 65h0m152 -192h0m6 -9h0m-96 91h0m129 -96h0m-34 -1h0m-34 64h0m-43 16h0m2 50h0m87 -91h0m-68 30h0m-55 97h0m-47 22h0m73 -89h0m-53 102h0m129 -160h0m45 -63h0m-105 138h0m-83 95h0m210 -241h0m-214 218h0m77 -108h0m8 1h0m123 -91h0m-93 57h0m-57 77h0m-9 -1h0m51 -57h0m33 -37h0m43 -28h0m-75 93h0m123 -162h0m-179 209h0m125 -119h0m-45 49h0m-32 37h0m-25 3h0m62 -40h0m-14 56h0m-83 44h0m92 -125h0m24 12h0m-113 117h0m5 -28h0m73 -68h0m31 -46h0m-31 51h0m6 -41h0m-92 116h0m78 -99h0m-107 136h0m75 -79h0m84 -79h0m-69 80h0m-7 -21h0m-5 -7h0m75 -45h0m64 -96h0m109 -95h0m-267 302h0m80 -79h0m-27 3h0m93 -104h0m-74 66h0m-3 7h0m-88 135h0m177 -217h0m-66 76h0m-33 36h0m-100 93h0m-21 19h0m151 -184h0m-131 167h0m24 -26h0" stroke="#006400"/>
<path d="M310 1836h0m163 -172h0m-141 140h0m174 -166h0m-101 93h0m35 -32h0m-56 64h0m-72 55h0m187 -187h0m-161 173h0m-23 30h0m11 -44h0m-59 94h0m131 -158h0m-96 143h0m147 -190h0m-54 57h0m55 -82h0m-172 238h0m9 -38h0m20 5h0m174 -221h0m64 -45h0m-153 156h0m41 -41h0m-105 65h0m-77 128h0m201 -199h0m-74 40h0m-129 162h0m292 -308h0m-259 280h0m50 -63h0m38 -15h0m-110 110h0m68 -68h0m77 -80h0m-105 71h0m118 -114h0m109 -102h0m-96 94h0m-21 36h0m-116 117h0m77 -73h0m40 -73h0m-51 43h0m4 13h0m101 -98h0m-33 31h0m-93 75h0m87 -38h0m-135 108h0m-6 41h0m64 -63h0m84 -136h0m-162 191h0m114 -106h0m-72 26h0m195 -178h0m-176 193h0m-87 91h0m282 -309h0m-155 166h0m180 -189h0m-269 285h0m23 -25h0m216 -216h0m-203 217h0m80 -118h0m-39 74h0m109 -130h0m-64 97h0m29 -54h0m-23 4h0m-74 83h0m15 -28h0m69 -77h0m-58 67h0m90 -62h0m-76 49h0m-33 57h0m-94 106h0m178 -189h0m2 10h0m-176 175h0m131 -126h0m-125 128h0m157 -180h0m15 -21h0m-184 197h0m110 -138h0m65 -77h0m-71 113h0m77 -54h0m-67 13h0m100 -76h0m17 -17h0m-102 128h0m62 -94h0m-3 19h0m-89 87h0m68 -70h0m-119 92h0m294 -279h0m-307 344h0m156 -198h0m-34 4h0m-67 109h0m-41 58h0m7 -40h0m113 -85h0m-40 69h0m-33 9h0m84 -107h0m6 17h0m-170 189h0m134 -190h0m-65 108h0m151 -203h0m-100 112h0m-120 171h0m86 -143h0m-101 129h0m230 -259h0m-194 202h0m55 -32h0m13 9h0m-85 44h0m182 -156h0m-73 64h0m39 -64h0m-36 34h0m-92 149h0m33 -80h0m-55 73h0m176 -202h0m-104 99h0m-23 34h0m6 -17h0m82 -48h0m-67 38h0m90 -59h0m-91 83h0m140 -156h0m-101 106h0m24 -29h0m-10 -8h0m21 27h0m51 -74h0m-115 111h0m142 -140h0m-79 77h0m-103 127h0m142 -162h0m-1 -11h0m1 4h0m-25 53h0m56 -68h0m-86 68h0m29 -19h0m-145 160h0m89 -95h0m-13 18h0m43 -45h0m-17 28h0m-64 56h0m88 -62h0m169 -206h0m-249 266h0m98 -120h0m-151 158h0m69 -84h0m-68 109h0m6 -22h0m118 -114h0m-123 96h0m114 -104h0m0 10h0m15 -4h0m-22 13h0m-42 50h0m129 -212h0m-100 144h0m149 -140h0m-182 219h0m-15 -33h0m95 -99h0m-11 68h0m-121 86h0m63 -78h0m21 17h0m-17 -33h0m-93 150h0m146 -163h0m26 -49h0m28 -16h0m-171 154h0m82 -66h0m9 23h0m21 -72h0m-140 189h0m231 -262h0m-66 42h0m-52 88h0m82 -110h0m47 -31h0m-76 71h0m119 -118h0m-252 269h0m-43 59h0m91 -106h0m-79 109h0m143 -206h0m-66 59h0m50 -12h0m42 -45h0m-20 8h0m-11 -6h0m26 -39h0m-83 135h0m-17 32h0m172 -205h0m-317 329h0m33 -29h0m53 -48h0m83 -119h0m48 -45h0m180 -173h0m-249 231h0m-23 94h0m-86 70h0m24 -40h0m172 -218h0m-39 72h0m26 -44h0m98 -135h0m-216 283h0m-14 34h0m51 -115h0m118 -101h0m78 -84h0m-112 103h0m170 -154h0m-316 334h0m22 1h0m257 -304h0m-173 182h0m-6 42h0m118 -144h0m-46 65h0m39 -52h0m-185 159h0m112 -130h0m105 -84h0m-217 224h0m10 2h0" stroke="#ff0000"/>
<path d="M546 1592h0m-20 15h0m37 -31h0m-53 41h0m-13 33h0m70 -73h0m-43 42h0m-10 1h0m-2 10h0m-4 -6h0m44 -36h0m-45 24h0m43 -35h0m-21 38h0m-5 -12h0m53 -43h0m-17 19h0m-29 29h0m-14 14h0m37 -41h0m-59 16h0m38 2h0m-13 8h0m-19 27h0m48 -50h0m-40 29h0m66 -55h0m-46 41h0m18 -6h0m19 -31h0m2 8h0m-48 38h0m-36 20h0m33 -16h0m11 -10h0m-18 12h0m38 -48h0m7 12h0m31 -22h0m-72 71h0m-15 9h0m-3 11h0m83 -90h0m-20 17h0m-50 42h0m-4 -29h0m86 -37h0m-19 14h0m-28 23h0m-46 61h0m39 -47h0m-56 33h0m116 -89h0m-100 79h0m11 -9h0m-9 5h0m71 -54h0m14 -14h0m-83 89h0m67 -64h0m-5 -5h0m-58 36h0m1 25h0m30 -36h0m-23 31h0m42 -50h0m6 -7h0m-23 32h0m-3 0h0m11 -35h0m18 -4h0m-22 37h0m-4 -16h0m47 -31h0m-64 68h0m75 -76h0m-59 55h0m42 -36h0m-60 47h0m-15 -13h0m50 -19h0m-12 11h0m-23 23h0m25 -28h0m-64 53h0m86 -65h0m-15 22h0m-57 41h0m35 -40h0m27 -11h0m7 -10h0m-73 70h0m8 -19h0m88 -69h0m-101 88h0m33 -24h0m11 -12h0m-8 -3h0m52 -45h0m-13 8h0m-55 49h0m78 -66h0m-99 89h0m16 -8h0m52 -54h0m-70 58h0m14 -18h0m2 9h0m24 -12h0m-10 -9h0m2 4h0m-8 7h0m9 1h0m18 -17h0m-43 33h0m18 -13h0m49 -42h0m-48 28h0m-16 22h0m45 -28h0m7 -10h0m21 -27h0m23 -18h0m-88 69h0m30 -21h0m-46 60h0m92 -96h0m-22 30h0m-47 34h0m65 -64h0m23 -15h0m-80 78h0m-11 11h0m17 -17h0m0 -4h0m-28 20h0m59 -46h0m-21 9h0m-8 14h0m3 2h0m-34 32h0m51 -55h0m-58 47h0m38 -35h0m-4 4h0m-21 21h0m72 -54h0m-28 24h0m21 -25h0m-47 57h0m7 -21h0m53 -51h0m-85 70h0m8 8h0m-9 -16h0m67 -46h0m-43 39h0m47 -30h0m-35 20h0m0 11h0m17 -21h0m-18 11h0m-21 18h0m87 -72h0m-51 40h0m-39 30h0m23 -17h0m62 -43h0m-49 35h0m-40 44h0m29 -36h0m24 -12h0m-50 36h0m-9 9h0m70 -55h0m-23 18h0m17 -21h0m3 1h0m35 -30h0m-87 83h0m43 -47h0m-27 33h0m-9 1h0m7 1h0m22 -26h0m-16 -15h0m-24 52h0m30 -34h0m17 -13h0m-41 27h0m54 -34h0m-73 47h0m3 30h0m71 -76h0m-12 9h0m-8 10h0m-30 24h0m43 -45h0m-24 22h0m-19 31h0m13 -8h0m67 -71h0m-26 19h0m-78 72h0m-9 7h0m83 -80h0m-52 49h0m23 -13h0m-23 17h0m-31 37h0m20 -11h0m18 -23h0m59 -65h0m-27 25h0m6 0h0m1 -2h0m-69 59h0m11 -10h0m-13 4h0m77 -63h0m-61 40h0m87 -59h0m-48 40h0m-13 19h0m64 -59h0m-29 25h0m-60 56h0m78 -74h0m-68 54h0m-19 14h0m71 -55h0m-82 70h0m6 -14h0m92 -65h0m-27 21h0m-67 60h0m70 -66h0m28 -22h0m-102 91h0m25 -15h0m20 -32h0m-22 26h0m-22 15h0m101 -91h0m-67 65h0m-13 25h0m85 -86h0m-67 46h0m-9 27h0m-22 -17h0m15 27h0m40 -43h0m-6 1h0m7 -1h0m10 -12h0m11 -10h0m-18 7h0m-70 84h0m73 -78h0m31 -32h0m-59 56h0m-40 32h0m-2 -11h0m40 -29h0m-5 -1h0m-26 11h0m2 32h0m56 -68h0m0 14h0m-21 10h0m-10 11h0m51 -51h0m-66 76h0m-2 1h0m8 -14h0m-14 -5h0m49 -25h0m-28 27h0m-30 17h0m8 -7h0" stroke="#006400"/>
</g>
<path d="M110.35 2032.60H603.41M110.35 2032.60V1539.20M110.35 2032.60v19.0M110.35 2032.60h-19.0M233.62 2032.60v19.0M110.35 1909.25h-19.0M356.88 2032.60v19.0M110.35 1785.90h-19.0M480.14 2032.60v19.0M110.35 1662.55h-19.0M603.41 2032.60v19.0M110.35 1539.20h-19.0" stroke="#000" stroke-width="3.2" stroke-linecap="round" fill="none"/>
<text x="110.35" y="2101.10" text-anchor="middle">−1.0</text>
<text x="233.62" y="2101.10" text-anchor="middle">−0.5</text>
<text x="356.88" y="2101.10" text-anchor="middle">0.0</text>
<text x="480.14" y="2101.10" text-anchor="middle">0.5</text>
<text x="603.41" y="2101.10" text-anchor="middle">1.0</text>
<text transform="translate(64.85 2032.60) rotate(-90)" text-anchor="middle">−1.0</text>
<text transform="translate(64.85 1909.25) rotate(-90)" text-anchor="middle">−0.5</text>
<text transform="translate(64.85 1785.90) rotate(-90)" text-anchor="middle">0.0</text>
<text transform="translate(64.85 1662.55) rotate(-90)" text-anchor="middle">0.5</text>
<text transform="translate(64.85 1539.20) rotate(-90)" text-anchor="middle">1.0</text>
<text x="356.88" y="2138.60" text-anchor="middle">Original Cofitness</text>
<text transform="translate(26.35 1785.90) rotate(-90)" text-anchor="middle">Replicate−Averaged Cofitness</text>
<text x="356.88" y="1505.90" text-anchor="middle" font-weight="bold" font-size="40.0" letter-spacing="0">Caulobacter crescentus NA1000</text>
<text x="119.15" y="1561.80" fill="#006400">Same subrole</text>
<text x="119.15" y="1591.00" fill="#ff0000">Different</text>
<path d="M1078.68 2032.60V1539.20M832.15 1785.90H1325.21M832.15 2032.60L1325.21 1539.20" stroke="#bebebe" stroke-width="2.3" fill="none"/>
<g stroke-width="6.2" stroke-linecap="round" fill="none">
<path d="M1121 1731h0m5 2h0m-94 124h0m77 -136h0m-28 73h0m14 -12h0m28 -73h0m-113 161h0m57 -60h0m20 -11h0m33 -82h0m169 -153h0m-189 154h0m27 26h0m14 -64h0m-77 100h0m32 -28h0m128 -117h0m-301 311h0m212 -232h0m-51 82h0m66 -107h0m-9 1h0m-86 105h0m76 -108h0m-100 180h0m14 -19h0m77 -116h0m-17 34h0m14 -18h0m21 -51h0m1 -28h0m-27 78h0m-91 116h0m125 -171h0m-119 149h0m119 -164h0m-54 98h0m38 -88h0m-29 69h0m-124 132h0m91 -99h0m59 -76h0m-54 46h0m22 7h0m25 -58h0m-24 38h0m-91 123h0m19 -33h0m8 21h0m100 -142h0m-105 131h0m-15 4h0m19 21h0m56 -127h0m58 -61h0m-64 101h0m30 -51h0m10 -30h0m-40 65h0m34 -76h0m-40 81h0m-34 37h0m69 -104h0m-72 133h0m87 -147h0m-22 26h0m43 -69h0m-149 213h0m97 -34h0m-2 -82h0m37 -44h0m-35 25h0m12 40h0m-15 13h0m-3 4h0m-99 90h0m2 19h0m64 -80h0m78 -93h0m-7 -5h0m-56 76h0m-62 92h0m134 -206h0m-109 185h0m12 -10h0m-44 21h0m118 -137h0m-46 29h0m51 -51h0m-119 164h0m96 -133h0m160 -157h0m-47 51h0m-92 59h0m-30 38h0m59 -58h0m71 -47h0m-153 167h0m67 -111h0m-17 64h0m-1 -51h0m-37 85h0m29 -12h0m23 -85h0m-108 149h0m42 -34h0m-47 73h0m71 -125h0m-23 3h0m18 16h0m160 -168h0m-153 198h0m38 -110h0m16 14h0m-70 64h0m-65 83h0m63 -64h0m-57 84h0m43 -89h0m28 -27h0m50 -41h0m-3 -43h0m-52 80h0m7 -13h0m-60 127h0m92 -114h0m-45 42h0m15 -8h0m-40 53h0m2 -9h0m4 -29h0m55 -85h0m149 -129h0m-145 154h0m26 -32h0m-116 136h0m61 -74h0m61 -106h0m-21 50h0m10 8h0m-54 44h0m28 -63h0m160 -128h0m-208 201h0m44 -81h0m38 1h0m-84 95h0m44 -82h0m-12 42h0m53 -72h0m-21 25h0m-84 136h0m85 -105h0m-16 26h0m-48 24h0m35 3h0m-75 56h0m109 -131h0m-123 171h0m90 -118h0m10 -40h0m-72 121h0m6 -39h0m67 -67h0m-29 2h0m43 -2h0m-118 125h0m-25 25h0m44 -41h0m76 -126h0m-67 119h0m-45 54h0m146 -213h0m-51 40h0m34 -12h0" stroke="#006400"/>
<path d="M1077 1753h0m-16 48h0m24 -44h0m-50 96h0m89 -119h0m23 -55h0m-60 74h0m-94 139h0m57 -75h0m25 -8h0m-18 -6h0m29 -45h0m-68 109h0m135 -186h0m-28 21h0m-73 108h0m45 -63h0m-38 50h0m-28 35h0m251 -256h0m-145 114h0m-76 105h0m-29 70h0m36 -27h0m83 -130h0m-167 197h0m144 -177h0m-17 15h0m9 -32h0m-111 148h0m104 -89h0m-76 57h0m137 -154h0m83 -84h0m-123 128h0m-21 2h0m-32 34h0m-58 97h0m117 -118h0m-36 -8h0m26 -13h0m-38 69h0m-28 36h0m-66 77h0m132 -205h0m-47 78h0m111 -110h0m53 -50h0m-107 98h0m-131 168h0m172 -197h0m-53 53h0m-31 35h0m-34 20h0m74 -81h0m-46 49h0m-9 10h0m-63 102h0m-48 37h0m150 -146h0m-22 -33h0m-11 33h0m-25 5h0m37 8h0m-55 46h0m13 -18h0m-6 18h0m-1 -2h0m62 -66h0m-50 77h0m58 -121h0m-68 136h0m-42 35h0m60 -67h0m15 -5h0m178 -213h0m-69 63h0m-205 250h0m57 -90h0m10 -5h0m98 -111h0m-122 165h0m39 -60h0m-11 -2h0m-12 17h0m-17 51h0m104 -154h0m-67 61h0m7 10h0m-29 28h0m24 -76h0m5 33h0m-79 115h0m66 -114h0m39 18h0m46 -96h0m-64 111h0m-101 97h0m57 -53h0m-61 39h0m34 -28h0m32 -46h0m0 1h0m-53 84h0m49 -77h0m-8 15h0m117 -150h0m-121 162h0m65 -117h0m-53 125h0m72 -97h0m-94 103h0m87 -113h0m0 -29h0m-114 171h0m38 -58h0m20 -36h0m117 -110h0m-169 178h0m103 -128h0m103 -88h0m-206 223h0m129 -167h0m-81 152h0m-51 27h0m34 3h0m55 -84h0m50 -80h0m-46 55h0m-1 6h0m44 -89h0m-130 175h0m17 -12h0m105 -129h0m12 -13h0m-93 109h0m83 -90h0m-25 -2h0m48 -29h0m-60 31h0m-24 53h0m34 -58h0m-49 79h0m-43 67h0m27 -49h0m77 -88h0m-49 59h0m249 -243h0m-290 306h0m282 -304h0m-281 305h0m125 -147h0m-131 144h0m118 -147h0m-65 56h0m64 -64h0m-70 132h0m84 -162h0m-96 149h0m-21 14h0m130 -146h0m-43 56h0m-96 126h0m293 -321h0m-230 229h0m92 -102h0m-47 44h0m155 -146h0m-125 124h0m-29 3h0m-122 164h0m56 -68h0m24 -39h0m44 -48h0m19 -40h0m-75 106h0m-19 21h0m47 -72h0m-27 77h0m-42 57h0m4 -41h0" stroke="#ff0000"/>
<path d="M1094 1771h0m-103 124h0m159 -207h0m-90 129h0m192 -218h0m-214 249h0m7 2h0m90 -162h0m-84 124h0m32 -29h0m79 -113h0m29 -12h0m-80 38h0m-46 110h0m54 -103h0m-29 48h0m9 -17h0m-12 19h0m-42 79h0m57 -131h0m-77 148h0m102 -143h0m-12 -8h0m-66 152h0m115 -175h0m-58 59h0m-47 78h0m16 -66h0m30 -38h0m-117 184h0m135 -145h0m-46 17h0m-85 121h0m107 -136h0m-67 118h0m-9 -23h0m56 -75h0m20 -13h0m-71 89h0m237 -253h0m-231 248h0m97 -145h0m-122 163h0m82 -82h0m4 31h0m-86 76h0m90 -177h0m-82 150h0m125 -173h0m65 -32h0m-189 201h0m25 -19h0m-27 19h0m100 -123h0m-17 3h0m90 -70h0m-204 219h0m162 -208h0m-73 116h0m-90 96h0m102 -122h0m-58 89h0m40 -70h0m-83 101h0m117 -159h0m27 -8h0m-83 141h0m-68 32h0m129 -95h0m-43 40h0m8 -72h0m-33 63h0m42 2h0m-20 -55h0m84 -85h0m-95 102h0m-32 79h0m27 -17h0m93 -164h0m-67 94h0m-54 94h0m128 -174h0m-114 166h0m78 -122h0m-66 98h0m21 -76h0m-46 91h0m-17 19h0m118 -188h0m186 -135h0m-284 297h0m19 -1h0m6 1h0m78 -154h0m-11 12h0m-34 84h0m23 -66h0m16 -6h0m8 21h0m-115 136h0m127 -153h0m-62 37h0m-57 97h0m250 -275h0m-232 269h0m87 -116h0m8 -33h0m-143 184h0m20 -32h0m28 -16h0m87 -89h0m-50 28h0m-17 46h0m47 -111h0m24 1h0m-128 156h0m296 -306h0m-239 219h0m-14 38h0m70 -81h0m28 -42h0m-152 213h0m184 -249h0m-81 94h0m31 -28h0m-48 79h0m-49 55h0m108 -147h0m-110 153h0m50 -101h0m-14 33h0m1 -26h0m28 -31h0m-14 31h0m22 -34h0m-24 78h0m31 -84h0m-87 142h0m88 -157h0m-55 101h0m76 -122h0m-34 49h0m-10 8h0m-17 25h0m-35 89h0m106 -137h0m-83 93h0m41 -102h0m-96 159h0m136 -187h0m-23 0h0m-61 145h0m71 -119h0m129 -113h0m-199 210h0m95 -106h0m-52 65h0m50 -94h0m-27 37h0m7 13h0m-60 82h0m45 -102h0m-42 86h0m-8 10h0m30 -50h0" stroke="#006400"/>
<path d="M1082 1787h0m-11 16h0m-7 0h0m100 -151h0m-140 227h0m-23 -13h0m56 -85h0m-38 114h0m36 -71h0m21 -45h0m-13 6h0m20 -32h0m11 70h0m-6 -88h0m-33 53h0m-51 104h0m91 -125h0m-75 79h0m13 -5h0m209 -228h0m-123 80h0m-18 143h0m44 -146h0m-48 41h0m9 3h0m28 -12h0m-42 63h0m40 -67h0m-103 137h0m89 -99h0m-45 69h0m39 -106h0m-52 56h0m1 28h0m23 4h0m72 -126h0m-65 79h0m-36 79h0m9 -68h0m-51 137h0m36 -58h0m-36 7h0m106 -155h0m-69 104h0m-4 46h0m25 -47h0m119 -152h0m-114 139h0m-16 31h0m248 -273h0m-240 243h0m52 -52h0m38 -59h0m-159 203h0m79 -140h0m-42 94h0m-45 50h0m14 -24h0m92 -103h0m29 -56h0m14 -2h0m-53 36h0m5 29h0m23 -63h0m-82 142h0m55 -23h0m25 -94h0m-4 -23h0m-49 77h0m-54 85h0m110 -116h0m-63 43h0m37 -45h0m-96 115h0m48 -43h0m52 -78h0m-81 131h0m118 -156h0m8 -18h0m-110 127h0m281 -275h0m-178 161h0m-162 187h0m314 -335h0m-150 150h0m-59 91h0m-24 4h0m56 -88h0m184 -164h0m-149 123h0m-101 175h0m-3 -27h0m16 12h0m13 -40h0m24 -40h0m-74 108h0m5 5h0m139 -202h0m-204 258h0m54 -56h0m8 2h0m37 -65h0m75 -95h0m-78 88h0m60 -101h0m-32 44h0m-67 124h0m68 -95h0m43 -33h0m18 -71h0m-147 203h0m5 11h0m134 -208h0m-102 166h0m-16 19h0m116 -171h0m-100 162h0m-5 -8h0m107 -164h0m-41 115h0m-76 51h0m8 -5h0m144 -164h0m-68 21h0m-44 176h0m6 -100h0m-73 113h0m166 -228h0m-91 129h0m5 19h0m-6 -18h0m12 -28h0m-46 77h0m78 -134h0m-115 183h0m20 7h0m70 -88h0m80 -111h0m-53 67h0m-6 7h0m-63 39h0m23 -15h0m-29 38h0m92 -151h0m68 -38h0m-97 110h0m16 -51h0m-60 119h0m-5 -1h0m44 -97h0m-30 77h0m-1 -17h0m-25 47h0m-23 30h0m34 -49h0m208 -225h0m-273 298h0m147 -166h0m-48 59h0m7 -37h0m141 -128h0m-122 147h0m-48 55h0m-30 14h0m47 -77h0m-95 126h0m69 -46h0m-5 -23h0m-13 44h0m103 -151h0m-41 59h0m-66 98h0m31 -45h0m38 -44h0m-73 122h0m100 -175h0m-35 47h0m-24 5h0m-37 81h0m46 -69h0m30 -53h0m5 -4h0m-125 173h0m114 -167h0m-25 34h0m-74 122h0m223 -265h0m-138 143h0m23 -33h0m-72 69h0m4 17h0m19 9h0m-15 9h0m5 -5h0m181 -206h0m-110 83h0m-6 9h0m-52 109h0m20 -54h0m-14 11h0m-24 36h0" stroke="#ff0000"/>
<path d="M1072 1815h0m-60 70h0m36 -46h0m25 -85h0m-69 134h0m56 -55h0m51 -65h0m-68 88h0m41 -62h0m17 -58h0m-124 154h0m69 -26h0m73 -115h0m-145 141h0m133 -126h0m5 -12h0m8 -18h0m-15 21h0m-4 -47h0m-17 61h0m-65 76h0m36 -28h0m259 -271h0m-207 188h0m-12 28h0m19 3h0m-4 -36h0m-35 61h0m165 -181h0m-44 48h0m-50 14h0m-79 110h0m-61 80h0m74 -68h0m-105 106h0m148 -154h0m-30 9h0m-46 105h0m43 -125h0m105 -75h0m-90 113h0m15 -20h0m-52 39h0m99 -126h0m-22 12h0m-9 2h0m-139 190h0m111 -148h0m13 -18h0m4 14h0m-101 124h0m105 -135h0m-26 46h0m-12 -13h0m-88 125h0m140 -170h0m-32 51h0m-114 123h0m83 -79h0m-6 -11h0m71 -79h0m-141 165h0m63 -51h0m31 -78h0m-69 105h0m51 -47h0m37 -54h0m-5 -36h0m-11 24h0m21 -2h0m-53 67h0m5 -33h0m43 -45h0m-80 152h0m115 -201h0m-1 6h0m-45 88h0m18 -11h0m-35 -5h0m-151 188h0m110 -135h0m65 -76h0m-8 19h0m-64 88h0m17 -39h0m37 -20h0m0 13h0m-5 -44h0m18 4h0m14 -19h0m140 -127h0m-178 166h0m63 -85h0m-118 167h0m30 -48h0m68 -49h0m-52 41h0m5 -35h0m-45 91h0m69 -133h0m15 34h0m-27 34h0m5 -56h0m42 -49h0m-100 178h0m0 -1h0m73 -94h0m-103 130h0m57 -63h0m89 -119h0m-33 37h0m-32 5h0m-17 24h0m76 -85h0m-105 151h0m-45 58h0m79 -95h0m24 -20h0m1 -63h0m37 -16h0m-38 -2h0m-37 101h0m-16 42h0m100 -144h0m-38 82h0m5 -81h0m-16 24h0m-25 58h0m-66 105h0m92 -143h0m9 9h0m40 -43h0m-66 31h0m-11 56h0m35 -29h0m7 -7h0m-7 0h0m-69 63h0m45 -73h0m-48 90h0m12 -28h0m0 -7h0m81 -73h0m-6 3h0m-2 -15h0m-86 138h0m95 -178h0m-78 169h0m-54 40h0m165 -203h0m-71 114h0m1 -17h0m34 -73h0m-90 124h0m111 -130h0m4 6h0m-40 42h0m0 -33h0m4 -3h0m-62 112h0m72 -111h0m-136 169h0m134 -145h0m-25 25h0m-17 11h0m28 -56h0m27 0h0m-67 62h0m-21 56h0m74 -83h0m-143 130h0m138 -142h0m-20 17h0m126 -125h0m-183 193h0m95 -135h0m-60 101h0m-75 87h0m109 -122h0m14 -33h0m-14 44h0" stroke="#006400"/>
<path d="M1074 1789h0m-42 41h0m76 -107h0m-5 40h0m-56 80h0m7 -49h0m-28 57h0m97 -119h0m-7 20h0m-69 92h0m13 -16h0m-43 33h0m123 -157h0m-7 6h0m-81 93h0m-5 7h0m33 -31h0m-5 30h0m-18 4h0m-44 62h0m53 -96h0m52 -67h0m-67 124h0m45 -47h0m-74 47h0m90 -85h0m-62 85h0m-54 55h0m119 -123h0m-25 -12h0m2 13h0m-27 35h0m33 -52h0m4 35h0m41 -102h0m-113 176h0m-29 14h0m126 -136h0m12 -55h0m-94 156h0m-1 -21h0m-19 50h0m6 -27h0m265 -276h0m-205 221h0m-45 92h0m3 -45h0m78 -142h0m11 25h0m-149 170h0m21 -18h0m72 -97h0m1 -27h0m-51 112h0m60 -129h0m-79 123h0m94 -142h0m13 22h0m53 -60h0m-81 72h0m32 -32h0m-21 53h0m-17 -12h0m-37 81h0m2 -3h0m-21 30h0m33 -58h0m72 -119h0m-121 161h0m100 -111h0m29 -34h0m-97 125h0m26 -4h0m51 -128h0m-33 81h0m26 9h0m58 -105h0m-53 51h0m-101 120h0m96 -119h0m-18 66h0m-35 -18h0m-17 35h0m31 -2h0m9 -19h0m-49 24h0m-3 32h0m286 -303h0m-329 329h0m54 -29h0m58 -85h0m18 -42h0m-60 73h0m19 3h0m-57 42h0m68 -98h0m25 12h0m-88 100h0m50 -47h0m24 -74h0m0 12h0m48 -49h0m-73 111h0m13 -33h0m3 30h0m-46 9h0m11 32h0m-16 9h0m62 -132h0m155 -124h0m-143 167h0m-26 26h0m-32 -8h0m232 -203h0m-250 269h0m47 -65h0m11 -51h0m44 -53h0m-17 85h0m-120 117h0m54 -63h0m-24 51h0m49 -126h0m-43 93h0m29 -12h0m-32 29h0m243 -276h0m-133 120h0m-77 77h0m176 -170h0m-174 182h0m-31 55h0m105 -105h0m16 -69h0m-139 209h0m110 -191h0m-45 87h0m10 -47h0m15 -7h0m-137 197h0m89 -124h0m23 -24h0m61 -91h0m-17 58h0m-122 133h0m166 -192h0m-91 86h0m21 3h0m-68 92h0m14 -5h0m-30 10h0m92 -142h0m-85 140h0m103 -139h0m-10 1h0m-66 60h0m-20 77h0m24 -68h0m18 15h0m-10 58h0m95 -191h0m-109 141h0m18 -47h0m-67 101h0m119 -155h0m-126 172h0m7 -16h0m103 -120h0m79 -75h0m-160 203h0m116 -156h0m-39 -2h0m-26 40h0m4 46h0m54 -117h0m5 7h0m-130 163h0m34 -15h0m-15 19h0m-13 16h0m15 -21h0m-21 10h0m32 -24h0m0 -8h0m50 -70h0m-8 45h0m-40 24h0m-32 39h0" stroke="#ff0000"/>
<path d="M1315 1550h0m-203 198h0m34 -53h0m5 9h0m-43 78h0m-43 15h0m63 -96h0m-22 71h0m-66 75h0m97 -159h0m69 -36h0m-124 150h0m-12 -49h0m-71 128h0m30 -11h0m85 -153h0m-113 139h0m8 47h0m119 -214h0m37 -10h0m-144 199h0m89 -123h0m-1 -40h0m-5 27h0m-34 76h0m50 -59h0m1 -8h0m3 -3h0m2 -24h0m-91 146h0m32 -74h0m55 -96h0m-24 13h0m-60 118h0m254 -269h0m-80 64h0m-79 73h0m-12 -7h0m-94 186h0m100 -170h0m-88 119h0m27 -52h0m68 -89h0m-32 88h0m-71 65h0m55 -40h0m28 -45h0m-39 36h0m0 -5h0m-28 23h0m68 -69h0m-5 -13h0m-106 158h0m133 -171h0m-7 8h0m-84 125h0m128 -164h0m-79 103h0m-32 5h0m94 -94h0m-54 71h0m-42 71h0m-21 24h0m45 -67h0m12 -23h0m-68 70h0m-10 37h0m115 -172h0m-13 4h0m-60 71h0m55 -50h0m-17 53h0m37 -72h0m-41 8h0m41 -35h0m-71 92h0m59 -2h0m-37 -38h0m11 51h0m-111 87h0m50 -16h0m73 -125h0m20 -15h0m-22 16h0m41 -64h0m-84 120h0m-15 64h0m-28 7h0m102 -157h0m-98 149h0m106 -138h0m-53 64h0m5 -24h0m-5 19h0m-38 79h0m108 -179h0m-20 55h0m-34 26h0m-88 144h0m51 -105h0m-38 96h0m129 -213h0m-89 147h0m79 -143h0m-78 117h0m80 -91h0m-130 175h0m129 -185h0m-5 22h0m-79 118h0m11 -66h0m47 3h0m-129 103h0m135 -146h0m-21 4h0m-22 47h0m182 -190h0m-131 90h0m24 -7h0m-107 129h0m-19 38h0m35 2h0m-33 -4h0m-22 37h0m7 1h0m24 -30h0m43 -92h0m-53 95h0m101 -118h0m10 -34h0m163 -145h0m-165 144h0m-33 19h0m45 -23h0m-95 132h0m24 -52h0m2 27h0m-38 16h0m46 -41h0m116 -137h0m-149 169h0m61 -102h0m-25 65h0m201 -206h0m-183 195h0m-57 58h0m30 -54h0m-94 120h0m83 -65h0m61 -125h0m-130 167h0m134 -153h0m-141 168h0m99 -128h0m-77 105h0m93 -69h0m-60 38h0m-33 44h0m120 -165h0m-41 78h0m-77 107h0m112 -173h0m-67 104h0m-20 -28h0m-3 34h0m86 -134h0m-135 217h0m196 -242h0m-70 41h0m-16 79h0m41 -97h0m-152 184h0m98 -94h0m20 -21h0m-71 69h0m43 -53h0m21 -52h0m-62 109h0m31 -52h0m52 -10h0m-30 -34h0m15 25h0m-10 -17h0" stroke="#006400"/>
<path d="M989 1882h0m62 -57h0m7 -32h0m56 -3h0m7 -27h0m9 -57h0m16 5h0m-10 18h0m-4 -47h0m-12 47h0m-30 7h0m128 -106h0m-77 52h0m-64 136h0m13 -49h0m29 -29h0m16 -51h0m-39 77h0m-111 127h0m147 -151h0m-126 144h0m56 -94h0m62 -66h0m-43 32h0m117 -107h0m-122 115h0m-40 74h0m117 -128h0m-151 156h0m74 -84h0m13 -23h0m-9 32h0m59 -76h0m-85 112h0m-31 10h0m28 14h0m-56 19h0m60 -55h0m32 -99h0m-69 157h0m277 -304h0m-217 186h0m170 -150h0m-131 93h0m-45 88h0m-23 41h0m72 -112h0m-106 156h0m47 -77h0m-23 47h0m-9 15h0m21 -30h0m-1 -10h0m54 -52h0m-88 108h0m74 -83h0m-21 22h0m-8 20h0m-22 27h0m104 -149h0m-41 21h0m-3 53h0m17 -58h0m-82 98h0m106 -107h0m-93 109h0m100 -141h0m-157 198h0m88 -117h0m-61 79h0m137 -172h0m-72 93h0m51 -52h0m-115 172h0m58 -101h0m-25 13h0m-55 81h0m7 14h0m121 -153h0m-39 2h0m-65 119h0m93 -93h0m-32 -2h0m-29 41h0m61 -52h0m-44 33h0m123 -118h0m-116 141h0m9 -67h0m11 -1h0m-26 26h0m-80 124h0m319 -340h0m-201 165h0m-28 62h0m-57 88h0m47 -88h0m31 10h0m1 -12h0m-44 39h0m84 -115h0m-68 93h0m208 -226h0m-224 246h0m-10 39h0m94 -159h0m-1 4h0m-60 87h0m-51 58h0m61 -61h0m19 -45h0m-80 86h0m77 -74h0m25 -36h0m-64 111h0m-56 44h0m89 -129h0m-27 24h0m-7 43h0m68 -106h0m105 -81h0m-170 151h0m-54 78h0m34 -48h0m93 -119h0m-112 161h0m88 -131h0m-38 45h0m-91 123h0m143 -156h0m-91 80h0m55 -53h0m-38 19h0m-51 107h0m136 -162h0m-89 83h0m-54 87h0m8 -9h0m32 -63h0m105 -89h0m137 -158h0m-173 144h0m-101 178h0m106 -140h0m-17 -15h0m-31 81h0m29 -91h0m-37 33h0m18 32h0m-11 16h0m28 -52h0m-51 91h0m98 -158h0m-37 78h0m-22 -8h0m58 -50h0m-57 49h0m10 -27h0m-13 79h0m4 -51h0m46 -34h0m115 -109h0m-224 235h0m106 -149h0m-92 159h0m-63 65h0m93 -118h0m1 -10h0m226 -226h0m-218 242h0m64 -135h0m-56 107h0m-24 52h0m69 -117h0m-87 130h0m53 -108h0m47 -19h0m-191 228h0m53 -71h0m90 -145h0m-53 87h0m63 -60h0m-30 56h0m-8 -31h0m16 -8h0m38 -84h0m-9 49h0m-89 114h0m63 -103h0m14 -23h0m-70 132h0m58 -110h0m55 -59h0m-47 57h0m-44 83h0m21 -56h0m65 -87h0m-125 185h0m127 -172h0m-128 178h0" stroke="#ff0000"/>
<path d="M1261 1588h0m-25 28h0m-19 18h0m11 -18h0m-2 10h0m91 -79h0m-31 14h0m-44 54h0m34 -34h0m2 -3h0m-24 18h0m-96 74h0m48 -24h0m-38 34h0m12 -25h0m54 -52h0m72 -48h0m-143 114h0m17 -9h0m4 1h0m-31 18h0m100 -93h0m51 -34h0m-49 29h0m-91 104h0m128 -120h0m9 -3h0m-138 107h0m22 -12h0m105 -95h0m-115 118h0m97 -98h0m-19 17h0m-33 35h0m34 -39h0m-91 78h0m30 -12h0m113 -103h0m-15 2h0m-41 51h0m49 -47h0m-133 103h0m78 -63h0m-25 12h0m-52 65h0m12 -19h0m13 -6h0m52 -48h0m-8 11h0m-49 49h0m55 -60h0m-27 28h0m-24 -7h0m124 -81h0m-116 93h0m91 -77h0m-50 47h0m-85 78h0m57 -51h0m-38 29h0m11 4h0m10 -24h0m46 -43h0m-69 64h0m100 -85h0m-22 12h0m27 -20h0m-121 94h0m137 -110h0m-84 80h0m24 -16h0m-80 79h0m99 -101h0m-93 92h0m53 -49h0m35 -32h0m-41 28h0m109 -91h0m-123 100h0m6 2h0m-34 24h0m100 -88h0m-57 59h0m2 -6h0m64 -55h0m0 -9h0m-14 17h0m1 -5h0m38 -25h0m18 -13h0m-71 49h0m-74 82h0m67 -63h0m12 -9h0m-61 49h0m81 -72h0m-73 73h0m113 -102h0m-5 0h0m-126 91h0m7 15h0m5 0h0m-16 3h0m-6 11h0m42 -42h0m18 -9h0m86 -76h0m-61 57h0m48 -51h0m-11 7h0m-128 128h0m57 -64h0m89 -72h0m-140 132h0m52 -63h0m20 -12h0m-4 8h0m-45 28h0m79 -61h0m-51 41h0m16 -7h0m23 -28h0m-105 80h0m133 -110h0m-88 88h0m42 -43h0m37 -30h0m-13 14h0m48 -41h0m-68 55h0m-78 83h0m53 -79h0m70 -49h0m-56 49h0m-33 41h0m-7 4h0m-38 39h0m96 -108h0m-93 82h0m21 -10h0m0 -18h0m-17 44h0m134 -127h0m-136 130h0m142 -127h0m-7 -2h0m9 -3h0m-111 99h0m50 -37h0m-53 45h0m-26 25h0m139 -131h0m-31 29h0m-26 16h0m40 -35h0m-121 119h0m13 -12h0m132 -119h0m-65 53h0m-24 21h0m38 -35h0m-29 21h0m26 -22h0m-20 16h0m-52 56h0m79 -81h0m-101 85h0m158 -124h0m-124 72h0m90 -51h0m-131 123h0m55 -76h0m93 -55h0m-138 110h0m6 8h0m135 -125h0m-129 114h0m27 -18h0m29 -20h0m-3 -6h0m25 -20h0m-77 75h0m-9 -48h0m123 -65h0m-123 118h0m6 -11h0m84 -78h0m-52 57h0m65 -61h0m-116 97h0m95 -78h0m-33 30h0m-60 37h0m-2 -3h0m0 31h0m26 -76h0m-28 86h0m149 -153h0m-15 3h0m-47 54h0m-64 48h0m1 14h0m-9 -18h0m51 -33h0m20 -11h0m1 -26h0m-70 71h0m63 -32h0m56 -69h0m-114 90h0m17 -3h0m-23 33h0m84 -103h0m-85 103h0m67 -61h0m23 -25h0m-99 83h0m19 -5h0m-19 8h0m108 -95h0m-86 46h0m43 -7h0m-36 20h0m38 -25h0m-59 50h0m-16 24h0m156 -137h0m-126 109h0m-8 13h0" stroke="#006400"/>
</g>
<path d="M832.15 2032.60H1325.21M832.15 2032.60V1539.20M832.15 2032.60v19.0M832.15 2032.60h-19.0M955.41 2032.60v19.0M832.15 1909.25h-19.0M1078.68 2032.60v19.0M832.15 1785.90h-19.0M1201.94 2032.60v19.0M832.15 1662.55h-19.0M1325.21 2032.60v19.0M832.15 1539.20h-19.0" stroke="#000" stroke-width="3.2" stroke-linecap="round" fill="none"/>
<text x="832.15" y="2101.10" text-anchor="middle">−1.0</text>
<text x="955.41" y="2101.10" text-anchor="middle">−0.5</text>
<text x="1078.68" y="2101.10" text-anchor="middle">0.0</text>
<text x="1201.94" y="2101.10" text-anchor="middle">0.5</text>
<text x="1325.21" y="2101.10" text-anchor="middle">1.0</text>
<text transform="translate(786.65 2032.60) rotate(-90)" text-anchor="middle">−1.0</text>
<text transform="translate(786.65 1909.25) rotate(-90)" text-anchor="middle">−0.5</text>
<text transform="translate(786.65 1785.90) rotate(-90)" text-anchor="middle">0.0</text>
<text transform="translate(786.65 1662.55) rotate(-90)" text-anchor="middle">0.5</text>
<text transform="translate(786.65 1539.20) rotate(-90)" text-anchor="middle">1.0</text>
<text x="1078.68" y="2138.60" text-anchor="middle">Original Cofitness</text>
<text transform="translate(748.15 1785.90) rotate(-90)" text-anchor="middle">Replicate−Averaged Cofitness</text>
<text x="1078.68" y="1505.90" text-anchor="middle" font-weight="bold" font-size="40.0" letter-spacing="0">Echinicola vietnamensis KMM 6221</text>
<text x="840.95" y="1561.80" fill="#006400">Same subrole</text>
<text x="840.95" y="1591.00" fill="#ff0000">Different</text>
<path d="M1800.48 2032.60V1539.20M1553.95 1785.90H2047.01M1553.95 2032.60L2047.01 1539.20" stroke="#bebebe" stroke-width="2.3" fill="none"/>
<g stroke-width="6.2" stroke-linecap="round" fill="none">
<path d="M1838 1770h0m40 -81h0m13 10h0m-40 25h0m-73 103h0m-26 14h0m122 -161h0m-2 55h0m-98 88h0m-10 -6h0m27 -33h0m63 -73h0m48 -24h0m-152 167h0m95 -109h0m-35 64h0m6 -54h0m48 -30h0m-177 174h0m182 -216h0m-120 168h0m81 -82h0m-119 122h0m313 -328h0m-278 266h0m55 -57h0m76 -73h0m31 -20h0m-45 37h0m10 12h0m-207 172h0m181 -178h0m80 -67h0m-61 83h0m-102 74h0m-17 7h0m-69 91h0m52 -59h0m-46 35h0m233 -231h0m-35 29h0m-46 81h0m55 -51h0m-36 4h0m-204 212h0m259 -258h0m58 -58h0m-231 247h0m157 -167h0m-243 242h0m223 -237h0m16 5h0m-100 67h0m113 -97h0m-214 210h0m88 -82h0m7 5h0m25 -11h0m-182 167h0m219 -222h0m-28 -4h0m-43 102h0m37 -42h0m57 -76h0m4 13h0m14 -26h0m-47 5h0m9 40h0m21 -20h0m-3 -3h0m6 -10h0m62 -58h0m-139 134h0m33 -24h0m-98 90h0m53 -81h0m87 -75h0m-130 146h0m167 -166h0m-53 24h0m-195 215h0m-14 13h0m139 -164h0m-83 108h0m30 -36h0m134 -134h0m12 -23h0m-13 56h0m2 21h0m-41 -17h0m-171 174h0m248 -230h0m-180 150h0m152 -147h0m-52 79h0m-62 53h0m225 -230h0m-95 76h0m-192 214h0m-5 -13h0m105 -113h0m85 -75h0m-80 71h0m43 -37h0m-114 134h0m82 -77h0m-63 50h0m-64 52h0m-21 35h0m64 -69h0m84 -63h0m-26 10h0m53 -47h0m-6 -12h0m59 -45h0m-48 25h0m-47 61h0m-86 98h0m187 -197h0m-30 33h0m-143 157h0m-41 25h0m124 -147h0m-81 122h0m89 -96h0m-125 102h0m-12 6h0m111 -76h0m27 -48h0m17 7h0m-141 127h0m-3 13h0m152 -178h0m-43 63h0m69 -91h0m97 -85h0m-217 231h0m51 -29h0m-25 -17h0m-16 29h0m108 -89h0m-53 15h0m-74 104h0m-2 2h0m8 -77h0m-44 88h0m2 8h0m112 -105h0m75 -69h0m-103 118h0m66 -90h0m-18 5h0m-87 114h0m158 -158h0m-43 45h0m12 -36h0m-67 69h0m-55 67h0m138 -148h0m-176 163h0m116 -94h0m-65 66h0m102 -89h0m-64 41h0m40 -25h0m-9 14h0m-99 96h0m152 -175h0m-135 155h0m-90 81h0m219 -232h0m-161 160h0m98 -73h0m44 -76h0m-1 2h0m-38 72h0m60 -76h0m-54 42h0m-24 51h0m29 -32h0m4 -17h0m67 -61h0m-78 65h0m-5 -14h0m140 -113h0m-137 189h0m55 -85h0m-140 121h0m55 -47h0m71 -105h0m-209 227h0m231 -208h0m-46 29h0m-18 23h0m-14 17h0m92 -90h0m-75 79h0m-82 87h0m185 -211h0m-68 74h0m-131 143h0m5 -28h0m135 -140h0m32 -4h0m-119 113h0m-170 166h0m59 -57h0m139 -160h0m-31 42h0m-102 92h0m120 -97h0m82 -103h0m25 3h0m-231 225h0m88 -75h0m50 -52h0m-5 1h0m60 -75h0m-79 111h0m-90 56h0m171 -158h0m-94 92h0m-116 104h0m234 -235h0m-171 191h0m126 -118h0m-34 -4h0m39 -1h0m17 -58h0m77 -49h0m-219 215h0m-97 99h0m39 -50h0m182 -184h0m-83 91h0m51 -23h0m49 -65h0m-46 11h0m50 -42h0" stroke="#006400"/>
<path d="M1853 1706h0m-155 179h0m69 -91h0m50 -24h0m-56 40h0m36 -44h0m-69 73h0m91 -40h0m-156 119h0m82 -72h0m-45 54h0m11 0h0m156 -169h0m-72 63h0m61 -64h0m-5 -5h0m-37 43h0m-79 58h0m-38 64h0m156 -150h0m-168 160h0m7 0h0m-25 27h0m-13 2h0m160 -123h0m-40 18h0m-104 84h0m128 -116h0m23 -13h0m-40 -1h0m-70 102h0m120 -148h0m7 15h0m-157 167h0m30 -44h0m133 -155h0m-71 89h0m83 -56h0m-74 54h0m71 -78h0m-60 35h0m56 -49h0m-44 88h0m71 -90h0m-211 183h0m21 17h0m137 -115h0m-15 -3h0m-140 123h0m74 -107h0m-66 81h0m123 -75h0m-50 31h0m157 -187h0m-146 165h0m85 -97h0m28 8h0m5 -24h0m-18 77h0m-75 6h0m90 -79h0m-181 179h0m71 -95h0m-1 15h0m-60 85h0m-45 27h0m85 -55h0m43 -77h0m-5 33h0m-88 69h0m4 4h0m94 -81h0m-41 -4h0m-15 34h0m33 -16h0m101 -101h0m-5 -30h0m-65 89h0m41 -56h0m-36 62h0m22 -49h0m39 -4h0m32 -56h0m-125 132h0m-48 38h0m104 -73h0m-63 11h0m102 -54h0m-84 28h0m-86 128h0m-13 -3h0m54 -34h0m85 -107h0m-76 91h0m140 -142h0m-159 145h0m39 -8h0m24 -48h0m-44 44h0m127 -151h0m-43 106h0m-51 2h0m-76 116h0m148 -164h0m-65 48h0m38 -45h0m-24 4h0m73 -35h0m-29 65h0m-41 -12h0m-14 9h0m-19 45h0m51 -34h0m28 -77h0m6 28h0m-177 151h0m41 -16h0m187 -199h0m-114 125h0m-88 101h0m96 -115h0m25 -34h0m3 27h0m-8 -13h0m-157 166h0m162 -198h0m-139 169h0m-16 2h0m171 -160h0m-81 54h0m79 -76h0m-50 47h0m-108 119h0m156 -196h0m-157 188h0m7 16h0m200 -214h0m37 -19h0m-204 198h0m-5 -15h0m144 -95h0m-113 63h0m42 -42h0m-54 67h0m71 -52h0m-109 110h0m-41 38h0m38 -61h0m128 -146h0m-145 177h0m22 -21h0m-26 42h0m160 -157h0m-36 32h0m-3 -36h0m60 -28h0m46 -52h0m-158 147h0m159 -125h0m-107 96h0m138 -166h0m-178 194h0m-22 4h0m92 -66h0m-151 130h0m166 -149h0m38 -48h0m-44 38h0m-130 157h0m120 -129h0m-34 15h0m60 -61h0m-60 63h0m72 -44h0m-79 50h0m16 -37h0m-99 143h0m148 -154h0m-115 123h0m20 -59h0m-30 67h0m55 -77h0m-30 26h0m155 -133h0m-115 83h0m-107 117h0m-7 8h0m187 -185h0m-128 145h0m127 -144h0m-148 171h0m63 -48h0m59 -73h0m-72 53h0m59 -56h0m-112 111h0m72 -105h0m115 -69h0" stroke="#ff0000"/>
<path d="M1740 1839h0m143 -111h0m-131 88h0m97 -123h0m-23 82h0m45 -65h0m-6 29h0m-116 112h0m-67 34h0m110 -64h0m-3 -40h0m-96 103h0m202 -186h0m-63 68h0m0 18h0m-55 -7h0m-45 54h0m-18 52h0m25 -16h0m68 -108h0m51 -26h0m-10 -25h0m-69 129h0m-30 -23h0m139 -125h0m-70 68h0m-49 51h0m-36 45h0m45 -63h0m-26 44h0m-58 63h0m124 -149h0m23 -27h0m-7 34h0m71 -64h0m-140 116h0m-10 33h0m58 -67h0m47 -45h0m-90 100h0m-68 45h0m205 -191h0m-126 132h0m245 -252h0m-292 264h0m111 -76h0m-47 55h0m-67 31h0m90 -83h0m32 -30h0m58 -36h0m-30 41h0m-209 183h0m178 -170h0m-105 111h0m51 -68h0m11 29h0m51 -84h0m-85 91h0m-18 20h0m135 -123h0m-78 64h0m-22 38h0m-62 24h0m37 -6h0m65 -75h0m25 -21h0m97 -109h0m56 -51h0m-150 168h0m27 -52h0m-27 55h0m-137 107h0m59 -64h0m11 -12h0m-33 55h0m122 -136h0m-16 20h0m-18 -3h0m54 -37h0m-48 27h0m-44 36h0m15 5h0m21 4h0m-115 96h0m39 -45h0m-98 111h0m366 -363h0m-261 279h0m-43 31h0m-45 26h0m-27 33h0m22 -45h0m188 -168h0m-88 107h0m58 -43h0m-45 -8h0m66 -17h0m-157 137h0m104 -138h0m75 -12h0m-78 33h0m42 -16h0m-152 134h0m201 -204h0m-173 198h0m128 -176h0m-109 111h0m39 -41h0m121 -84h0m-39 11h0m44 -8h0m43 -55h0m-142 144h0m26 -50h0m-91 125h0m90 -126h0m-17 16h0m-90 118h0m81 -67h0m-83 53h0m89 -75h0m-19 -20h0m70 -26h0m-75 64h0m121 -134h0m-78 73h0m-178 191h0m118 -134h0m-13 36h0m-28 34h0m38 -43h0m-59 64h0m146 -181h0m-134 179h0m108 -149h0m-10 84h0m-19 -13h0m34 -77h0m-103 121h0m15 -19h0m70 -91h0m21 2h0m-106 131h0m145 -159h0m-32 39h0m-59 27h0m168 -133h0m-46 25h0m-14 39h0m-86 95h0m-55 39h0m-52 41h0m103 -107h0m-128 117h0m115 -117h0m65 -38h0m10 -41h0m-116 162h0m-95 68h0m93 -89h0m128 -127h0m28 -24h0m87 -91h0m-250 246h0m129 -112h0m-32 49h0m-171 140h0m196 -216h0m-38 57h0m-29 32h0m80 -65h0m-203 202h0m174 -212h0m-70 72h0m-80 112h0m168 -182h0m-102 95h0m-17 34h0m190 -201h0m-88 107h0m-148 141h0m40 -74h0m12 0h0m158 -143h0m-171 191h0m61 -90h0m37 -32h0m-125 127h0m123 -122h0m63 -58h0m-68 88h0m-58 21h0m136 -100h0m-160 111h0m161 -129h0m-74 66h0m43 -56h0m90 -79h0m-76 78h0m-59 87h0m-47 15h0m47 -25h0m-76 74h0m75 -62h0m-83 66h0m56 -63h0m2 16h0m28 -48h0m-37 35h0m-1 -3h0m-118 122h0m0 6h0m174 -169h0m-177 151h0m200 -199h0m-117 152h0m-36 33h0m122 -136h0m-145 142h0m29 -53h0m126 -132h0m-99 148h0m-75 56h0m243 -244h0m-135 130h0m-64 65h0m45 -59h0m97 -52h0m-105 61h0m6 -16h0m99 -58h0m-105 90h0m78 -56h0m-145 117h0m40 -37h0m64 -52h0m-108 96h0m-9 -5h0m158 -132h0m-156 170h0m17 -25h0m118 -152h0m-8 56h0m0 -14h0m36 -42h0m-163 162h0m68 -74h0m119 -109h0m-61 45h0m-101 103h0" stroke="#006400"/>
<path d="M2003 1590h0m-333 333h0m54 -48h0m162 -191h0m-112 141h0m-103 92h0m195 -197h0m-109 102h0m36 -63h0m151 -128h0m-168 167h0m-46 58h0m-54 40h0m16 -20h0m20 12h0m77 -100h0m-32 44h0m95 -106h0m84 -57h0m-258 245h0m157 -162h0m-145 164h0m74 -81h0m58 -51h0m20 -26h0m-26 31h0m-55 42h0m-77 79h0m13 12h0m133 -202h0m-156 195h0m-39 30h0m165 -132h0m19 -70h0m-144 167h0m209 -205h0m-102 99h0m-104 92h0m89 -54h0m48 -109h0m45 -5h0m5 10h0m-142 120h0m-42 55h0m94 -130h0m-76 131h0m93 -115h0m-42 39h0m-34 43h0m-47 32h0m276 -278h0m-119 160h0m-82 27h0m0 8h0m11 16h0m104 -126h0m29 -13h0m-104 77h0m39 1h0m-26 27h0m61 -57h0m-72 61h0m72 -97h0m6 6h0m-119 109h0m-34 41h0m75 -43h0m-7 -27h0m47 -34h0m59 -49h0m-101 80h0m104 -121h0m-95 133h0m6 -45h0m4 10h0m16 41h0m53 -127h0m-70 69h0m-130 160h0m31 -50h0m99 -81h0m77 -75h0m-172 162h0m69 -77h0m-56 52h0m92 -71h0m-109 117h0m76 -128h0m51 -14h0m-61 53h0m59 -65h0m25 6h0m-85 31h0m46 16h0m-91 55h0m21 -36h0m-85 109h0m163 -193h0m64 -42h0m-89 67h0m44 -34h0m118 -92h0m-230 238h0m-56 38h0m169 -191h0m-51 98h0m-58 37h0m-30 26h0m125 -106h0m-47 4h0m-58 89h0m102 -129h0m-33 79h0m-33 10h0m-60 71h0m106 -110h0m26 -10h0m-63 28h0m84 -72h0m77 -91h0m-49 54h0m-167 197h0m-37 11h0m83 -113h0m64 -35h0m-16 9h0m64 -21h0m-73 45h0m2 13h0m-127 100h0m122 -77h0m25 -86h0m26 -15h0m-16 41h0m-18 8h0m-156 159h0m126 -166h0m-80 106h0m190 -214h0m-93 156h0m-122 96h0m83 -94h0m135 -148h0m-37 45h0m91 -72h0m-188 142h0m-46 100h0m58 -55h0m-10 8h0m86 -83h0m-71 81h0m-30 -4h0m83 -77h0m-14 33h0m6 -80h0m32 29h0m-38 28h0m-115 116h0m108 -62h0m40 -81h0m-31 49h0m-18 47h0m-98 68h0m4 -5h0m116 -106h0m-48 34h0m99 -120h0m27 -16h0m-129 104h0m68 2h0m-52 4h0m-44 28h0m-11 17h0m-47 31h0m91 -65h0m40 -24h0m-132 113h0m64 -59h0m109 -121h0m-125 156h0m85 -103h0m53 -36h0m-195 175h0m112 -139h0m-78 115h0m146 -160h0m-54 48h0m-5 34h0m50 -41h0m2 -28h0m-155 170h0m90 -106h0m-60 72h0m19 -42h0m80 -63h0m30 -8h0m47 -74h0m-203 207h0m65 -62h0m60 -62h0m-63 64h0m-43 57h0m-50 37h0m115 -111h0m64 -103h0m-41 111h0m-115 61h0m-20 32h0m61 -56h0m-2 1h0m-44 39h0m68 -95h0m36 21h0m70 -123h0m-81 123h0m-50 42h0m125 -120h0m-49 14h0m-67 86h0m33 -17h0m37 -84h0m-115 154h0m64 -67h0m106 -106h0m-37 29h0m-2 -42h0m31 2h0m-166 197h0m127 -130h0m38 -49h0m-43 18h0m-36 35h0m28 21h0m-97 79h0m77 -61h0m14 -17h0m-7 -24h0m-28 21h0m6 17h0m-90 82h0m243 -264h0m-227 261h0m-55 34h0m147 -138h0m35 -37h0m-94 107h0m135 -160h0m-146 162h0m21 -19h0m61 -31h0m-35 45h0" stroke="#ff0000"/>
<path d="M1870 1740h0m-75 68h0m91 -104h0m-109 89h0m110 -77h0m-45 11h0m-91 119h0m166 -172h0m-225 223h0m109 -158h0m-8 42h0m106 -107h0m-98 116h0m-22 19h0m-28 24h0m-2 3h0m143 -141h0m-133 123h0m234 -227h0m-182 165h0m1 -11h0m-5 43h0m-6 3h0m49 -56h0m-176 165h0m154 -105h0m-45 -12h0m-4 -1h0m25 4h0m-94 86h0m37 -40h0m141 -149h0m-166 177h0m320 -315h0m-301 281h0m35 3h0m-22 -15h0m2 13h0m26 -22h0m84 -80h0m10 -19h0m2 11h0m9 -22h0m-19 35h0m42 -44h0m-38 25h0m-170 163h0m70 -83h0m-64 99h0m41 -100h0m162 -127h0m-148 167h0m-86 74h0m177 -191h0m-124 151h0m123 -122h0m15 -49h0m-128 133h0m137 -116h0m-50 36h0m-68 97h0m-2 -16h0m8 16h0m-16 9h0m28 -28h0m-84 70h0m157 -166h0m-24 13h0m-105 145h0m66 -59h0m99 -130h0m-81 54h0m-101 140h0m83 -94h0m35 -39h0m-92 106h0m-125 130h0m41 -46h0m188 -213h0m-81 106h0m111 -139h0m-48 45h0m-5 32h0m-104 109h0m-29 12h0m288 -285h0m-161 178h0m-103 104h0m132 -153h0m57 -49h0m-69 39h0m40 2h0m-19 27h0m-54 1h0m54 -11h0m-12 15h0m-138 123h0m209 -215h0m-8 0h0m-92 119h0m53 -50h0m-33 -10h0m20 43h0m-182 143h0m263 -262h0m-182 207h0m142 -177h0m-78 88h0m0 22h0m46 -81h0m-58 78h0m15 5h0m60 -84h0m16 -26h0m23 -6h0m-99 115h0m-29 -33h0m-118 155h0m21 -23h0m276 -276h0m-146 142h0m-82 107h0m47 -35h0m124 -155h0m-146 119h0m147 -127h0m-51 71h0m11 -4h0m-88 57h0m56 -50h0m60 -56h0m-49 88h0m-180 152h0m192 -212h0m-4 14h0m-6 5h0m-122 133h0m-49 50h0m17 -35h0m103 -89h0m-118 118h0m219 -216h0m-84 102h0m72 -75h0m-89 55h0m-6 42h0m85 -107h0m16 -38h0m-36 76h0m-66 57h0m123 -143h0m-26 26h0m-82 97h0m106 -121h0m-19 29h0m-165 168h0m-52 42h0m101 -115h0m-79 87h0m182 -163h0m-14 -22h0m-84 124h0m112 -139h0m-139 135h0m82 -39h0m43 -67h0m-5 24h0m-89 100h0m-24 2h0m-52 47h0m104 -135h0m-53 60h0m58 -96h0m88 -19h0m-78 97h0m-27 8h0m-46 29h0m98 -110h0m-148 178h0m190 -214h0m-54 56h0m12 -8h0m14 -9h0m-108 122h0m88 -147h0m39 10h0m-188 170h0m174 -179h0m-174 189h0m130 -115h0m57 -54h0m-175 160h0m81 -84h0m29 -47h0m-63 83h0m114 -96h0m-23 31h0m-32 -3h0m66 -56h0m-92 94h0m30 -49h0m-11 54h0m53 -60h0m-152 135h0m133 -143h0m-148 140h0m65 -25h0m-33 35h0m130 -177h0m-24 72h0m-45 46h0m122 -158h0m-240 276h0m69 -97h0m51 -61h0m-41 55h0m111 -125h0m21 -9h0m-40 39h0m-115 142h0m150 -169h0m-28 39h0m-16 14h0m-55 61h0m27 -54h0m103 -98h0m-195 218h0m60 -74h0m110 -111h0m-101 82h0m14 -19h0" stroke="#006400"/>
<path d="M1667 1914h0m97 -102h0m-73 85h0m124 -154h0m9 -4h0m-50 93h0m-4 0h0m-47 31h0m66 -74h0m-14 -8h0m-63 79h0m-26 43h0m-8 4h0m16 -7h0m100 -115h0m-138 140h0m162 -167h0m-4 54h0m-4 -54h0m-82 108h0m7 -37h0m98 -42h0m-129 106h0m109 -152h0m-116 147h0m128 -122h0m-59 54h0m180 -201h0m-104 99h0m17 27h0m-38 29h0m-116 126h0m153 -147h0m-74 31h0m-18 35h0m61 -85h0m-98 132h0m6 -42h0m140 -129h0m-195 208h0m154 -164h0m-37 31h0m-26 67h0m-25 2h0m232 -232h0m-130 146h0m-50 24h0m45 -20h0m-155 135h0m-17 22h0m71 -68h0m80 -112h0m-135 159h0m125 -136h0m-129 146h0m70 -49h0m42 -55h0m-130 103h0m86 -65h0m-74 72h0m74 -56h0m13 -35h0m6 -12h0m47 -66h0m-16 50h0m-120 129h0m81 -117h0m-56 78h0m263 -260h0m-102 117h0m-152 148h0m41 -59h0m188 -185h0m-115 101h0m-105 115h0m80 -52h0m15 -46h0m-73 91h0m110 -85h0m-140 97h0m30 -43h0m100 -86h0m-179 195h0m92 -82h0m45 -33h0m-51 50h0m33 -29h0m46 -83h0m-145 132h0m171 -172h0m-48 94h0m-30 -4h0m-8 17h0m59 -84h0m-58 94h0m-85 78h0m133 -125h0m-145 144h0m88 -122h0m109 -92h0m-3 -22h0m-158 199h0m-12 -1h0m38 -58h0m-43 53h0m133 -142h0m2 11h0m20 1h0m26 -22h0m6 -34h0m-65 81h0m-52 27h0m54 -22h0m19 -27h0m-164 156h0m195 -190h0m-62 55h0m-51 44h0m95 -82h0m-177 178h0m25 -32h0m125 -91h0m97 -133h0m-140 172h0m67 -111h0m-87 75h0m-19 54h0m-7 0h0m75 -47h0m41 -68h0m-183 183h0m171 -189h0m-76 56h0m59 -27h0m15 -15h0m-10 8h0m-40 57h0m-41 27h0m67 -69h0m-82 91h0m-49 48h0m119 -124h0m11 -9h0m-63 67h0m-2 2h0m49 -69h0m-55 74h0m125 -114h0m-4 -2h0m-191 195h0m137 -126h0m-38 16h0m46 -42h0m-19 1h0m-69 105h0m27 -46h0m23 -10h0m33 -57h0m-59 80h0m109 -132h0m-44 68h0m-86 59h0m93 -99h0m50 -43h0m-167 181h0m23 -11h0m82 -64h0m-120 98h0m150 -142h0m-153 132h0m37 -23h0m204 -212h0m-160 160h0m-9 27h0m87 -134h0m-156 166h0m194 -163h0m-195 182h0m70 -88h0m45 -39h0m-44 43h0m-30 26h0m-42 87h0m179 -182h0m-61 27h0m6 -2h0m-90 109h0m37 -63h0m13 7h0m47 -53h0m-47 51h0m52 -65h0m-194 207h0m192 -196h0m20 -15h0m-159 159h0m36 -33h0m-32 30h0m211 -214h0m-100 105h0m84 -93h0m-113 134h0m-15 -22h0m97 -60h0m-28 33h0m122 -146h0m-142 132h0m-88 81h0m107 -76h0m30 -71h0m24 -20h0m-223 237h0m133 -105h0m52 -83h0m-48 76h0m55 -99h0m14 10h0m-93 109h0m-13 -17h0m-11 30h0m27 -30h0m49 -58h0m-129 142h0m-29 29h0m62 -74h0m-51 67h0m128 -161h0m-15 25h0m-55 107h0" stroke="#ff0000"/>
<path d="M1913 1663h0m-99 119h0m-121 96h0m232 -226h0m-17 41h0m-46 44h0m-50 38h0m-59 54h0m-1 -7h0m-25 40h0m20 -39h0m100 -81h0m-161 166h0m63 -76h0m-19 46h0m-33 5h0m177 -171h0m-95 71h0m-6 39h0m115 -136h0m54 -41h0m-127 145h0m-25 0h0m92 -74h0m-4 13h0m-17 10h0m-164 136h0m106 -83h0m103 -149h0m-207 261h0m191 -214h0m17 -12h0m-76 116h0m-61 11h0m-23 46h0m52 -85h0m-71 96h0m136 -141h0m-114 96h0m64 -39h0m-33 45h0m106 -122h0m-196 193h0m37 -26h0m171 -190h0m10 -10h0m-42 80h0m-52 1h0m-43 48h0m50 -26h0m-80 80h0m-26 11h0m-37 55h0m-11 -9h0m65 -35h0m61 -39h0m-103 45h0m10 10h0m84 -91h0m-1 -18h0m37 -56h0m2 71h0m5 -24h0m-93 69h0m-15 25h0m-39 41h0m83 -91h0m59 -40h0m34 -36h0m-68 50h0m30 -39h0m20 26h0m25 -52h0m42 -54h0m-6 2h0m-85 119h0m64 -79h0m-219 223h0m198 -208h0m-118 175h0m145 -203h0m-30 32h0m-103 84h0m-3 14h0m11 6h0m-37 24h0m104 -112h0m26 9h0m-134 129h0m108 -154h0m27 22h0m16 -54h0m28 -9h0m-116 114h0m57 -57h0m-25 21h0m23 -45h0m-111 153h0m79 -117h0m35 10h0m-40 11h0m-74 85h0m115 -106h0m13 -28h0m-144 150h0m181 -172h0m-153 150h0m-2 -6h0m-26 21h0m327 -322h0m-301 287h0m152 -152h0m-114 129h0m-105 93h0m122 -97h0m-98 86h0m58 -63h0m122 -124h0m-89 121h0m-94 45h0m199 -173h0m-37 59h0m-64 35h0m-27 28h0m57 -33h0m-16 -1h0m20 -7h0m-150 141h0m75 -77h0m-69 49h0m-3 23h0m157 -148h0m-119 83h0m83 -87h0m7 30h0m-87 57h0m14 3h0m63 -94h0m-125 154h0m144 -167h0m32 -6h0m-25 49h0m4 4h0m-91 64h0m29 -80h0m126 -81h0m-48 28h0m45 -44h0m61 -49h0m-86 99h0m-137 147h0m62 -99h0m3 41h0m204 -225h0m-154 133h0m-178 196h0m102 -130h0m135 -101h0m-116 114h0m74 -51h0m-98 63h0m17 -26h0m-86 82h0m-16 38h0m203 -209h0m-85 58h0m14 24h0m-96 105h0m158 -163h0m-81 59h0m114 -114h0m-103 77h0m116 -85h0m33 -40h0m-70 68h0m-192 193h0m40 -17h0m152 -178h0m-207 222h0m8 3h0m134 -148h0m39 -62h0m-135 158h0m63 -97h0m149 -109h0m-170 142h0m105 -88h0m-13 43h0m27 -26h0m25 -40h0m-209 195h0m93 -88h0m-63 66h0m141 -140h0m0 4h0m-20 18h0m-31 21h0m120 -127h0m-154 185h0m86 -107h0m-172 190h0m13 -13h0m143 -158h0m-73 77h0m5 -2h0m122 -120h0m-24 30h0m-35 50h0m-94 44h0m26 13h0m100 -105h0m-13 -30h0m-49 82h0m-56 50h0m57 -94h0m2 55h0m18 -7h0m68 -108h0m-65 89h0m-130 123h0m121 -103h0m-131 109h0m201 -199h0m-17 31h0m-23 -22h0m-39 71h0m68 -58h0m-75 62h0m12 -40h0m-11 74h0" stroke="#006400"/>
<path d="M1690 1890h0m-2 3h0m-11 11h0m122 -128h0m-70 78h0m65 -66h0m61 -68h0m3 21h0m24 -15h0m-37 10h0m-41 27h0m-49 84h0m-24 22h0m29 -20h0m79 -102h0m-153 159h0m144 -158h0m-16 17h0m-27 17h0m7 -3h0m20 14h0m57 -80h0m-155 141h0m137 -124h0m-91 73h0m-59 93h0m-12 -13h0m34 -19h0m47 -36h0m6 -1h0m31 -66h0m28 -29h0m-161 179h0m56 -69h0m54 -23h0m-37 39h0m48 -63h0m56 -59h0m-119 96h0m183 -179h0m-125 132h0m-22 5h0m8 4h0m-96 108h0m144 -144h0m-14 14h0m-18 42h0m-59 26h0m233 -227h0m-160 196h0m-35 5h0m59 -58h0m-22 28h0m-11 -22h0m41 -30h0m19 6h0m-157 129h0m-20 33h0m-3 18h0m134 -166h0m38 -1h0m-152 143h0m103 -113h0m28 6h0m-9 -36h0m-127 138h0m174 -160h0m86 -99h0m-193 210h0m113 -127h0m-67 41h0m-24 22h0m-56 107h0m46 -48h0m79 -85h0m-26 30h0m80 -88h0m-76 45h0m18 17h0m-129 99h0m57 -26h0m-84 62h0m173 -189h0m17 -11h0m-67 70h0m-131 153h0m60 -55h0m4 1h0m-14 -20h0m92 -85h0m-67 60h0m-44 70h0m96 -104h0m-95 107h0m52 -69h0m78 -50h0m-170 153h0m139 -164h0m1 -2h0m-77 67h0m76 -64h0m82 -67h0m-72 54h0m-83 105h0m-70 77h0m214 -212h0m-133 103h0m-56 74h0m143 -149h0m-32 52h0m9 -30h0m-3 40h0m19 -25h0m-96 81h0m189 -179h0m-146 112h0m24 18h0m-121 90h0m212 -220h0m-40 21h0m-56 63h0m-25 42h0m34 -60h0m-33 48h0m19 -2h0m72 -76h0m-144 165h0m46 -54h0m-14 6h0m50 -71h0m-2 55h0m-60 46h0m156 -173h0m-156 138h0m77 -36h0m-29 -33h0m-3 15h0m56 -29h0m11 -2h0m-94 76h0m-87 105h0m66 -93h0m145 -140h0m-22 39h0m-48 8h0m-35 63h0m46 -57h0m-118 137h0m114 -98h0m-63 13h0m-40 86h0m228 -240h0m-204 188h0m178 -165h0m-122 121h0m-29 27h0m113 -97h0m-170 147h0m45 -52h0m-54 62h0m79 -82h0m50 -23h0m-52 5h0m95 -46h0m-1 -33h0m-196 205h0m152 -112h0m-13 -37h0m-89 86h0m52 -87h0m32 23h0m55 -58h0m-32 70h0m-152 94h0m207 -197h0m-61 70h0m-32 37h0m59 -77h0m-176 205h0m100 -144h0m20 4h0m55 -67h0m-230 244h0m270 -259h0m-104 78h0m-90 114h0m28 -30h0m59 -31h0m39 -92h0m-151 172h0m81 -57h0m61 -103h0m41 -22h0m-78 63h0m118 -121h0m-206 233h0m51 -43h0m147 -152h0m-152 158h0m-21 9h0m57 -63h0m0 38h0m-39 -17h0m52 -58h0m2 60h0m15 -20h0m-77 23h0m57 -46h0m63 -51h0m26 -39h0m-64 115h0m63 -89h0m-112 127h0m51 -106h0m52 -47h0m-52 87h0m-66 34h0m75 -53h0m-22 -5h0" stroke="#ff0000"/>
<path d="M1949 1625h0m-17 31h0m42 -51h0m-48 50h0m9 -2h0m-20 20h0m66 -70h0m-50 39h0m35 -24h0m61 -55h0m-68 59h0m73 -67h0m-66 56h0m2 11h0m-36 33h0m8 -11h0m29 -36h0m26 -15h0m-66 63h0m85 -76h0m-67 59h0m31 -31h0m-50 40h0m57 -48h0m-41 35h0m0 -2h0m77 -61h0m-72 74h0m60 -65h0m-36 26h0m-20 13h0m70 -52h0m-58 58h0m45 -48h0m20 -21h0m8 -6h0m-126 130h0m114 -117h0m-104 93h0m72 -64h0m-29 33h0m57 -57h0m-88 75h0m92 -80h0m-86 80h0m38 -33h0m0 2h0m-46 32h0m2 -9h0m90 -67h0m5 -10h0m-85 72h0m-26 38h0m38 -45h0m0 9h0m85 -87h0m-32 39h0m26 -32h0m-69 64h0m1 5h0m-45 35h0m62 -58h0m40 -33h0m-36 32h0m-66 66h0m-7 8h0m9 -3h0m78 -79h0m-32 25h0m27 -18h0m-57 33h0m75 -57h0m-57 54h0m-17 -5h0m-28 46h0m29 -28h0m1 -4h0m4 -7h0m2 5h0m79 -74h0m-103 95h0m-12 17h0m40 -34h0m46 -48h0m-30 23h0m-37 51h0m7 -20h0m55 -53h0m-35 39h0m2 -1h0m-36 40h0m81 -84h0m19 -19h0m-91 80h0m50 -48h0m-47 47h0m12 -15h0m49 -36h0m-83 79h0m77 -72h0m-80 75h0m36 -36h0m26 -32h0m-35 36h0m53 -45h0m-54 54h0m36 -38h0m-10 0h0m67 -58h0m-77 66h0m22 -12h0m-54 69h0m3 -36h0m94 -70h0m-23 19h0m35 -39h0m-58 52h0m-31 45h0m32 -36h0m-3 2h0m-47 50h0m68 -73h0m-5 9h0m-7 3h0m30 -27h0m-55 46h0m-12 7h0m-10 27h0m83 -88h0m-62 53h0m-13 25h0m13 -14h0m51 -50h0m-86 86h0m19 -35h0m-4 5h0m30 -21h0m-49 54h0m-3 7h0m1 -3h0m90 -91h0m-21 12h0m46 -38h0m-96 88h0m66 -61h0m-11 17h0m-66 64h0m93 -92h0m-85 72h0m42 -28h0m-47 50h0m120 -129h0m-62 66h0m31 -30h0m-100 86h0m113 -99h0m-60 56h0m-40 16h0m9 3h0m-7 16h0m39 -38h0m-48 38h0m112 -99h0m-60 57h0m-53 62h0m54 -67h0m51 -40h0m-63 52h0m-9 20h0m61 -61h0m-96 78h0m3 14h0m-6 -5h0m55 -58h0m-53 38h0m34 -16h0m-26 38h0m78 -83h0m-19 21h0m11 -15h0m-64 76h0m10 -24h0m-6 3h0m-14 21h0m59 -66h0m-33 37h0m-24 16h0m26 -15h0m17 -8h0m-11 10h0m84 -91h0m-110 103h0m8 -8h0m15 -6h0m-21 12h0m29 -29h0m-44 36h0m64 -54h0m-22 26h0m-10 19h0m23 -41h0m-13 27h0m-42 33h0m114 -108h0m-73 79h0m-24 -2h0m17 10h0m-28 26h0m-5 6h0m120 -129h0m8 -7h0m-5 7h0m-36 40h0m-88 80h0m1 -11h0m1 9h0m58 -57h0m13 -12h0m-28 18h0m-22 19h0m82 -63h0m-39 30h0m-44 38h0m1 14h0m52 -54h0m20 -23h0m-12 8h0m-46 20h0m-37 72h0m60 -67h0m-28 21h0m-16 27h0m9 -11h0" stroke="#006400"/>
</g>
<path d="M1553.95 2032.60H2047.01M1553.95 2032.60V1539.20M1553.95 2032.60v19.0M1553.95 2032.60h-19.0M1677.22 2032.60v19.0M1553.95 1909.25h-19.0M1800.48 2032.60v19.0M1553.95 1785.90h-19.0M1923.75 2032.60v19.0M1553.95 1662.55h-19.0M2047.01 2032.60v19.0M1553.95 1539.20h-19.0" stroke="#000" stroke-width="3.2" stroke-linecap="round" fill="none"/>
<text x="1553.95" y="2101.10" text-anchor="middle">−1.0</text>
<text x="1677.22" y="2101.10" text-anchor="middle">−0.5</text>
<text x="1800.48" y="2101.10" text-anchor="middle">0.0</text>
<text x="1923.75" y="2101.10" text-anchor="middle">0.5</text>
<text x="2047.01" y="2101.10" text-anchor="middle">1.0</text>
<text transform="translate(1508.45 2032.60) rotate(-90)" text-anchor="middle">−1.0</text>
<text transform="translate(1508.45 1909.25) rotate(-90)" text-anchor="middle">−0.5</text>
<text transform="translate(1508.45 1785.90) rotate(-90)" text-anchor="middle">0.0</text>
<text transform="translate(1508.45 1662.55) rotate(-90)" text-anchor="middle">0.5</text>
<text transform="translate(1508.45 1539.20) rotate(-90)" text-anchor="middle">1.0</text>
<text x="1800.48" y="2138.60" text-anchor="middle">Original Cofitness</text>
<text transform="translate(1469.95 1785.90) rotate(-90)" text-anchor="middle">Replicate−Averaged Cofitness</text>
<text x="1800.48" y="1505.90" text-anchor="middle" font-weight="bold" font-size="40.0" letter-spacing="0">Dyella japonica UNC79MFTsu3.2</text>
<text x="1562.75" y="1561.80" fill="#006400">Same subrole</text>
<text x="1562.75" y="1591.00" fill="#ff0000">Different</text>
<text x="5.3" y="40.8" font-size="59" letter-spacing="0">A</text>
<text x="5.3" y="1484.4" font-size="59" letter-spacing="0">B</text>
</svg></body></html>
